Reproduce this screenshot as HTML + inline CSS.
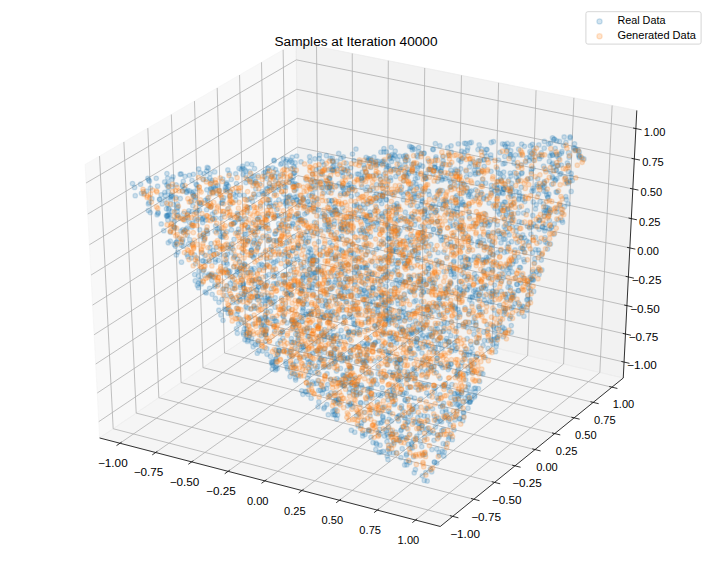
<!DOCTYPE html>
<html><head><meta charset="utf-8"><style>html,body{margin:0;padding:0;background:#fff;overflow:hidden}svg{display:block}circle{r:2.236px}</style></head><body><svg width="712" height="568" viewBox="0 0 712 568"><rect width="712" height="568" fill="#fff"/><polygon points="99.61,437.96 299.48,302.02 296.15,42.26 85.14,164.4" fill="rgb(242,242,242)" fill-opacity="0.5" stroke="rgb(242,242,242)" stroke-opacity="0.5" stroke-width="1"/><polygon points="299.48,302.02 623.25,378.02 636.8,110.43 296.15,42.26" fill="rgb(230,230,230)" fill-opacity="0.5" stroke="rgb(230,230,230)" stroke-opacity="0.5" stroke-width="1"/><polygon points="99.61,437.96 440.26,526.47 623.25,378.02 299.48,302.02" fill="rgb(236,236,236)" fill-opacity="0.5" stroke="rgb(236,236,236)" stroke-opacity="0.5" stroke-width="1"/><polyline points="99.61,437.96 440.26,526.47" fill="none" stroke="#000" stroke-width="0.8"/><polyline points="119.96,443.25 318.89,306.58 316.53,46.34" fill="none" stroke="#b0b0b0" stroke-width="0.8"/><polyline points="155.65,452.52 352.89,314.56 352.25,53.49" fill="none" stroke="#b0b0b0" stroke-width="0.8"/><polyline points="191.69,461.88 387.21,322.61 388.31,60.7" fill="none" stroke="#b0b0b0" stroke-width="0.8"/><polyline points="228.08,471.34 421.84,330.74 424.71,67.99" fill="none" stroke="#b0b0b0" stroke-width="0.8"/><polyline points="264.83,480.89 456.79,338.94 461.47,75.34" fill="none" stroke="#b0b0b0" stroke-width="0.8"/><polyline points="301.95,490.54 492.06,347.22 498.59,82.77" fill="none" stroke="#b0b0b0" stroke-width="0.8"/><polyline points="339.44,500.28 527.65,355.58 536.06,90.27" fill="none" stroke="#b0b0b0" stroke-width="0.8"/><polyline points="377.31,510.12 563.58,364.01 573.91,97.84" fill="none" stroke="#b0b0b0" stroke-width="0.8"/><polyline points="415.56,520.06 599.85,372.53 612.13,105.49" fill="none" stroke="#b0b0b0" stroke-width="0.8"/><polyline points="121.68,442.07 116.53,445.61" fill="none" stroke="#000" stroke-width="0.8"/><polyline points="157.35,451.33 152.24,454.9" fill="none" stroke="#000" stroke-width="0.8"/><polyline points="193.37,460.68 188.31,464.29" fill="none" stroke="#000" stroke-width="0.8"/><polyline points="229.75,470.13 224.73,473.77" fill="none" stroke="#000" stroke-width="0.8"/><polyline points="266.49,479.67 261.51,483.34" fill="none" stroke="#000" stroke-width="0.8"/><polyline points="303.59,489.3 298.66,493.01" fill="none" stroke="#000" stroke-width="0.8"/><polyline points="341.07,499.03 336.19,502.78" fill="none" stroke="#000" stroke-width="0.8"/><polyline points="378.92,508.85 374.09,512.65" fill="none" stroke="#000" stroke-width="0.8"/><polyline points="417.16,518.78 412.37,522.61" fill="none" stroke="#000" stroke-width="0.8"/><polyline points="623.25,378.02 440.26,526.47" fill="none" stroke="#000" stroke-width="0.8"/><polyline points="99.52,156.08 113.18,428.73 452.73,516.36" fill="none" stroke="#b0b0b0" stroke-width="0.8"/><polyline points="123.88,141.98 136.19,413.08 473.84,499.23" fill="none" stroke="#b0b0b0" stroke-width="0.8"/><polyline points="147.82,128.12 158.82,397.69 494.59,482.39" fill="none" stroke="#b0b0b0" stroke-width="0.8"/><polyline points="171.34,114.5 181.07,382.55 514.99,465.85" fill="none" stroke="#b0b0b0" stroke-width="0.8"/><polyline points="194.47,101.12 202.97,367.66 535.04,449.58" fill="none" stroke="#b0b0b0" stroke-width="0.8"/><polyline points="217.2,87.96 224.51,353.01 554.76,433.59" fill="none" stroke="#b0b0b0" stroke-width="0.8"/><polyline points="239.55,75.03 245.71,338.59 574.14,417.86" fill="none" stroke="#b0b0b0" stroke-width="0.8"/><polyline points="261.53,62.3 266.58,324.4 593.21,402.39" fill="none" stroke="#b0b0b0" stroke-width="0.8"/><polyline points="283.14,49.79 287.11,310.43 611.96,387.18" fill="none" stroke="#b0b0b0" stroke-width="0.8"/><polyline points="449.88,515.63 458.42,517.83" fill="none" stroke="#000" stroke-width="0.8"/><polyline points="471.02,498.51 479.5,500.67" fill="none" stroke="#000" stroke-width="0.8"/><polyline points="491.79,481.69 500.22,483.81" fill="none" stroke="#000" stroke-width="0.8"/><polyline points="512.2,465.15 520.58,467.24" fill="none" stroke="#000" stroke-width="0.8"/><polyline points="532.27,448.89 540.6,450.95" fill="none" stroke="#000" stroke-width="0.8"/><polyline points="552,432.91 560.28,434.93" fill="none" stroke="#000" stroke-width="0.8"/><polyline points="571.4,417.2 579.63,419.18" fill="none" stroke="#000" stroke-width="0.8"/><polyline points="590.48,401.74 598.67,403.69" fill="none" stroke="#000" stroke-width="0.8"/><polyline points="609.25,386.54 617.39,388.46" fill="none" stroke="#000" stroke-width="0.8"/><polyline points="623.25,378.02 636.8,110.43" fill="none" stroke="#000" stroke-width="0.8"/><polyline points="624.06,362.07 299.28,286.5 98.75,421.68" fill="none" stroke="#b0b0b0" stroke-width="0.8"/><polyline points="625.48,334.01 298.93,259.22 97.23,393.03" fill="none" stroke="#b0b0b0" stroke-width="0.8"/><polyline points="626.91,305.63 298.58,231.64 95.7,364.05" fill="none" stroke="#b0b0b0" stroke-width="0.8"/><polyline points="628.37,276.95 298.22,203.77 94.15,334.74" fill="none" stroke="#b0b0b0" stroke-width="0.8"/><polyline points="629.83,247.94 297.86,175.6 92.58,305.09" fill="none" stroke="#b0b0b0" stroke-width="0.8"/><polyline points="631.32,218.6 297.5,147.13 91,275.1" fill="none" stroke="#b0b0b0" stroke-width="0.8"/><polyline points="632.82,188.94 297.13,118.35 89.39,244.76" fill="none" stroke="#b0b0b0" stroke-width="0.8"/><polyline points="634.34,158.93 296.75,89.26 87.77,214.06" fill="none" stroke="#b0b0b0" stroke-width="0.8"/><polyline points="635.88,128.59 296.38,59.85 86.12,182.99" fill="none" stroke="#b0b0b0" stroke-width="0.8"/><polyline points="621.35,361.44 629.48,363.33" fill="none" stroke="#000" stroke-width="0.8"/><polyline points="622.75,333.38 630.93,335.26" fill="none" stroke="#000" stroke-width="0.8"/><polyline points="624.17,305.02 632.4,306.87" fill="none" stroke="#000" stroke-width="0.8"/><polyline points="625.61,276.33 633.89,278.17" fill="none" stroke="#000" stroke-width="0.8"/><polyline points="627.06,247.33 635.39,249.15" fill="none" stroke="#000" stroke-width="0.8"/><polyline points="628.53,218.01 636.9,219.8" fill="none" stroke="#000" stroke-width="0.8"/><polyline points="630.02,188.35 638.44,190.12" fill="none" stroke="#000" stroke-width="0.8"/><polyline points="631.52,158.35 639.99,160.1" fill="none" stroke="#000" stroke-width="0.8"/><polyline points="633.04,128.01 641.56,129.74" fill="none" stroke="#000" stroke-width="0.8"/><g font-family="Liberation Sans, sans-serif" font-size="10.5" text-anchor="middle" fill="#000"><text x="112.84" y="466.83" textLength="29.72" lengthAdjust="spacingAndGlyphs">−1.00</text><text x="148.52" y="476.18" textLength="29.72" lengthAdjust="spacingAndGlyphs">−0.75</text><text x="184.56" y="485.63" textLength="29.72" lengthAdjust="spacingAndGlyphs">−0.50</text><text x="220.95" y="495.16" textLength="29.72" lengthAdjust="spacingAndGlyphs">−0.25</text><text x="257.7" y="504.8" textLength="21.59" lengthAdjust="spacingAndGlyphs">0.00</text><text x="294.82" y="514.52" textLength="21.59" lengthAdjust="spacingAndGlyphs">0.25</text><text x="332.31" y="524.35" textLength="21.59" lengthAdjust="spacingAndGlyphs">0.50</text><text x="370.18" y="534.27" textLength="21.59" lengthAdjust="spacingAndGlyphs">0.75</text><text x="408.43" y="544.3" textLength="21.59" lengthAdjust="spacingAndGlyphs">1.00</text><text x="465.1" y="538.18" textLength="29.72" lengthAdjust="spacingAndGlyphs">−1.00</text><text x="486.1" y="520.95" textLength="29.72" lengthAdjust="spacingAndGlyphs">−0.75</text><text x="506.74" y="504.01" textLength="29.72" lengthAdjust="spacingAndGlyphs">−0.50</text><text x="527.03" y="487.36" textLength="29.72" lengthAdjust="spacingAndGlyphs">−0.25</text><text x="546.98" y="470.99" textLength="21.59" lengthAdjust="spacingAndGlyphs">0.00</text><text x="566.59" y="454.9" textLength="21.59" lengthAdjust="spacingAndGlyphs">0.25</text><text x="585.87" y="439.07" textLength="21.59" lengthAdjust="spacingAndGlyphs">0.50</text><text x="604.83" y="423.51" textLength="21.59" lengthAdjust="spacingAndGlyphs">0.75</text><text x="623.49" y="408.2" textLength="21.59" lengthAdjust="spacingAndGlyphs">1.00</text><text x="641.99" y="369.23" textLength="29.72" lengthAdjust="spacingAndGlyphs">−1.00</text><text x="643.51" y="341.19" textLength="29.72" lengthAdjust="spacingAndGlyphs">−0.75</text><text x="645.04" y="312.84" textLength="29.72" lengthAdjust="spacingAndGlyphs">−0.50</text><text x="646.59" y="284.17" textLength="29.72" lengthAdjust="spacingAndGlyphs">−0.25</text><text x="648.16" y="255.19" textLength="21.59" lengthAdjust="spacingAndGlyphs">0.00</text><text x="649.75" y="225.88" textLength="21.59" lengthAdjust="spacingAndGlyphs">0.25</text><text x="651.35" y="196.23" textLength="21.59" lengthAdjust="spacingAndGlyphs">0.50</text><text x="652.97" y="166.25" textLength="21.59" lengthAdjust="spacingAndGlyphs">0.75</text><text x="654.61" y="135.93" textLength="21.59" lengthAdjust="spacingAndGlyphs">1.00</text></g><g fill="#1f77b4" stroke="#1f77b4" fill-opacity="0.2" stroke-opacity="0.2" stroke-width="1.3"><circle cx="366.15" cy="267.24"/><circle cx="320.13" cy="350.44"/><circle cx="312.78" cy="353.22"/><circle cx="491.83" cy="245.14"/><circle cx="271.46" cy="361.79"/><circle cx="257.66" cy="296.7"/><circle cx="335.82" cy="209.94"/><circle cx="309.62" cy="327.94"/><circle cx="490.19" cy="221.73"/><circle cx="245.81" cy="218.53"/><circle cx="418.76" cy="151.71"/><circle cx="374.87" cy="325.92"/><circle cx="338.85" cy="399.38"/><circle cx="433.49" cy="332.15"/><circle cx="408.33" cy="241.32"/><circle cx="536.74" cy="184.53"/><circle cx="364.94" cy="208.21"/><circle cx="365.66" cy="303.8"/><circle cx="491.58" cy="263.59"/><circle cx="455.31" cy="350.25"/><circle cx="517.23" cy="165.7"/><circle cx="544.72" cy="230.87"/><circle cx="547.87" cy="197.57"/><circle cx="435.77" cy="212.11"/><circle cx="246.58" cy="328.96"/><circle cx="211.91" cy="180.48"/><circle cx="518.63" cy="149.24"/><circle cx="350.75" cy="353.28"/><circle cx="450.2" cy="226.16"/><circle cx="529.95" cy="299.24"/><circle cx="443.38" cy="429.57"/><circle cx="499.63" cy="305.35"/><circle cx="529.25" cy="160.58"/><circle cx="295.08" cy="348.2"/><circle cx="264.7" cy="176.51"/><circle cx="459.5" cy="405.96"/><circle cx="236.5" cy="183.55"/><circle cx="319.02" cy="373.79"/><circle cx="429.24" cy="169.59"/><circle cx="440.01" cy="297.74"/><circle cx="324.24" cy="317.41"/><circle cx="428.71" cy="336.87"/><circle cx="277.73" cy="354.17"/><circle cx="382.71" cy="196.39"/><circle cx="234.06" cy="222.93"/><circle cx="496.83" cy="328.5"/><circle cx="462.9" cy="291.51"/><circle cx="318.88" cy="401.95"/><circle cx="337.08" cy="273.35"/><circle cx="477.77" cy="299.15"/><circle cx="333.17" cy="414.77"/><circle cx="291.2" cy="294.6"/><circle cx="247.58" cy="226.94"/><circle cx="263.35" cy="332.85"/><circle cx="502.83" cy="268.74"/><circle cx="511.39" cy="212.66"/><circle cx="410.43" cy="279.29"/><circle cx="353.99" cy="332.76"/><circle cx="253.4" cy="273.07"/><circle cx="373.33" cy="288.21"/><circle cx="308.85" cy="374.89"/><circle cx="481.47" cy="171.86"/><circle cx="425.14" cy="314.09"/><circle cx="460.68" cy="293.42"/><circle cx="494.32" cy="339.32"/><circle cx="287.09" cy="367.08"/><circle cx="433.59" cy="229.11"/><circle cx="298.11" cy="227.7"/><circle cx="361.98" cy="217.2"/><circle cx="356.66" cy="394.76"/><circle cx="330.25" cy="158.41"/><circle cx="414.96" cy="354.72"/><circle cx="519.14" cy="221.63"/><circle cx="332.34" cy="315.59"/><circle cx="293.36" cy="173.21"/><circle cx="348.08" cy="185.08"/><circle cx="392.27" cy="257.39"/><circle cx="511.66" cy="189.73"/><circle cx="414.67" cy="173.11"/><circle cx="547.86" cy="196.88"/><circle cx="480.83" cy="194.04"/><circle cx="412.95" cy="369.43"/><circle cx="249.56" cy="207.98"/><circle cx="507.04" cy="299.44"/><circle cx="380.81" cy="184.87"/><circle cx="502.43" cy="327.18"/><circle cx="375.2" cy="298.37"/><circle cx="418.02" cy="193.46"/><circle cx="450.84" cy="170.14"/><circle cx="396.69" cy="296.78"/><circle cx="180.26" cy="218.39"/><circle cx="365.36" cy="233.94"/><circle cx="199.74" cy="203.19"/><circle cx="334.54" cy="275.97"/><circle cx="411.75" cy="216.58"/><circle cx="249.93" cy="198.97"/><circle cx="323.32" cy="389.64"/><circle cx="456.31" cy="185.94"/><circle cx="559.95" cy="174.24"/><circle cx="264.66" cy="285.23"/><circle cx="529.64" cy="227.91"/><circle cx="275.68" cy="181.07"/><circle cx="423.6" cy="281.51"/><circle cx="342.29" cy="186.07"/><circle cx="147.89" cy="178.33"/><circle cx="428.51" cy="268.48"/><circle cx="420.52" cy="281.33"/><circle cx="519.86" cy="306.84"/><circle cx="509.13" cy="234.9"/><circle cx="575.96" cy="149.65"/><circle cx="448.56" cy="420.67"/><circle cx="435.78" cy="158.82"/><circle cx="492.72" cy="270.23"/><circle cx="244.11" cy="195.39"/><circle cx="386.17" cy="320.33"/><circle cx="359.47" cy="247.82"/><circle cx="320.72" cy="317.6"/><circle cx="399.37" cy="318.32"/><circle cx="338.2" cy="317.89"/><circle cx="535.49" cy="237.39"/><circle cx="391.46" cy="345.13"/><circle cx="422.57" cy="259.65"/><circle cx="307.63" cy="201.92"/><circle cx="404.18" cy="219.02"/><circle cx="432.81" cy="311.23"/><circle cx="241.33" cy="293.21"/><circle cx="399.71" cy="370.13"/><circle cx="518.83" cy="198.45"/><circle cx="247.25" cy="272.97"/><circle cx="487.89" cy="234.57"/><circle cx="532.25" cy="278.69"/><circle cx="426.01" cy="173.67"/><circle cx="356.88" cy="206.12"/><circle cx="371.55" cy="223.24"/><circle cx="349.1" cy="378.69"/><circle cx="381.39" cy="296.42"/><circle cx="244.48" cy="169.44"/><circle cx="367.88" cy="250.9"/><circle cx="295.67" cy="334.18"/><circle cx="424.01" cy="217.52"/><circle cx="359.2" cy="230.41"/><circle cx="533.21" cy="280.01"/><circle cx="530.35" cy="145.83"/><circle cx="445.49" cy="383.58"/><circle cx="183.52" cy="213.56"/><circle cx="428.81" cy="226.18"/><circle cx="298.19" cy="205.02"/><circle cx="451.35" cy="351.35"/><circle cx="283.74" cy="281.43"/><circle cx="382.52" cy="393.42"/><circle cx="322.38" cy="393.39"/><circle cx="522.47" cy="248.54"/><circle cx="202.65" cy="222.51"/><circle cx="300.64" cy="283.94"/><circle cx="432.53" cy="408.77"/><circle cx="342.68" cy="381.96"/><circle cx="248.98" cy="336.48"/><circle cx="436.04" cy="287.41"/><circle cx="469.91" cy="360.97"/><circle cx="212.72" cy="218.66"/><circle cx="381.7" cy="203.56"/><circle cx="308.59" cy="241.22"/><circle cx="419.16" cy="209.33"/><circle cx="477.74" cy="245.64"/><circle cx="454.35" cy="342.59"/><circle cx="328.77" cy="210.89"/><circle cx="316.54" cy="383.39"/><circle cx="260.33" cy="318.92"/><circle cx="367" cy="360.22"/><circle cx="303.53" cy="276.82"/><circle cx="377.33" cy="402.24"/><circle cx="243.62" cy="334.52"/><circle cx="318.61" cy="311.15"/><circle cx="345.83" cy="379.19"/><circle cx="434.33" cy="282.69"/><circle cx="304.74" cy="214.1"/><circle cx="171.34" cy="196.46"/><circle cx="398.29" cy="371.86"/><circle cx="168.43" cy="214.68"/><circle cx="389.4" cy="251.34"/><circle cx="320.05" cy="354.21"/><circle cx="262.51" cy="351.01"/><circle cx="387.94" cy="273.79"/><circle cx="474.51" cy="396.88"/><circle cx="471.37" cy="369.77"/><circle cx="468.9" cy="194.48"/><circle cx="425.88" cy="243.47"/><circle cx="561.88" cy="212.69"/><circle cx="570.03" cy="137.91"/><circle cx="295.73" cy="327.31"/><circle cx="318.01" cy="406.82"/><circle cx="250.15" cy="300.76"/><circle cx="505.98" cy="213.69"/><circle cx="261.7" cy="304.58"/><circle cx="376.65" cy="444.34"/><circle cx="392.05" cy="338.27"/><circle cx="504.47" cy="311.8"/><circle cx="170.47" cy="232.3"/><circle cx="511.74" cy="183.5"/><circle cx="451.18" cy="152.22"/><circle cx="319.23" cy="158.61"/><circle cx="489.72" cy="301.64"/><circle cx="232.71" cy="298.07"/><circle cx="286.71" cy="242.85"/><circle cx="269.95" cy="203.31"/><circle cx="266.46" cy="258.76"/><circle cx="460.68" cy="257.59"/><circle cx="380.07" cy="445.18"/><circle cx="312.12" cy="287.95"/><circle cx="352.15" cy="218.94"/><circle cx="320.6" cy="296.32"/><circle cx="378.15" cy="341.21"/><circle cx="326.84" cy="312.69"/><circle cx="410.97" cy="277.22"/><circle cx="315.12" cy="372.25"/><circle cx="478.85" cy="295.89"/><circle cx="269.76" cy="199.66"/><circle cx="398.94" cy="440.65"/><circle cx="361" cy="425.83"/><circle cx="191.32" cy="258.03"/><circle cx="533.7" cy="190.5"/><circle cx="166.86" cy="185.01"/><circle cx="373" cy="175.72"/><circle cx="382.17" cy="277.59"/><circle cx="358.23" cy="425.94"/><circle cx="207.37" cy="198.58"/><circle cx="362.07" cy="277.34"/><circle cx="351.6" cy="368.13"/><circle cx="287.03" cy="322.91"/><circle cx="382.03" cy="229.64"/><circle cx="291.51" cy="198.24"/><circle cx="428.55" cy="384.88"/><circle cx="303.02" cy="238.3"/><circle cx="358.55" cy="273.29"/><circle cx="275.19" cy="297.73"/><circle cx="458.46" cy="398.94"/><circle cx="282.71" cy="182.38"/><circle cx="500.51" cy="178.86"/><circle cx="291.65" cy="226.13"/><circle cx="392.49" cy="434.23"/><circle cx="406.71" cy="192.56"/><circle cx="361.2" cy="289.42"/><circle cx="372.44" cy="287.28"/><circle cx="324.97" cy="348.3"/><circle cx="416.83" cy="406.99"/><circle cx="411.72" cy="268.03"/><circle cx="331.33" cy="232.1"/><circle cx="213.09" cy="276.97"/><circle cx="511.32" cy="308.19"/><circle cx="401.34" cy="249.93"/><circle cx="293.31" cy="259.52"/><circle cx="372.74" cy="223.66"/><circle cx="291.22" cy="295.28"/><circle cx="157.63" cy="186.24"/><circle cx="222.02" cy="247.44"/><circle cx="470.1" cy="392"/><circle cx="428.51" cy="160.96"/><circle cx="226.74" cy="184.39"/><circle cx="253.18" cy="346.87"/><circle cx="288.25" cy="256.13"/><circle cx="286.23" cy="200.98"/><circle cx="382.87" cy="417.73"/><circle cx="432.86" cy="204.68"/><circle cx="324.85" cy="366.49"/><circle cx="534.55" cy="262.96"/><circle cx="331.87" cy="288.39"/><circle cx="479.64" cy="381.47"/><circle cx="244.97" cy="264.84"/><circle cx="248.3" cy="272.58"/><circle cx="466.67" cy="354.99"/><circle cx="278.49" cy="183.47"/><circle cx="263.9" cy="330.93"/><circle cx="474.18" cy="256.76"/><circle cx="265.74" cy="317.74"/><circle cx="512.54" cy="264.07"/><circle cx="483.98" cy="296.03"/><circle cx="292.06" cy="162.35"/><circle cx="339.63" cy="165.93"/><circle cx="470.14" cy="400.79"/><circle cx="490.17" cy="252.62"/><circle cx="466.94" cy="401.03"/><circle cx="196.34" cy="212.49"/><circle cx="529.9" cy="151.72"/><circle cx="331.65" cy="252.05"/><circle cx="424.78" cy="437.51"/><circle cx="402.61" cy="330.02"/><circle cx="409.44" cy="434.11"/><circle cx="470.06" cy="402.08"/><circle cx="516.58" cy="226.98"/><circle cx="434.06" cy="340.73"/><circle cx="516.8" cy="284.17"/><circle cx="308.52" cy="282.74"/><circle cx="334.11" cy="354.57"/><circle cx="238.04" cy="311.27"/><circle cx="270.04" cy="298.69"/><circle cx="511.5" cy="241.69"/><circle cx="280.66" cy="164.27"/><circle cx="340.46" cy="368.4"/><circle cx="306.35" cy="274.45"/><circle cx="320.82" cy="359.81"/><circle cx="450.78" cy="282.52"/><circle cx="535.47" cy="208.94"/><circle cx="361.44" cy="178.94"/><circle cx="352.8" cy="406.9"/><circle cx="485.67" cy="183.2"/><circle cx="277.43" cy="284.39"/><circle cx="415.05" cy="250.35"/><circle cx="211.83" cy="280.29"/><circle cx="461.94" cy="188.45"/><circle cx="167.81" cy="220.09"/><circle cx="450.06" cy="220.96"/><circle cx="440.62" cy="177.19"/><circle cx="365.99" cy="296.77"/><circle cx="494.44" cy="310.02"/><circle cx="493.23" cy="254.83"/><circle cx="249.65" cy="171.5"/><circle cx="231.29" cy="179.39"/><circle cx="292.72" cy="223.12"/><circle cx="469.01" cy="206.11"/><circle cx="204.29" cy="238.54"/><circle cx="436.94" cy="397.42"/><circle cx="291.11" cy="351.75"/><circle cx="327.93" cy="311.23"/><circle cx="271.31" cy="205.8"/><circle cx="165.2" cy="195.49"/><circle cx="345.02" cy="273.58"/><circle cx="457.69" cy="205.88"/><circle cx="547.08" cy="243.31"/><circle cx="259.13" cy="269.44"/><circle cx="401.25" cy="436.25"/><circle cx="343.63" cy="323.45"/><circle cx="426.27" cy="178.53"/><circle cx="455.35" cy="197.25"/><circle cx="382.94" cy="162.21"/><circle cx="442.46" cy="405.72"/><circle cx="304.61" cy="206.68"/><circle cx="492.11" cy="241.95"/><circle cx="433.64" cy="433.09"/><circle cx="391.12" cy="291.18"/><circle cx="453.26" cy="206.16"/><circle cx="311.65" cy="274.58"/><circle cx="177.05" cy="208.53"/><circle cx="432.38" cy="282.93"/><circle cx="201.4" cy="283.88"/><circle cx="370.32" cy="395.91"/><circle cx="212.31" cy="214.19"/><circle cx="301.33" cy="221.47"/><circle cx="340.8" cy="158.47"/><circle cx="420.5" cy="226.53"/><circle cx="366.15" cy="172.18"/><circle cx="167.67" cy="178.08"/><circle cx="337.53" cy="415.02"/><circle cx="447.1" cy="323.2"/><circle cx="258.76" cy="194.39"/><circle cx="426.63" cy="344.89"/><circle cx="340.52" cy="354.54"/><circle cx="412.53" cy="217.07"/><circle cx="441.61" cy="421.84"/><circle cx="289.77" cy="195.7"/><circle cx="502.93" cy="204.48"/><circle cx="286.33" cy="202.12"/><circle cx="348.67" cy="381.89"/><circle cx="414.43" cy="196.84"/><circle cx="422.1" cy="190.93"/><circle cx="293.24" cy="177.43"/><circle cx="257.39" cy="228.1"/><circle cx="267.85" cy="168.86"/><circle cx="415.57" cy="387.22"/><circle cx="389.61" cy="452.54"/><circle cx="499.71" cy="237.35"/><circle cx="399.66" cy="415.37"/><circle cx="288.93" cy="308.04"/><circle cx="394.05" cy="440.6"/><circle cx="382.01" cy="284.55"/><circle cx="383.52" cy="192"/><circle cx="341.11" cy="268.96"/><circle cx="342.53" cy="268.48"/><circle cx="472.01" cy="348.23"/><circle cx="355.31" cy="378.07"/><circle cx="450.82" cy="242.05"/><circle cx="221.4" cy="237.07"/><circle cx="309.68" cy="269.63"/><circle cx="243.08" cy="284.94"/><circle cx="423.49" cy="343.87"/><circle cx="412.53" cy="147.83"/><circle cx="305.98" cy="179.86"/><circle cx="257.41" cy="296.16"/><circle cx="491" cy="158.34"/><circle cx="279.23" cy="350.94"/><circle cx="226.34" cy="295.46"/><circle cx="351.38" cy="196.27"/><circle cx="339.26" cy="344.15"/><circle cx="265.55" cy="340.69"/><circle cx="441.16" cy="171.1"/><circle cx="316.68" cy="278.2"/><circle cx="292.05" cy="319.88"/><circle cx="528.78" cy="242.11"/><circle cx="369.95" cy="214.92"/><circle cx="223.69" cy="262.91"/><circle cx="465.96" cy="389.84"/><circle cx="391.38" cy="421"/><circle cx="440.03" cy="394.73"/><circle cx="417.07" cy="338.42"/><circle cx="234.02" cy="239.34"/><circle cx="389.99" cy="412.92"/><circle cx="339.85" cy="355.86"/><circle cx="515.45" cy="154.88"/><circle cx="441.08" cy="240.49"/><circle cx="350.39" cy="375.73"/><circle cx="544.51" cy="212.7"/><circle cx="388.43" cy="257.92"/><circle cx="482.93" cy="373.79"/><circle cx="457.13" cy="404.73"/><circle cx="524.75" cy="201.55"/><circle cx="219.23" cy="228.51"/><circle cx="488.08" cy="235.78"/><circle cx="395.24" cy="229.65"/><circle cx="382.99" cy="451.32"/><circle cx="293.32" cy="364.38"/><circle cx="469.7" cy="142.91"/><circle cx="413.83" cy="411.51"/><circle cx="461.99" cy="158.86"/><circle cx="529.51" cy="282.54"/><circle cx="401.49" cy="192.6"/><circle cx="511.13" cy="205"/><circle cx="324.7" cy="219.36"/><circle cx="245.46" cy="324.98"/><circle cx="256.88" cy="289.85"/><circle cx="237.32" cy="333.25"/><circle cx="352.27" cy="190.04"/><circle cx="237.14" cy="308.1"/><circle cx="329.5" cy="178.31"/><circle cx="318.32" cy="315.73"/><circle cx="530.71" cy="178.27"/><circle cx="312.18" cy="258.29"/><circle cx="510.12" cy="191.5"/><circle cx="208.87" cy="274.15"/><circle cx="512.17" cy="271.95"/><circle cx="342.13" cy="222.29"/><circle cx="445.92" cy="409.66"/><circle cx="381.62" cy="213.83"/><circle cx="444.7" cy="416.7"/><circle cx="361.99" cy="186.75"/><circle cx="171.25" cy="195.86"/><circle cx="295.79" cy="321.51"/><circle cx="351.65" cy="187.17"/><circle cx="450.83" cy="397.68"/><circle cx="512.24" cy="219.51"/><circle cx="422" cy="353.08"/><circle cx="352.2" cy="244.03"/><circle cx="333.12" cy="328.77"/><circle cx="454.1" cy="393.45"/><circle cx="512.03" cy="294.68"/><circle cx="366.58" cy="355.61"/><circle cx="398.1" cy="303.89"/><circle cx="415.3" cy="331.32"/><circle cx="343.64" cy="187.97"/><circle cx="420.67" cy="279.33"/><circle cx="400.38" cy="374.17"/><circle cx="439.44" cy="455.3"/><circle cx="313.58" cy="383.78"/><circle cx="377.07" cy="384.25"/><circle cx="543.84" cy="191.1"/><circle cx="326.63" cy="388.53"/><circle cx="499.66" cy="267.33"/><circle cx="434.83" cy="163.7"/><circle cx="393.04" cy="375.48"/><circle cx="222.99" cy="320.29"/><circle cx="350.95" cy="347.51"/><circle cx="205.23" cy="291.95"/><circle cx="510.5" cy="300.05"/><circle cx="204.21" cy="173.63"/><circle cx="267.39" cy="189.09"/><circle cx="203.77" cy="234.59"/><circle cx="345.56" cy="279.14"/><circle cx="394.26" cy="205.24"/><circle cx="568.07" cy="203.88"/><circle cx="403.31" cy="344.73"/><circle cx="377.81" cy="311.64"/><circle cx="454.98" cy="345.33"/><circle cx="508.88" cy="273.44"/><circle cx="381.96" cy="295.47"/><circle cx="432.34" cy="249.66"/><circle cx="434.63" cy="392.14"/><circle cx="369.63" cy="290.98"/><circle cx="271.46" cy="187.69"/><circle cx="370.99" cy="437.25"/><circle cx="354.7" cy="389.9"/><circle cx="344.32" cy="357.44"/><circle cx="343.56" cy="287.32"/><circle cx="184.71" cy="220.59"/><circle cx="239.72" cy="299.34"/><circle cx="299.21" cy="201.86"/><circle cx="327.54" cy="220.74"/><circle cx="266.75" cy="178.5"/><circle cx="340.28" cy="337.5"/><circle cx="489.89" cy="296.59"/><circle cx="283.49" cy="316.6"/><circle cx="479.35" cy="294.98"/><circle cx="558.86" cy="158.63"/><circle cx="455.16" cy="416.05"/><circle cx="409.68" cy="146.39"/><circle cx="433.82" cy="370.25"/><circle cx="302.53" cy="321.45"/><circle cx="491.37" cy="339.17"/><circle cx="496.72" cy="291.97"/><circle cx="341.89" cy="360.97"/><circle cx="322.05" cy="255.68"/><circle cx="178.88" cy="238.71"/><circle cx="285.75" cy="187.48"/><circle cx="457.44" cy="376.36"/><circle cx="435.95" cy="156.87"/><circle cx="286.11" cy="197.69"/><circle cx="357.39" cy="295.73"/><circle cx="267.05" cy="194.27"/><circle cx="357.57" cy="257.25"/><circle cx="404.36" cy="293.94"/><circle cx="274.7" cy="194.02"/><circle cx="210.58" cy="188.9"/><circle cx="250.64" cy="316.81"/><circle cx="387.61" cy="225.94"/><circle cx="441.99" cy="180.03"/><circle cx="456.88" cy="195.57"/><circle cx="426.87" cy="219.31"/><circle cx="509.11" cy="224.36"/><circle cx="442.48" cy="190.65"/><circle cx="370.09" cy="416.06"/><circle cx="443.36" cy="204.67"/><circle cx="571.17" cy="173.5"/><circle cx="474.55" cy="274.11"/><circle cx="344.08" cy="219.46"/><circle cx="222.87" cy="237.07"/><circle cx="301.31" cy="218.98"/><circle cx="438.65" cy="344.1"/><circle cx="392.52" cy="194.53"/><circle cx="399.81" cy="309.85"/><circle cx="309.95" cy="161.34"/><circle cx="366.77" cy="311.56"/><circle cx="282.74" cy="331.76"/><circle cx="263.02" cy="193.86"/><circle cx="304.05" cy="329.63"/><circle cx="400.78" cy="430.58"/><circle cx="388.77" cy="344.26"/><circle cx="393.56" cy="169.94"/><circle cx="475.44" cy="388.13"/><circle cx="533.72" cy="274.05"/><circle cx="500.83" cy="209.73"/><circle cx="320.58" cy="348.63"/><circle cx="287.11" cy="159.66"/><circle cx="352.63" cy="390.7"/><circle cx="385.43" cy="301.15"/><circle cx="436.81" cy="448.94"/><circle cx="411.64" cy="443.3"/><circle cx="334.23" cy="285.34"/><circle cx="206.27" cy="292.93"/><circle cx="360.16" cy="359.86"/><circle cx="442.28" cy="165.74"/><circle cx="176.21" cy="184.83"/><circle cx="480.47" cy="292.23"/><circle cx="364.96" cy="247.14"/><circle cx="424.22" cy="416.02"/><circle cx="214.93" cy="284.94"/><circle cx="347.35" cy="282.36"/><circle cx="263.58" cy="325.2"/><circle cx="436.44" cy="362.23"/><circle cx="289.57" cy="356.35"/><circle cx="182.67" cy="185.86"/><circle cx="407.98" cy="216.62"/><circle cx="533.63" cy="160.34"/><circle cx="308.68" cy="336.34"/><circle cx="310.69" cy="339.62"/><circle cx="292.74" cy="365.01"/><circle cx="274.78" cy="275.66"/><circle cx="436.28" cy="325.04"/><circle cx="386.78" cy="166.68"/><circle cx="390.25" cy="352.91"/><circle cx="314.16" cy="232.39"/><circle cx="347.21" cy="168.91"/><circle cx="507.92" cy="208.72"/><circle cx="227.68" cy="208.95"/><circle cx="487.26" cy="222.57"/><circle cx="332.19" cy="158.12"/><circle cx="436.76" cy="170.53"/><circle cx="537.79" cy="178.84"/><circle cx="395.47" cy="432.16"/><circle cx="501" cy="242.84"/><circle cx="392.09" cy="244.73"/><circle cx="368.44" cy="158.58"/><circle cx="418.55" cy="423.33"/><circle cx="471.89" cy="303.69"/><circle cx="410.15" cy="188.42"/><circle cx="369.98" cy="372.74"/><circle cx="514.04" cy="292.05"/><circle cx="424.43" cy="176.22"/><circle cx="405.11" cy="437.85"/><circle cx="419.1" cy="281.89"/><circle cx="255.49" cy="344.71"/><circle cx="330.21" cy="272.96"/><circle cx="410.66" cy="351.73"/><circle cx="449.44" cy="367.58"/><circle cx="365.14" cy="239.22"/><circle cx="401.9" cy="328.82"/><circle cx="323.44" cy="367.43"/><circle cx="221.5" cy="202.9"/><circle cx="412.83" cy="201.13"/><circle cx="295.01" cy="285.18"/><circle cx="455.02" cy="180.75"/><circle cx="254.85" cy="280.46"/><circle cx="183.58" cy="232.3"/><circle cx="405.14" cy="173.79"/><circle cx="541.68" cy="254.87"/><circle cx="394.12" cy="320.79"/><circle cx="475.78" cy="292.66"/><circle cx="457.57" cy="392.29"/><circle cx="261.21" cy="317.96"/><circle cx="485.52" cy="288.59"/><circle cx="581.83" cy="157.86"/><circle cx="505.69" cy="331.28"/><circle cx="372.09" cy="274.3"/><circle cx="380.1" cy="412.96"/><circle cx="454.22" cy="274.34"/><circle cx="445.03" cy="288.72"/><circle cx="454.34" cy="277.01"/><circle cx="281.76" cy="163.34"/><circle cx="274.88" cy="176.6"/><circle cx="197.31" cy="285.33"/><circle cx="447.73" cy="244.04"/><circle cx="399.27" cy="190.9"/><circle cx="412.63" cy="251.58"/><circle cx="310.6" cy="371.55"/><circle cx="543.55" cy="166.12"/><circle cx="212.14" cy="294.31"/><circle cx="342.85" cy="385.58"/><circle cx="337.6" cy="341.47"/><circle cx="264.2" cy="295.06"/><circle cx="488.51" cy="277.95"/><circle cx="414.62" cy="247.41"/><circle cx="474.01" cy="363.87"/><circle cx="428.7" cy="274.34"/><circle cx="318.54" cy="241.7"/><circle cx="251.29" cy="250.52"/><circle cx="366.31" cy="402.64"/><circle cx="222.13" cy="299.34"/><circle cx="463.87" cy="268.94"/><circle cx="380.52" cy="281.1"/><circle cx="373.2" cy="315.15"/><circle cx="456.46" cy="337.26"/><circle cx="391.71" cy="232.05"/><circle cx="419.92" cy="423.98"/><circle cx="329.49" cy="321.88"/><circle cx="470.47" cy="238.1"/><circle cx="215.15" cy="231.32"/><circle cx="507.05" cy="251.6"/><circle cx="294.51" cy="172.92"/><circle cx="457.72" cy="370.62"/><circle cx="411.89" cy="164.32"/><circle cx="437.21" cy="221.69"/><circle cx="326.37" cy="289.37"/><circle cx="428.5" cy="309.55"/><circle cx="274.13" cy="318.33"/><circle cx="254.71" cy="196.92"/><circle cx="272.01" cy="363.89"/><circle cx="378.5" cy="288.47"/><circle cx="339.84" cy="296.17"/><circle cx="294.51" cy="275.24"/><circle cx="338.38" cy="398.83"/><circle cx="427.53" cy="428.3"/><circle cx="168.64" cy="209.64"/><circle cx="318.77" cy="267.08"/><circle cx="266.23" cy="319.91"/><circle cx="442.59" cy="239.82"/><circle cx="473.18" cy="161.51"/><circle cx="502.14" cy="192.7"/><circle cx="323.98" cy="164.81"/><circle cx="331.34" cy="339.48"/><circle cx="358.71" cy="174.22"/><circle cx="374.8" cy="210.82"/><circle cx="286.25" cy="166.33"/><circle cx="335.31" cy="210.17"/><circle cx="322.27" cy="174.23"/><circle cx="354.29" cy="267.16"/><circle cx="409.77" cy="386.99"/><circle cx="328.9" cy="227.12"/><circle cx="356.77" cy="385.9"/><circle cx="315.84" cy="325.39"/><circle cx="399.96" cy="230.79"/><circle cx="527.29" cy="210.73"/><circle cx="300.58" cy="262.9"/><circle cx="271.2" cy="176.62"/><circle cx="354.34" cy="272.41"/><circle cx="296.49" cy="199.92"/><circle cx="243.5" cy="245.37"/><circle cx="223.8" cy="197.74"/><circle cx="341.81" cy="383.03"/><circle cx="539.66" cy="220.05"/><circle cx="390.63" cy="207.35"/><circle cx="293.67" cy="236.55"/><circle cx="452.31" cy="439.71"/><circle cx="367.45" cy="343.65"/><circle cx="431.16" cy="234.75"/><circle cx="321.69" cy="331.98"/><circle cx="305.68" cy="314.51"/><circle cx="397.61" cy="235.16"/><circle cx="430" cy="280.49"/><circle cx="523.71" cy="259.43"/><circle cx="373.73" cy="345.26"/><circle cx="187.87" cy="256.71"/><circle cx="331.04" cy="315.31"/><circle cx="430.03" cy="255.87"/><circle cx="344.85" cy="375.63"/><circle cx="527.31" cy="226.18"/><circle cx="351.34" cy="278.59"/><circle cx="321.35" cy="181.12"/><circle cx="500.45" cy="250.38"/><circle cx="366.85" cy="349.33"/><circle cx="437.1" cy="421.53"/><circle cx="177.82" cy="207.16"/><circle cx="186.43" cy="229.39"/><circle cx="538.88" cy="156.12"/><circle cx="272.23" cy="175.01"/><circle cx="192.07" cy="211.56"/><circle cx="388.37" cy="352.85"/><circle cx="347.73" cy="405.79"/><circle cx="391.7" cy="238.44"/><circle cx="448.86" cy="437.12"/><circle cx="491.58" cy="268.62"/><circle cx="448.9" cy="418.74"/><circle cx="450.17" cy="269.34"/><circle cx="339.12" cy="279.24"/><circle cx="230" cy="271.25"/><circle cx="312.35" cy="195.6"/><circle cx="418.41" cy="245.54"/><circle cx="326.57" cy="253.83"/><circle cx="252.66" cy="245.06"/><circle cx="478.42" cy="388.57"/><circle cx="539.47" cy="158.64"/><circle cx="516.18" cy="191.47"/><circle cx="202.48" cy="260.78"/><circle cx="413.15" cy="405.43"/><circle cx="404.63" cy="263.74"/><circle cx="352.5" cy="154.02"/><circle cx="379.34" cy="358.77"/><circle cx="194.71" cy="274.58"/><circle cx="386.14" cy="286.4"/><circle cx="458.98" cy="204.78"/><circle cx="501.2" cy="291.46"/><circle cx="270.48" cy="311.22"/><circle cx="385.32" cy="332.46"/><circle cx="171.99" cy="211.52"/><circle cx="354.04" cy="187.29"/><circle cx="336.74" cy="400.14"/><circle cx="383.57" cy="275.28"/><circle cx="395.67" cy="260.74"/><circle cx="302.72" cy="274.56"/><circle cx="463.77" cy="412.85"/><circle cx="417.63" cy="156.92"/><circle cx="296.23" cy="215.5"/><circle cx="464.98" cy="307.86"/><circle cx="172.13" cy="219.38"/><circle cx="433.35" cy="306.66"/><circle cx="491.56" cy="189.47"/><circle cx="400.13" cy="440.34"/><circle cx="422.63" cy="328.67"/><circle cx="277.52" cy="215.58"/><circle cx="356.36" cy="361.67"/><circle cx="335.61" cy="258.2"/><circle cx="188.88" cy="210.78"/><circle cx="434.47" cy="462.18"/><circle cx="514.51" cy="172.33"/><circle cx="344.03" cy="193.55"/><circle cx="303.18" cy="198.38"/><circle cx="462.09" cy="260.88"/><circle cx="522.63" cy="196.31"/><circle cx="455.16" cy="217.81"/><circle cx="413.24" cy="311.1"/><circle cx="561.35" cy="153.15"/><circle cx="384.76" cy="256.84"/><circle cx="347.96" cy="291.74"/><circle cx="399.46" cy="359.81"/><circle cx="520.49" cy="267.63"/><circle cx="449.78" cy="267.74"/><circle cx="267.48" cy="282.38"/><circle cx="492.82" cy="290.99"/><circle cx="316.83" cy="368.16"/><circle cx="364.52" cy="167.72"/><circle cx="484.8" cy="152.91"/><circle cx="405.51" cy="281.66"/><circle cx="344.46" cy="289"/><circle cx="362.77" cy="267.21"/><circle cx="567.04" cy="182.29"/><circle cx="367.76" cy="390.98"/><circle cx="272.99" cy="361.55"/><circle cx="385.75" cy="271.01"/><circle cx="258.64" cy="287.12"/><circle cx="312.04" cy="286.26"/><circle cx="501.71" cy="330.97"/><circle cx="457.08" cy="287.53"/><circle cx="379.1" cy="247.13"/><circle cx="295.97" cy="189"/><circle cx="402.89" cy="316.35"/><circle cx="247.77" cy="227.44"/><circle cx="168.25" cy="191.5"/><circle cx="324.75" cy="215.35"/><circle cx="503.43" cy="336.63"/><circle cx="539.12" cy="274.4"/><circle cx="384.29" cy="377.67"/><circle cx="335.58" cy="259.73"/><circle cx="301.01" cy="290.11"/><circle cx="295.05" cy="162.75"/><circle cx="549.35" cy="161.46"/><circle cx="470.3" cy="174.51"/><circle cx="372.86" cy="290.91"/><circle cx="405.24" cy="418.03"/><circle cx="323.71" cy="247.36"/><circle cx="369.14" cy="159.87"/><circle cx="392.69" cy="389.9"/><circle cx="405.43" cy="282.63"/><circle cx="357.36" cy="384.08"/><circle cx="364.12" cy="346"/><circle cx="511.19" cy="220.22"/><circle cx="406.92" cy="464.8"/><circle cx="314.33" cy="200.63"/><circle cx="283.02" cy="303.41"/><circle cx="342.43" cy="207.9"/><circle cx="237.36" cy="271.77"/><circle cx="286.02" cy="361.61"/><circle cx="538.85" cy="144.94"/><circle cx="389.55" cy="308.56"/><circle cx="422.05" cy="198.22"/><circle cx="230.93" cy="313.8"/><circle cx="216.79" cy="193.23"/><circle cx="535.41" cy="249.66"/><circle cx="464.42" cy="354.63"/><circle cx="370.48" cy="236.6"/><circle cx="189.52" cy="222.48"/><circle cx="468.08" cy="387.06"/><circle cx="376.66" cy="327.83"/><circle cx="457.01" cy="227.55"/><circle cx="355.1" cy="281.87"/><circle cx="316.34" cy="297.99"/><circle cx="226.22" cy="309.35"/><circle cx="406.95" cy="237.24"/><circle cx="383.79" cy="304.95"/><circle cx="388.35" cy="426.4"/><circle cx="289.4" cy="241.12"/><circle cx="375.6" cy="265.87"/><circle cx="245.13" cy="291.7"/><circle cx="318.97" cy="362.49"/><circle cx="491.22" cy="142.5"/><circle cx="229.68" cy="309.82"/><circle cx="197.32" cy="188.54"/><circle cx="214.65" cy="286.64"/><circle cx="444.24" cy="307.62"/><circle cx="215.3" cy="262.09"/><circle cx="336.81" cy="169.02"/><circle cx="357.72" cy="355.74"/><circle cx="490.71" cy="154.93"/><circle cx="579.27" cy="156.25"/><circle cx="387.58" cy="193.09"/><circle cx="283.39" cy="230.57"/><circle cx="379.93" cy="269.12"/><circle cx="442.23" cy="262.93"/><circle cx="341.84" cy="229.94"/><circle cx="149.44" cy="181.18"/><circle cx="297.05" cy="199.88"/><circle cx="328.44" cy="280.07"/><circle cx="372.63" cy="252.32"/><circle cx="532.35" cy="144.28"/><circle cx="193.65" cy="196.18"/><circle cx="481.8" cy="148.99"/><circle cx="349.88" cy="367.05"/><circle cx="513.36" cy="158.77"/><circle cx="313.59" cy="273.05"/><circle cx="148.37" cy="210.4"/><circle cx="395.96" cy="280.28"/><circle cx="403.03" cy="281.84"/><circle cx="223.56" cy="214.05"/><circle cx="404.34" cy="417.43"/><circle cx="451.16" cy="364.22"/><circle cx="461.13" cy="289.91"/><circle cx="510.8" cy="316.4"/><circle cx="392.45" cy="284.4"/><circle cx="173.5" cy="204.61"/><circle cx="381.55" cy="376.93"/><circle cx="472.29" cy="328.65"/><circle cx="526.75" cy="299.81"/><circle cx="364.37" cy="267.81"/><circle cx="407.48" cy="265.8"/><circle cx="308.02" cy="394.31"/><circle cx="389.73" cy="314.12"/><circle cx="465.59" cy="348.99"/><circle cx="309.17" cy="313.88"/><circle cx="287.55" cy="368.72"/><circle cx="300.49" cy="350.13"/><circle cx="326.19" cy="304.6"/><circle cx="439.93" cy="331.99"/><circle cx="394.66" cy="168.82"/><circle cx="373.05" cy="442.6"/><circle cx="389.83" cy="312.61"/><circle cx="343.73" cy="282.52"/><circle cx="477.55" cy="166"/><circle cx="235.43" cy="195.84"/><circle cx="260.88" cy="326.65"/><circle cx="546.79" cy="194.96"/><circle cx="541.32" cy="260.12"/><circle cx="209.77" cy="178.13"/><circle cx="386.23" cy="199.4"/><circle cx="398.31" cy="173.39"/><circle cx="383.13" cy="332.94"/><circle cx="499.01" cy="204.22"/><circle cx="232.47" cy="288.18"/><circle cx="205" cy="255.67"/><circle cx="519.64" cy="195.67"/><circle cx="268.1" cy="167.92"/><circle cx="348.24" cy="193.23"/><circle cx="279.4" cy="240.3"/><circle cx="461.45" cy="229.07"/><circle cx="294.41" cy="323.91"/><circle cx="400.46" cy="167.65"/><circle cx="362.35" cy="343.58"/><circle cx="335.4" cy="299.34"/><circle cx="283.18" cy="219.58"/><circle cx="463.6" cy="237.11"/><circle cx="433.65" cy="366.78"/><circle cx="298.87" cy="300.11"/><circle cx="250.28" cy="179.17"/><circle cx="327.67" cy="294.63"/><circle cx="359.47" cy="288.82"/><circle cx="341.23" cy="172.07"/><circle cx="183.2" cy="246.16"/><circle cx="312.88" cy="256.14"/><circle cx="249.4" cy="333.39"/><circle cx="416.08" cy="374.39"/><circle cx="413.74" cy="163.93"/><circle cx="419.89" cy="164.97"/><circle cx="289.22" cy="226.08"/><circle cx="340.54" cy="228.97"/><circle cx="342.94" cy="374.99"/><circle cx="484.37" cy="340.55"/><circle cx="329.09" cy="223.27"/><circle cx="211.76" cy="257.32"/><circle cx="235.78" cy="173.74"/><circle cx="268.51" cy="295.74"/><circle cx="368.33" cy="431.2"/><circle cx="482.46" cy="312.24"/><circle cx="510.75" cy="150.72"/><circle cx="170.27" cy="241.07"/><circle cx="447.68" cy="147.68"/><circle cx="182.28" cy="185.24"/><circle cx="385.97" cy="179.1"/><circle cx="325.46" cy="306.29"/><circle cx="300.37" cy="298.37"/><circle cx="194.06" cy="195.54"/><circle cx="274.55" cy="218.25"/><circle cx="461.83" cy="391.19"/><circle cx="388.86" cy="447.68"/><circle cx="366.04" cy="254.71"/><circle cx="454.32" cy="212.04"/><circle cx="287.71" cy="293.24"/><circle cx="541.88" cy="269.89"/><circle cx="344.29" cy="316.8"/><circle cx="565.86" cy="196.66"/><circle cx="504.06" cy="314.5"/><circle cx="355.39" cy="346.86"/><circle cx="350.39" cy="254.48"/><circle cx="422.12" cy="425.45"/><circle cx="423.22" cy="454.66"/><circle cx="332.87" cy="411.15"/><circle cx="476.06" cy="342.34"/><circle cx="423.1" cy="360.24"/><circle cx="226.95" cy="189.12"/><circle cx="298.06" cy="245.14"/><circle cx="534.78" cy="259"/><circle cx="242.28" cy="222.44"/><circle cx="394.71" cy="395.55"/><circle cx="504.28" cy="328.73"/><circle cx="440.28" cy="363.79"/><circle cx="432.99" cy="173.85"/><circle cx="412.96" cy="333.11"/><circle cx="228.16" cy="245.12"/><circle cx="426.17" cy="377.08"/><circle cx="252.42" cy="201.3"/><circle cx="412.25" cy="149.82"/><circle cx="298.43" cy="213.42"/><circle cx="241.43" cy="265.58"/><circle cx="329.39" cy="282.33"/><circle cx="402.89" cy="410.87"/><circle cx="309.36" cy="238.06"/><circle cx="349.95" cy="314.34"/><circle cx="272.86" cy="302.16"/><circle cx="258.05" cy="175.71"/><circle cx="396.34" cy="208.17"/><circle cx="359.48" cy="267.17"/><circle cx="298.3" cy="335.5"/><circle cx="309.87" cy="259.92"/><circle cx="282.73" cy="310.32"/><circle cx="175.98" cy="197.51"/><circle cx="292.54" cy="327.69"/><circle cx="449.32" cy="390.66"/><circle cx="510.34" cy="287.83"/><circle cx="180.32" cy="198.49"/><circle cx="499.1" cy="233.46"/><circle cx="524.76" cy="245.56"/><circle cx="394.87" cy="219.01"/><circle cx="482.51" cy="179.51"/><circle cx="258.84" cy="228.39"/><circle cx="227.05" cy="190.63"/><circle cx="461.64" cy="393.66"/><circle cx="336.83" cy="359.29"/><circle cx="488.86" cy="291.64"/><circle cx="349.47" cy="317.2"/><circle cx="356" cy="269.5"/><circle cx="575.06" cy="148.31"/><circle cx="289.43" cy="182.16"/><circle cx="243.58" cy="283.2"/><circle cx="486.26" cy="149.5"/><circle cx="462.77" cy="420.64"/><circle cx="205.82" cy="261.87"/><circle cx="526.75" cy="157.79"/><circle cx="198.51" cy="276.13"/><circle cx="465.77" cy="379.82"/><circle cx="491.94" cy="192.93"/><circle cx="247.76" cy="240.48"/><circle cx="269.19" cy="239.42"/><circle cx="273.91" cy="240.69"/><circle cx="560.25" cy="205.16"/><circle cx="518.74" cy="199.66"/><circle cx="480.31" cy="160.7"/><circle cx="466" cy="171.24"/><circle cx="498.09" cy="211.8"/><circle cx="198.53" cy="287.69"/><circle cx="378.06" cy="373.67"/><circle cx="533.08" cy="279.75"/><circle cx="551.79" cy="184.31"/><circle cx="285.97" cy="274.42"/><circle cx="449.96" cy="202.12"/><circle cx="310.69" cy="181.81"/><circle cx="354.55" cy="324.63"/><circle cx="504.56" cy="144.32"/><circle cx="385.37" cy="274.74"/><circle cx="520.56" cy="283.08"/><circle cx="232.59" cy="302.45"/><circle cx="409.77" cy="319.48"/><circle cx="387.18" cy="364.94"/><circle cx="335.94" cy="280"/><circle cx="231.52" cy="229.96"/><circle cx="236.95" cy="302.22"/><circle cx="290.71" cy="168.83"/><circle cx="361.89" cy="282.12"/><circle cx="425.91" cy="319.17"/><circle cx="389.8" cy="372.05"/><circle cx="384.43" cy="293.46"/><circle cx="290.85" cy="203.66"/><circle cx="386.06" cy="315.48"/><circle cx="175.52" cy="246.32"/><circle cx="460.51" cy="406.71"/><circle cx="238.98" cy="270.14"/><circle cx="492.6" cy="339.91"/><circle cx="182.54" cy="190.74"/><circle cx="424.85" cy="210.18"/><circle cx="420.75" cy="367.24"/><circle cx="342.51" cy="307.41"/><circle cx="344.08" cy="226.58"/><circle cx="442.54" cy="385.99"/><circle cx="552.36" cy="176.65"/><circle cx="510.23" cy="267.76"/><circle cx="235.67" cy="200.23"/><circle cx="394.27" cy="226.73"/><circle cx="358.96" cy="313.34"/><circle cx="344.71" cy="294.68"/><circle cx="409.42" cy="377.24"/><circle cx="398.09" cy="228.58"/><circle cx="440.01" cy="378.26"/><circle cx="429.92" cy="334.74"/><circle cx="457.05" cy="317.71"/><circle cx="294.78" cy="197.1"/><circle cx="340.19" cy="264.4"/><circle cx="440.61" cy="344.25"/><circle cx="444.08" cy="200.97"/><circle cx="369.21" cy="271.5"/><circle cx="334.86" cy="282.37"/><circle cx="360.6" cy="392.72"/><circle cx="342.3" cy="354.54"/><circle cx="414.43" cy="341.15"/><circle cx="327.08" cy="373.74"/><circle cx="406.06" cy="256.91"/><circle cx="367.66" cy="234.22"/><circle cx="308.46" cy="311.44"/><circle cx="523.33" cy="249.24"/><circle cx="405.14" cy="376.27"/><circle cx="372.07" cy="261.27"/><circle cx="412.65" cy="409.16"/><circle cx="452.03" cy="347.91"/><circle cx="375.33" cy="342.27"/><circle cx="557.24" cy="165.58"/><circle cx="331.09" cy="212.73"/><circle cx="269.84" cy="239.49"/><circle cx="359.9" cy="351.59"/><circle cx="349.92" cy="291.2"/><circle cx="357.97" cy="240.36"/><circle cx="258.95" cy="226.69"/><circle cx="362.77" cy="228.32"/><circle cx="409.2" cy="333.82"/><circle cx="435.03" cy="303.82"/><circle cx="258.56" cy="286.35"/><circle cx="414.73" cy="290.14"/><circle cx="503.7" cy="172.02"/><circle cx="488.4" cy="232.56"/><circle cx="465.71" cy="374.13"/><circle cx="206.84" cy="189.74"/><circle cx="360.38" cy="207.09"/><circle cx="269.34" cy="183.15"/><circle cx="445.7" cy="200.18"/><circle cx="526.62" cy="310.41"/><circle cx="321.22" cy="229.92"/><circle cx="319.33" cy="336.78"/><circle cx="229.36" cy="196.28"/><circle cx="473.13" cy="322.01"/><circle cx="387.95" cy="307.76"/><circle cx="187.32" cy="235.3"/><circle cx="322.23" cy="161.81"/><circle cx="439.35" cy="228.09"/><circle cx="247.94" cy="308.06"/><circle cx="265.43" cy="334.5"/><circle cx="169" cy="208.28"/><circle cx="421.94" cy="362.72"/><circle cx="422.66" cy="166.22"/><circle cx="326.43" cy="229.77"/><circle cx="320.91" cy="384.19"/><circle cx="441.88" cy="430.58"/><circle cx="343.8" cy="168.97"/><circle cx="445.42" cy="178.78"/><circle cx="450.08" cy="414.47"/><circle cx="463.07" cy="183.35"/><circle cx="322.55" cy="305.79"/><circle cx="446.83" cy="175.29"/><circle cx="475.29" cy="289.77"/><circle cx="245.92" cy="170.98"/><circle cx="550.64" cy="171.26"/><circle cx="294.87" cy="342.81"/><circle cx="348.22" cy="221.27"/><circle cx="395.93" cy="339.44"/><circle cx="556.78" cy="212.06"/><circle cx="182.47" cy="241.75"/><circle cx="239.74" cy="268.61"/><circle cx="534.13" cy="153.54"/><circle cx="402.49" cy="241.79"/><circle cx="356.45" cy="384.54"/><circle cx="512.16" cy="226.64"/><circle cx="268.57" cy="214.08"/><circle cx="388.22" cy="299.27"/><circle cx="317.83" cy="285.78"/><circle cx="470.66" cy="162.89"/><circle cx="298.65" cy="344.21"/><circle cx="524.45" cy="237.78"/><circle cx="285.23" cy="282.68"/><circle cx="375.63" cy="200.65"/><circle cx="455.49" cy="169.4"/><circle cx="410.94" cy="358.26"/><circle cx="173.37" cy="226.54"/><circle cx="406.67" cy="428.1"/><circle cx="312.57" cy="179.29"/><circle cx="439.85" cy="145.73"/><circle cx="470.41" cy="297.05"/><circle cx="409.61" cy="462.45"/><circle cx="499.15" cy="277.67"/><circle cx="211.33" cy="274.7"/><circle cx="412.03" cy="198.54"/><circle cx="504.14" cy="273.74"/><circle cx="542.39" cy="226.57"/><circle cx="316.05" cy="169.68"/><circle cx="398.02" cy="260.6"/><circle cx="159.79" cy="199.41"/><circle cx="469.65" cy="299.75"/><circle cx="519.36" cy="207.37"/><circle cx="479.9" cy="242.7"/><circle cx="224.05" cy="234.31"/><circle cx="271.46" cy="249.92"/><circle cx="318.7" cy="390.44"/><circle cx="275.51" cy="368.03"/><circle cx="524.37" cy="261.68"/><circle cx="381.91" cy="422.24"/><circle cx="556.87" cy="178.54"/><circle cx="284.55" cy="186.51"/><circle cx="166.47" cy="208.77"/><circle cx="525.73" cy="162.29"/><circle cx="326.85" cy="334.72"/><circle cx="486.41" cy="257.45"/><circle cx="430.35" cy="349.33"/><circle cx="335.41" cy="256.72"/><circle cx="417.76" cy="260.7"/><circle cx="473.96" cy="334.27"/><circle cx="551.49" cy="226.83"/><circle cx="307.74" cy="255.65"/><circle cx="267.45" cy="300.07"/><circle cx="463.97" cy="157.17"/><circle cx="469.26" cy="239.33"/><circle cx="231.16" cy="296.67"/><circle cx="236.86" cy="191.87"/><circle cx="414.55" cy="398.17"/><circle cx="247.42" cy="341.38"/><circle cx="394.82" cy="270"/><circle cx="176.45" cy="242.08"/><circle cx="566.29" cy="199.54"/><circle cx="451.34" cy="173.7"/><circle cx="174.32" cy="244.57"/><circle cx="443.26" cy="331.12"/><circle cx="283.94" cy="259.37"/><circle cx="538.2" cy="269.57"/><circle cx="363.88" cy="420.56"/><circle cx="436.52" cy="260.31"/><circle cx="336.61" cy="185.94"/><circle cx="511.55" cy="188"/><circle cx="518.2" cy="302.62"/><circle cx="285.99" cy="290.64"/><circle cx="226.18" cy="289.44"/><circle cx="283.39" cy="158.84"/><circle cx="444.09" cy="203.97"/><circle cx="370.25" cy="304.01"/><circle cx="275.58" cy="359.25"/><circle cx="328.83" cy="177.99"/><circle cx="330.51" cy="289.28"/><circle cx="405.17" cy="399.67"/><circle cx="335.72" cy="399.82"/><circle cx="550.39" cy="243.93"/><circle cx="583.93" cy="158.94"/><circle cx="462.74" cy="202.2"/><circle cx="423.31" cy="307.02"/><circle cx="302.56" cy="310.8"/><circle cx="192.04" cy="227.12"/><circle cx="429.27" cy="194.64"/><circle cx="421.15" cy="204.77"/><circle cx="343.81" cy="317.42"/><circle cx="292.56" cy="342.61"/><circle cx="189.68" cy="239.68"/><circle cx="392.36" cy="251.37"/><circle cx="415.36" cy="178.76"/><circle cx="383.42" cy="420.5"/><circle cx="364.19" cy="290.68"/><circle cx="521.67" cy="144.07"/><circle cx="310.79" cy="249.69"/><circle cx="344.52" cy="386.08"/><circle cx="317.22" cy="350.25"/><circle cx="324.95" cy="352.54"/><circle cx="367.64" cy="225.16"/><circle cx="437.61" cy="191.31"/><circle cx="289.17" cy="264.42"/><circle cx="412.96" cy="169.11"/><circle cx="312.74" cy="186.52"/><circle cx="458.08" cy="404.08"/><circle cx="293.31" cy="267.11"/><circle cx="458.74" cy="393.82"/><circle cx="246.11" cy="297.89"/><circle cx="400.29" cy="359.52"/><circle cx="579.32" cy="157.53"/><circle cx="408.45" cy="421.68"/><circle cx="146.48" cy="191.21"/><circle cx="365.36" cy="284.63"/><circle cx="440.27" cy="420.89"/><circle cx="462" cy="362.61"/><circle cx="442.79" cy="156.61"/><circle cx="338.63" cy="237.92"/><circle cx="181.25" cy="245.23"/><circle cx="410.59" cy="244.94"/><circle cx="342.35" cy="263.9"/><circle cx="373.17" cy="188.46"/><circle cx="405.79" cy="424.74"/><circle cx="459.09" cy="298.82"/><circle cx="211.53" cy="182.42"/><circle cx="247.76" cy="241.71"/><circle cx="398.62" cy="420.95"/><circle cx="328.88" cy="187.39"/><circle cx="400.51" cy="359.75"/><circle cx="454.88" cy="419.97"/><circle cx="309.11" cy="369.16"/><circle cx="426.29" cy="324.52"/><circle cx="291.26" cy="286.31"/><circle cx="167.69" cy="204.75"/><circle cx="483.76" cy="271.56"/><circle cx="366.71" cy="245.13"/><circle cx="475.88" cy="322.14"/><circle cx="205.63" cy="220.08"/><circle cx="194.75" cy="218.96"/><circle cx="407.99" cy="387.65"/><circle cx="425.25" cy="454.47"/><circle cx="448.85" cy="342.27"/><circle cx="394.08" cy="404.69"/><circle cx="453.82" cy="235.17"/><circle cx="242.9" cy="168.33"/><circle cx="407.51" cy="222.49"/><circle cx="239.71" cy="262.34"/><circle cx="502.53" cy="143.95"/><circle cx="384.85" cy="302.91"/><circle cx="555.11" cy="179.68"/><circle cx="171.84" cy="186.59"/><circle cx="431.93" cy="449.57"/><circle cx="408.87" cy="326.3"/><circle cx="442.3" cy="411.86"/><circle cx="371.5" cy="374.55"/><circle cx="425.63" cy="178.02"/><circle cx="311.09" cy="253.16"/><circle cx="258.8" cy="319.63"/><circle cx="466.88" cy="289.39"/><circle cx="390.83" cy="157.5"/><circle cx="352.7" cy="379.09"/><circle cx="340.25" cy="283.35"/><circle cx="289.52" cy="161.93"/><circle cx="239.68" cy="195.06"/><circle cx="320.64" cy="390.21"/><circle cx="427.46" cy="307.35"/><circle cx="333.85" cy="211.1"/><circle cx="269.18" cy="299.33"/><circle cx="351.41" cy="403.32"/><circle cx="458.02" cy="309.49"/><circle cx="275.82" cy="261.66"/><circle cx="297.95" cy="340.46"/><circle cx="435.09" cy="329.29"/><circle cx="537.26" cy="186.27"/><circle cx="425.84" cy="272.5"/><circle cx="359.96" cy="330.34"/><circle cx="207.67" cy="200.67"/><circle cx="323.53" cy="317.57"/><circle cx="267.57" cy="224.71"/><circle cx="305.74" cy="242.88"/><circle cx="279.64" cy="227.93"/><circle cx="347.55" cy="224.9"/><circle cx="296.76" cy="320.15"/><circle cx="265.7" cy="334.95"/><circle cx="261.34" cy="264.06"/><circle cx="353.55" cy="319.44"/><circle cx="567.36" cy="162.97"/><circle cx="528.56" cy="288.03"/><circle cx="189.5" cy="190.91"/><circle cx="570.16" cy="136.83"/><circle cx="331.83" cy="200.52"/><circle cx="437.47" cy="277.1"/><circle cx="487.08" cy="149.57"/><circle cx="450.17" cy="187.57"/><circle cx="478.55" cy="255.93"/><circle cx="409.79" cy="348.69"/><circle cx="378.34" cy="220.87"/><circle cx="304.43" cy="301.61"/><circle cx="271.02" cy="304.02"/><circle cx="408.14" cy="160.26"/><circle cx="352.62" cy="303.2"/><circle cx="277.81" cy="260.17"/><circle cx="397.92" cy="379.17"/><circle cx="165.07" cy="199.83"/><circle cx="423.54" cy="327.32"/><circle cx="531.41" cy="279.22"/><circle cx="374.18" cy="360.79"/><circle cx="432.77" cy="149.28"/><circle cx="549.99" cy="155.98"/><circle cx="302.91" cy="394.37"/><circle cx="251.87" cy="280.28"/><circle cx="209.8" cy="193.91"/><circle cx="195.26" cy="280.84"/><circle cx="245.97" cy="306.86"/><circle cx="266.85" cy="265.1"/><circle cx="398.19" cy="318.5"/><circle cx="410.43" cy="279.6"/><circle cx="226" cy="183.97"/><circle cx="397.44" cy="220.86"/><circle cx="492.31" cy="302.11"/><circle cx="265.3" cy="286.65"/><circle cx="360.61" cy="233.07"/><circle cx="301.73" cy="390.81"/><circle cx="199.5" cy="210.31"/><circle cx="479.93" cy="312.58"/><circle cx="439.15" cy="190.44"/><circle cx="286.63" cy="351.21"/><circle cx="309.32" cy="287.65"/><circle cx="481.33" cy="221.35"/><circle cx="408.25" cy="260.59"/><circle cx="539.14" cy="253.08"/><circle cx="297.05" cy="323.71"/><circle cx="538.88" cy="220.79"/><circle cx="422.26" cy="287.94"/><circle cx="175.88" cy="242.87"/><circle cx="310.12" cy="361.52"/><circle cx="361.6" cy="178.3"/><circle cx="511.35" cy="332.22"/><circle cx="269.25" cy="187.08"/><circle cx="441.15" cy="323.87"/><circle cx="471.39" cy="190.94"/><circle cx="442.16" cy="451.24"/><circle cx="453.73" cy="271.49"/><circle cx="568.4" cy="165.27"/><circle cx="293.44" cy="324.25"/><circle cx="254" cy="305.76"/><circle cx="392.39" cy="375.54"/><circle cx="451.38" cy="274.51"/><circle cx="294.51" cy="167.62"/><circle cx="505.49" cy="146.34"/><circle cx="474.27" cy="278.63"/><circle cx="578.75" cy="154.97"/><circle cx="381.84" cy="335.11"/><circle cx="381.33" cy="198.41"/><circle cx="479.18" cy="216.04"/><circle cx="230.16" cy="283.51"/><circle cx="334.36" cy="234.72"/><circle cx="265.76" cy="314.19"/><circle cx="383.42" cy="302.79"/><circle cx="437.75" cy="199.02"/><circle cx="422.3" cy="202.07"/><circle cx="344.45" cy="193.45"/><circle cx="417.8" cy="239.6"/><circle cx="275.24" cy="215.64"/><circle cx="556.96" cy="156.12"/><circle cx="349.12" cy="187.78"/><circle cx="456.02" cy="170.86"/><circle cx="545.85" cy="210.35"/><circle cx="503.14" cy="187.82"/><circle cx="483.83" cy="197.79"/><circle cx="466.55" cy="266.75"/><circle cx="444.37" cy="296.45"/><circle cx="387.08" cy="434.31"/><circle cx="203.05" cy="179.49"/><circle cx="332.56" cy="170.45"/><circle cx="438.45" cy="339.66"/><circle cx="450.99" cy="283.79"/><circle cx="409.27" cy="252.93"/><circle cx="556.43" cy="154.57"/><circle cx="298.58" cy="216.37"/><circle cx="356.77" cy="415.91"/><circle cx="336.22" cy="314.2"/><circle cx="478.82" cy="241.54"/><circle cx="542.72" cy="227"/><circle cx="388.12" cy="437.01"/><circle cx="352.72" cy="232.88"/><circle cx="272.77" cy="167.94"/><circle cx="416.99" cy="197.57"/><circle cx="328.03" cy="283.32"/><circle cx="346.22" cy="163.18"/><circle cx="311.21" cy="314.63"/><circle cx="369.83" cy="388.67"/><circle cx="539.52" cy="219.92"/><circle cx="371.93" cy="409.54"/><circle cx="545.35" cy="224.41"/><circle cx="388.57" cy="228.43"/><circle cx="379.64" cy="429.3"/><circle cx="422.18" cy="371.84"/><circle cx="382.12" cy="161.45"/><circle cx="420.74" cy="333.21"/><circle cx="132.48" cy="183.52"/><circle cx="396.75" cy="367.42"/><circle cx="254.89" cy="283.89"/><circle cx="545.69" cy="207.16"/><circle cx="439.43" cy="204.22"/><circle cx="421.97" cy="429.32"/><circle cx="422.41" cy="475.78"/><circle cx="135.26" cy="195.71"/><circle cx="436.77" cy="463.1"/><circle cx="134.57" cy="187.47"/><circle cx="361.39" cy="422.92"/><circle cx="317.64" cy="366.65"/><circle cx="500.73" cy="208.35"/><circle cx="512.78" cy="298.21"/><circle cx="164.78" cy="192.37"/><circle cx="488.73" cy="269.37"/><circle cx="497.31" cy="196.27"/><circle cx="397.8" cy="159.91"/><circle cx="434.93" cy="347.3"/><circle cx="298.87" cy="300.81"/><circle cx="276.75" cy="241.67"/><circle cx="243.37" cy="269.86"/><circle cx="451.33" cy="321.99"/><circle cx="252.35" cy="280.7"/><circle cx="409.18" cy="171.96"/><circle cx="497.56" cy="252.76"/><circle cx="397.32" cy="280.15"/><circle cx="496.52" cy="262.89"/><circle cx="341.35" cy="272.45"/><circle cx="233.94" cy="257.17"/><circle cx="405.09" cy="400.36"/><circle cx="377.68" cy="306.92"/><circle cx="473.7" cy="291.23"/><circle cx="328.22" cy="394.78"/><circle cx="227.45" cy="254.02"/><circle cx="251.6" cy="289.1"/><circle cx="376.44" cy="305.27"/><circle cx="254.52" cy="234.57"/><circle cx="402.19" cy="448.65"/><circle cx="280.6" cy="332.8"/><circle cx="251.15" cy="309.09"/><circle cx="227.1" cy="285.89"/><circle cx="249.94" cy="333.46"/><circle cx="552.3" cy="155.2"/><circle cx="412.5" cy="447.94"/><circle cx="361.97" cy="259.77"/><circle cx="369.94" cy="212.05"/><circle cx="559.53" cy="141.51"/><circle cx="548.89" cy="213.91"/><circle cx="190.74" cy="201.71"/><circle cx="557.25" cy="192.25"/><circle cx="328.97" cy="301.27"/><circle cx="252.61" cy="256.12"/><circle cx="513.04" cy="307.11"/><circle cx="356.68" cy="266.54"/><circle cx="486.47" cy="155.96"/><circle cx="429.92" cy="328.66"/><circle cx="341.59" cy="250.36"/><circle cx="262.55" cy="237.69"/><circle cx="351.03" cy="217.37"/><circle cx="407.66" cy="371.99"/><circle cx="550.49" cy="143.2"/><circle cx="472.45" cy="372.74"/><circle cx="404.47" cy="335.05"/><circle cx="394.74" cy="335.31"/><circle cx="456.04" cy="222.38"/><circle cx="314.86" cy="273.05"/><circle cx="390.18" cy="155.93"/><circle cx="309.27" cy="269.41"/><circle cx="468.49" cy="384.67"/><circle cx="262.38" cy="300.09"/><circle cx="437.6" cy="221.3"/><circle cx="357.4" cy="327.94"/><circle cx="503.15" cy="163.93"/><circle cx="437.51" cy="358.04"/><circle cx="463.27" cy="204.95"/><circle cx="458.38" cy="369.26"/><circle cx="406.42" cy="438.16"/><circle cx="396.82" cy="417.74"/><circle cx="200.69" cy="204.51"/><circle cx="401.32" cy="363.17"/><circle cx="206.65" cy="171.06"/><circle cx="355.64" cy="258.48"/><circle cx="274.37" cy="301.9"/><circle cx="277.78" cy="343.66"/><circle cx="414.96" cy="380.75"/><circle cx="293.85" cy="284.97"/><circle cx="264.19" cy="193.44"/><circle cx="574.56" cy="143.77"/><circle cx="222.92" cy="200.45"/><circle cx="420.29" cy="275.82"/><circle cx="377.91" cy="423.22"/><circle cx="336.71" cy="418.75"/><circle cx="254.22" cy="268.37"/><circle cx="389.83" cy="158.57"/><circle cx="428.8" cy="310.09"/><circle cx="360.3" cy="210.94"/><circle cx="553.74" cy="139.5"/><circle cx="518.02" cy="213.05"/><circle cx="402.62" cy="218.04"/><circle cx="246.87" cy="332.25"/><circle cx="568.55" cy="152.67"/><circle cx="215.43" cy="298.47"/><circle cx="265.56" cy="171.92"/><circle cx="406.36" cy="455.25"/><circle cx="316.13" cy="260.59"/><circle cx="381" cy="452.06"/><circle cx="425.32" cy="346.6"/><circle cx="258.06" cy="247.2"/><circle cx="340.49" cy="224.56"/><circle cx="292.19" cy="157.24"/><circle cx="462.11" cy="217.89"/><circle cx="547.4" cy="207.68"/><circle cx="250.45" cy="294.01"/><circle cx="257.86" cy="341.76"/><circle cx="555.36" cy="180.52"/><circle cx="451.95" cy="384.53"/><circle cx="399.41" cy="164.47"/><circle cx="364.96" cy="434.42"/><circle cx="337.98" cy="334.16"/><circle cx="254.62" cy="297.69"/><circle cx="298.26" cy="220.01"/><circle cx="324.22" cy="336.7"/><circle cx="416.77" cy="155.51"/><circle cx="422.71" cy="313.8"/><circle cx="318.33" cy="209.9"/><circle cx="299.98" cy="219.14"/><circle cx="447.64" cy="208.02"/><circle cx="380.75" cy="395.67"/><circle cx="240.34" cy="218.58"/><circle cx="418.7" cy="147.56"/><circle cx="286.59" cy="206.08"/><circle cx="307.23" cy="304.25"/><circle cx="370.07" cy="296.28"/><circle cx="343.52" cy="188.69"/><circle cx="458.25" cy="143.87"/><circle cx="376.43" cy="207.47"/><circle cx="498.79" cy="173.18"/><circle cx="338.69" cy="153.48"/><circle cx="334.88" cy="349.29"/><circle cx="348.84" cy="189.3"/><circle cx="184.85" cy="189.07"/><circle cx="499.02" cy="191.9"/><circle cx="418.92" cy="427.67"/><circle cx="473.45" cy="223.13"/><circle cx="187.34" cy="227.87"/><circle cx="331.83" cy="258.15"/><circle cx="294.15" cy="185.08"/><circle cx="187.48" cy="217.22"/><circle cx="354.92" cy="284.85"/><circle cx="365.64" cy="267.55"/><circle cx="209.62" cy="288.28"/><circle cx="426.99" cy="238.75"/><circle cx="325.92" cy="301.29"/><circle cx="268.23" cy="240.76"/><circle cx="348.93" cy="249.98"/><circle cx="467.06" cy="279.25"/><circle cx="497.79" cy="336.71"/><circle cx="407.52" cy="169.48"/><circle cx="159.52" cy="199.34"/><circle cx="447.41" cy="312.03"/><circle cx="484.28" cy="262.4"/><circle cx="243.15" cy="332.66"/><circle cx="340.93" cy="292.7"/><circle cx="331.3" cy="312.7"/><circle cx="500.18" cy="173.7"/><circle cx="317.22" cy="269.5"/><circle cx="283.24" cy="254.53"/><circle cx="405.58" cy="155.34"/><circle cx="396.42" cy="214.23"/><circle cx="314.91" cy="188.97"/><circle cx="467.93" cy="258.81"/><circle cx="551.63" cy="153.23"/><circle cx="470.77" cy="365.63"/><circle cx="400.43" cy="297.53"/><circle cx="476.52" cy="258.63"/><circle cx="339.21" cy="403.51"/><circle cx="408.53" cy="413.68"/><circle cx="238.06" cy="214.85"/><circle cx="417.23" cy="206.17"/><circle cx="242.68" cy="238.69"/><circle cx="374.96" cy="343.11"/><circle cx="299.87" cy="356.38"/><circle cx="390.12" cy="317.29"/><circle cx="380.48" cy="259.44"/><circle cx="416.51" cy="342.24"/><circle cx="370.22" cy="190.64"/><circle cx="379.12" cy="306.86"/><circle cx="437.84" cy="233.55"/><circle cx="552.9" cy="163.2"/><circle cx="330.57" cy="379.26"/><circle cx="332.77" cy="166.59"/><circle cx="549.45" cy="208.69"/><circle cx="553.95" cy="234.26"/><circle cx="462.89" cy="293.55"/><circle cx="536.16" cy="204.73"/><circle cx="292.79" cy="183.98"/><circle cx="238.55" cy="229.14"/><circle cx="364.67" cy="176.34"/><circle cx="311.18" cy="186.63"/><circle cx="144.2" cy="193.43"/><circle cx="378.28" cy="305.33"/><circle cx="368.04" cy="200.9"/><circle cx="405.29" cy="212.22"/><circle cx="498.75" cy="193.42"/><circle cx="306.75" cy="331.02"/><circle cx="381.92" cy="346.04"/><circle cx="215.67" cy="274.98"/><circle cx="267.2" cy="215.71"/><circle cx="234.82" cy="256.07"/><circle cx="453.55" cy="262.4"/><circle cx="370.94" cy="202.52"/><circle cx="352.1" cy="384.72"/><circle cx="504.54" cy="208.18"/><circle cx="464.14" cy="256.82"/><circle cx="337.94" cy="213.8"/><circle cx="403.43" cy="194.64"/><circle cx="443.18" cy="443.65"/><circle cx="351.81" cy="316.94"/><circle cx="379.05" cy="350.47"/><circle cx="428.76" cy="345.71"/><circle cx="556.39" cy="170.09"/><circle cx="436.9" cy="358.31"/><circle cx="180.93" cy="231.05"/><circle cx="207.55" cy="233.45"/><circle cx="238.96" cy="317.98"/><circle cx="222.5" cy="203.14"/><circle cx="549.39" cy="220.42"/><circle cx="428.49" cy="316.5"/><circle cx="428.27" cy="306.96"/><circle cx="474.15" cy="316.88"/><circle cx="272.3" cy="362.7"/><circle cx="410.86" cy="334.14"/><circle cx="188.48" cy="244.2"/><circle cx="483.95" cy="270.49"/><circle cx="313.28" cy="293.49"/><circle cx="441.61" cy="167.52"/><circle cx="257.28" cy="353.16"/><circle cx="396.6" cy="343.12"/><circle cx="242.5" cy="252.64"/><circle cx="316.93" cy="182.08"/><circle cx="433.51" cy="229.65"/><circle cx="518.68" cy="175.27"/><circle cx="309.66" cy="156.74"/><circle cx="256.79" cy="290.2"/><circle cx="350.36" cy="404.78"/><circle cx="400.89" cy="360.62"/><circle cx="484.29" cy="159.39"/><circle cx="518.6" cy="290.56"/><circle cx="492.75" cy="344.17"/><circle cx="556.6" cy="140.79"/><circle cx="414.2" cy="472.85"/><circle cx="223.03" cy="288.87"/><circle cx="370.13" cy="398.03"/><circle cx="308.48" cy="251.95"/><circle cx="515.8" cy="277.65"/><circle cx="205.27" cy="200.29"/><circle cx="315.42" cy="351.29"/><circle cx="270.79" cy="254.75"/><circle cx="460.98" cy="199.19"/><circle cx="385.98" cy="376.52"/><circle cx="425.76" cy="284.53"/><circle cx="259.65" cy="184.03"/><circle cx="396.98" cy="247.35"/><circle cx="260.53" cy="255.34"/><circle cx="200.04" cy="217.69"/><circle cx="251.32" cy="255.32"/><circle cx="387.81" cy="224.34"/><circle cx="213.14" cy="250.52"/><circle cx="355.15" cy="260.45"/><circle cx="410.93" cy="447.99"/><circle cx="212.58" cy="219.15"/><circle cx="506.68" cy="223.81"/><circle cx="487.33" cy="331.08"/><circle cx="367.15" cy="216.81"/><circle cx="256.83" cy="243.1"/><circle cx="182.9" cy="229.71"/><circle cx="384" cy="407.47"/><circle cx="409.03" cy="173.58"/><circle cx="477.48" cy="282.01"/><circle cx="339.07" cy="183.69"/><circle cx="226.75" cy="182.67"/><circle cx="425.03" cy="178.53"/><circle cx="384.04" cy="161.17"/><circle cx="462.14" cy="204.1"/><circle cx="295.56" cy="378.1"/><circle cx="305.13" cy="220.99"/><circle cx="163.78" cy="230.67"/><circle cx="521.21" cy="237.71"/><circle cx="410.72" cy="292.05"/><circle cx="366.57" cy="344.68"/><circle cx="362.44" cy="371.3"/><circle cx="334.26" cy="363.24"/><circle cx="484.31" cy="243.99"/><circle cx="457.26" cy="373.66"/><circle cx="386.96" cy="441.52"/><circle cx="514.52" cy="256.41"/><circle cx="460.05" cy="395.42"/><circle cx="495.05" cy="208.37"/><circle cx="323.83" cy="408.6"/><circle cx="320.03" cy="250.11"/><circle cx="376.37" cy="193.65"/><circle cx="238.56" cy="323.78"/><circle cx="148.61" cy="180.09"/><circle cx="259.03" cy="243.54"/><circle cx="507.31" cy="269.38"/><circle cx="404.64" cy="158.38"/><circle cx="427.49" cy="408.77"/><circle cx="409.58" cy="228.22"/><circle cx="494.46" cy="285.08"/><circle cx="476.58" cy="276.8"/><circle cx="290.9" cy="372.19"/><circle cx="265.86" cy="334.37"/><circle cx="364.21" cy="412.25"/><circle cx="386.87" cy="394.51"/><circle cx="354.3" cy="395.28"/><circle cx="282.83" cy="315.4"/><circle cx="228.98" cy="272.45"/><circle cx="496.49" cy="184.79"/><circle cx="246.35" cy="336.4"/><circle cx="505.42" cy="294.61"/><circle cx="371.54" cy="379.53"/><circle cx="381.43" cy="241.37"/><circle cx="545.78" cy="169.64"/><circle cx="522.77" cy="199.65"/><circle cx="310.06" cy="354.41"/><circle cx="448.22" cy="288.85"/><circle cx="323.09" cy="187.69"/><circle cx="475.44" cy="172.88"/><circle cx="463.59" cy="416.66"/><circle cx="478.29" cy="160.84"/><circle cx="398.27" cy="285.26"/><circle cx="342.64" cy="298.15"/><circle cx="382.44" cy="196.24"/><circle cx="384.68" cy="318.55"/><circle cx="416.9" cy="258.41"/><circle cx="487.08" cy="195.99"/><circle cx="497.83" cy="231.2"/><circle cx="391.92" cy="398.02"/><circle cx="368.53" cy="319.16"/><circle cx="161.23" cy="223.98"/><circle cx="564.17" cy="137"/><circle cx="149" cy="202.42"/><circle cx="454.54" cy="306.38"/><circle cx="564.37" cy="206.81"/><circle cx="306.22" cy="296.16"/><circle cx="226.44" cy="262.4"/><circle cx="459.62" cy="418.48"/><circle cx="546.79" cy="212.96"/><circle cx="402.32" cy="427.36"/><circle cx="492.44" cy="294.26"/><circle cx="467.98" cy="408.21"/><circle cx="252.07" cy="342.49"/><circle cx="450.49" cy="271.47"/><circle cx="455.57" cy="400.25"/><circle cx="315.14" cy="208.82"/><circle cx="202.41" cy="253.26"/><circle cx="424.19" cy="227.09"/><circle cx="414.81" cy="376.23"/><circle cx="183.28" cy="181.33"/><circle cx="512.2" cy="144.17"/><circle cx="434.18" cy="388.14"/><circle cx="292.01" cy="216.3"/><circle cx="278.66" cy="349.83"/><circle cx="402.08" cy="255.04"/><circle cx="247.05" cy="212.04"/><circle cx="389.17" cy="302.79"/><circle cx="374.9" cy="325.79"/><circle cx="478.4" cy="306.74"/><circle cx="387.3" cy="318.54"/><circle cx="417.33" cy="276.14"/><circle cx="173.03" cy="176.87"/><circle cx="395.81" cy="176.39"/><circle cx="226.65" cy="258.11"/><circle cx="523.81" cy="306.94"/><circle cx="240.65" cy="285.27"/><circle cx="389.87" cy="335.91"/><circle cx="297.69" cy="259.43"/><circle cx="448.87" cy="331.36"/><circle cx="405.26" cy="298.36"/><circle cx="391.88" cy="154.68"/><circle cx="508.06" cy="287.16"/><circle cx="469.17" cy="212.53"/><circle cx="503.14" cy="234.55"/><circle cx="273.75" cy="266.68"/><circle cx="288.81" cy="196.64"/><circle cx="484.57" cy="300.23"/><circle cx="458.18" cy="396.31"/><circle cx="398.56" cy="416.25"/><circle cx="544.02" cy="216.19"/><circle cx="482.12" cy="184.19"/><circle cx="237.13" cy="269.38"/><circle cx="376.25" cy="198.64"/><circle cx="251.58" cy="338.27"/><circle cx="476.61" cy="356.61"/><circle cx="389.2" cy="360.59"/><circle cx="538.39" cy="249.99"/><circle cx="462.38" cy="283.88"/><circle cx="467.72" cy="396.06"/><circle cx="247.86" cy="207.04"/><circle cx="358.75" cy="414.12"/><circle cx="554.37" cy="139.02"/><circle cx="513.23" cy="203.07"/><circle cx="505.88" cy="297.36"/><circle cx="435.3" cy="212.4"/><circle cx="328.6" cy="192.14"/><circle cx="466.03" cy="143.51"/><circle cx="339.04" cy="255.81"/><circle cx="275.56" cy="169.56"/><circle cx="395.28" cy="359.86"/><circle cx="268.75" cy="274.64"/><circle cx="532.7" cy="252.47"/><circle cx="318.22" cy="268.64"/><circle cx="462.31" cy="265.48"/><circle cx="445.86" cy="444.58"/><circle cx="247.53" cy="179.6"/><circle cx="292.37" cy="356.2"/><circle cx="467.12" cy="187.98"/><circle cx="322.41" cy="274.49"/><circle cx="382.08" cy="301.7"/><circle cx="403.64" cy="156.36"/><circle cx="332.29" cy="214.36"/><circle cx="267.73" cy="298.04"/><circle cx="382.45" cy="194.84"/><circle cx="563.48" cy="145.54"/><circle cx="262.06" cy="191.65"/><circle cx="266.83" cy="328.5"/><circle cx="389.02" cy="419.03"/><circle cx="393.54" cy="372.64"/><circle cx="336.98" cy="378.52"/><circle cx="463.18" cy="412.24"/><circle cx="517.21" cy="242.61"/><circle cx="330.99" cy="254.17"/><circle cx="450.71" cy="182.33"/><circle cx="493.59" cy="327.17"/><circle cx="230.64" cy="217.74"/><circle cx="347.57" cy="357.84"/><circle cx="337" cy="347.62"/><circle cx="274.08" cy="160.79"/><circle cx="309.86" cy="264.54"/><circle cx="274.09" cy="160.06"/><circle cx="400.61" cy="367.91"/><circle cx="171.26" cy="194.84"/><circle cx="497.33" cy="188.57"/><circle cx="259.22" cy="217.35"/><circle cx="277.3" cy="368.62"/><circle cx="274.13" cy="276.1"/><circle cx="330.73" cy="225.36"/><circle cx="230.81" cy="225.02"/><circle cx="348.34" cy="331.94"/><circle cx="309.82" cy="204.89"/><circle cx="388.98" cy="296.82"/><circle cx="275.63" cy="369.94"/><circle cx="432.57" cy="286.43"/><circle cx="440.44" cy="236.13"/><circle cx="424.85" cy="211.61"/><circle cx="308.36" cy="201.12"/><circle cx="348.79" cy="332.33"/><circle cx="469.1" cy="402.35"/><circle cx="515.03" cy="303.55"/><circle cx="469.77" cy="287.07"/><circle cx="544.96" cy="237.66"/><circle cx="503.21" cy="193.54"/><circle cx="444.32" cy="386.5"/><circle cx="256.96" cy="296.12"/><circle cx="312.03" cy="363"/><circle cx="430.48" cy="432.01"/><circle cx="357.03" cy="333.58"/><circle cx="454.96" cy="393.96"/><circle cx="293.73" cy="166.48"/><circle cx="404.33" cy="176.17"/><circle cx="257.53" cy="219.59"/><circle cx="499.5" cy="187.69"/><circle cx="527.92" cy="179.12"/><circle cx="441.3" cy="173.53"/><circle cx="168.07" cy="186.88"/><circle cx="245.99" cy="234.3"/><circle cx="544.06" cy="210.22"/><circle cx="494.55" cy="220.56"/><circle cx="400.61" cy="260.86"/><circle cx="378.32" cy="432.58"/><circle cx="157.95" cy="212.4"/><circle cx="332.34" cy="160.97"/><circle cx="508.5" cy="188.16"/><circle cx="314.51" cy="222.5"/><circle cx="385.31" cy="211.57"/><circle cx="575.24" cy="150.37"/><circle cx="493.38" cy="326.09"/><circle cx="365.17" cy="322.37"/><circle cx="393.56" cy="250.78"/><circle cx="413.92" cy="291.87"/><circle cx="192.98" cy="194.09"/><circle cx="273.48" cy="189.68"/><circle cx="302.37" cy="291.04"/><circle cx="508.79" cy="179.94"/><circle cx="571.24" cy="177.08"/><circle cx="440.08" cy="231.07"/><circle cx="510.22" cy="173.08"/><circle cx="355.77" cy="304.95"/><circle cx="393.07" cy="271.92"/><circle cx="517.85" cy="180.54"/><circle cx="470.1" cy="352.09"/><circle cx="391.61" cy="302.81"/><circle cx="248.1" cy="339.99"/><circle cx="384.63" cy="327.85"/><circle cx="485.11" cy="213.84"/><circle cx="521.36" cy="238.1"/><circle cx="522.45" cy="306.22"/><circle cx="254.73" cy="254.57"/><circle cx="332.14" cy="190.02"/><circle cx="423.66" cy="191.64"/><circle cx="462.84" cy="402.06"/><circle cx="305.42" cy="391.5"/><circle cx="460.22" cy="225.06"/><circle cx="522.05" cy="172.8"/><circle cx="394.59" cy="397.53"/><circle cx="357.18" cy="311.96"/><circle cx="315.4" cy="272.32"/><circle cx="444.27" cy="451.98"/><circle cx="388.02" cy="238.27"/><circle cx="551.33" cy="227.57"/><circle cx="394.43" cy="155.2"/><circle cx="483.06" cy="345.5"/><circle cx="504.15" cy="226.76"/><circle cx="258.02" cy="344.33"/><circle cx="428.4" cy="216.02"/><circle cx="234.77" cy="289.05"/><circle cx="232.52" cy="280.18"/><circle cx="426.93" cy="358.64"/><circle cx="252.31" cy="230.88"/><circle cx="357.16" cy="174.02"/><circle cx="251.73" cy="182.12"/><circle cx="364.07" cy="364.57"/><circle cx="400.03" cy="437.79"/><circle cx="344.14" cy="385.7"/><circle cx="481.34" cy="287.86"/><circle cx="363.22" cy="204.28"/><circle cx="314.39" cy="211.46"/><circle cx="398.18" cy="207.13"/><circle cx="531.84" cy="158.13"/><circle cx="521.77" cy="222.63"/><circle cx="475.92" cy="324.89"/><circle cx="336.99" cy="303.4"/><circle cx="438.12" cy="252.7"/><circle cx="431.45" cy="367.61"/><circle cx="195.45" cy="263.8"/><circle cx="389.47" cy="238.68"/><circle cx="362.07" cy="387.46"/><circle cx="364.86" cy="218.26"/><circle cx="481.21" cy="192.28"/><circle cx="273.84" cy="206.31"/><circle cx="448.17" cy="364.04"/><circle cx="492.23" cy="254.15"/><circle cx="397.63" cy="378.57"/><circle cx="333.15" cy="161.87"/><circle cx="214.44" cy="212.15"/><circle cx="452.99" cy="269.44"/><circle cx="363.86" cy="300.77"/><circle cx="238.99" cy="168.45"/><circle cx="434.48" cy="197.68"/><circle cx="296.76" cy="184.71"/><circle cx="417.86" cy="172.77"/><circle cx="233.93" cy="266.48"/><circle cx="158.11" cy="213.46"/><circle cx="481.87" cy="259.85"/><circle cx="523.55" cy="213.04"/><circle cx="434.31" cy="416.12"/><circle cx="254.58" cy="308.14"/><circle cx="462.39" cy="247.47"/><circle cx="313.71" cy="203.29"/><circle cx="229.45" cy="173.73"/><circle cx="416.9" cy="330.04"/><circle cx="372.38" cy="273.94"/><circle cx="345.2" cy="359.01"/><circle cx="284.32" cy="320.45"/><circle cx="413.77" cy="255.82"/><circle cx="313.38" cy="309.16"/><circle cx="464.89" cy="352.24"/><circle cx="326.84" cy="404.61"/><circle cx="552.65" cy="154.95"/><circle cx="425.99" cy="337.85"/><circle cx="544.79" cy="228.36"/><circle cx="267.78" cy="319.48"/><circle cx="244.4" cy="234.03"/><circle cx="468.29" cy="259.74"/><circle cx="236.56" cy="328.65"/><circle cx="348.02" cy="264.76"/><circle cx="338.93" cy="380.18"/><circle cx="404.6" cy="227.13"/><circle cx="226.92" cy="231.73"/><circle cx="479.98" cy="236.75"/><circle cx="376.4" cy="165.39"/><circle cx="391.98" cy="319.78"/><circle cx="451" cy="214.22"/><circle cx="330.87" cy="352.54"/><circle cx="382.36" cy="215.89"/><circle cx="364.3" cy="290.08"/><circle cx="540.11" cy="201.55"/><circle cx="194.73" cy="200.44"/><circle cx="347.41" cy="337.17"/><circle cx="170.12" cy="197.45"/><circle cx="439.69" cy="303.52"/><circle cx="393.22" cy="386.49"/><circle cx="212.25" cy="189.67"/><circle cx="370.74" cy="167.39"/><circle cx="261.79" cy="324.91"/><circle cx="263.27" cy="322.17"/><circle cx="301.69" cy="321.59"/><circle cx="323.8" cy="192.79"/><circle cx="317.82" cy="380.4"/><circle cx="217.65" cy="229.2"/><circle cx="219.07" cy="231.13"/><circle cx="427.22" cy="481.07"/><circle cx="209.17" cy="205.66"/><circle cx="328.41" cy="229.61"/><circle cx="208.24" cy="168.15"/><circle cx="512.21" cy="296.05"/><circle cx="334.53" cy="401.26"/><circle cx="416.98" cy="340.97"/><circle cx="437.01" cy="210.51"/><circle cx="459.61" cy="419.01"/><circle cx="374.35" cy="308.91"/><circle cx="316.4" cy="272.49"/><circle cx="342.49" cy="251.59"/><circle cx="398.59" cy="233.41"/><circle cx="400.9" cy="457.61"/><circle cx="303.98" cy="266.66"/><circle cx="347" cy="277.32"/><circle cx="446.36" cy="201.95"/><circle cx="467.91" cy="276.39"/><circle cx="499.47" cy="274.24"/><circle cx="349.18" cy="332.48"/><circle cx="427.09" cy="283.41"/><circle cx="489.65" cy="240.13"/><circle cx="303.47" cy="197.62"/><circle cx="372.77" cy="301.99"/><circle cx="330.62" cy="184.07"/><circle cx="472.48" cy="296.71"/><circle cx="552.08" cy="164.42"/><circle cx="375.4" cy="379.79"/><circle cx="497.4" cy="224.79"/><circle cx="367.68" cy="160.82"/><circle cx="430.71" cy="313.19"/><circle cx="438.28" cy="168.92"/><circle cx="292.43" cy="250.67"/><circle cx="411.29" cy="147.04"/><circle cx="386.1" cy="169.81"/><circle cx="272.24" cy="369.1"/><circle cx="352.95" cy="308.67"/><circle cx="271.11" cy="260.87"/><circle cx="247.15" cy="163.92"/><circle cx="422.77" cy="232.47"/><circle cx="367.51" cy="279.03"/><circle cx="295" cy="374.12"/><circle cx="370" cy="301.56"/><circle cx="397.85" cy="314.93"/><circle cx="519.61" cy="267.29"/><circle cx="471.81" cy="399.22"/><circle cx="417.86" cy="308.07"/><circle cx="267.01" cy="354.26"/><circle cx="307.66" cy="336.27"/><circle cx="375.99" cy="443.11"/><circle cx="510.99" cy="176"/><circle cx="306.9" cy="231.48"/><circle cx="440.53" cy="406.57"/><circle cx="419.82" cy="347.95"/><circle cx="273.13" cy="365.28"/><circle cx="477.16" cy="329.74"/><circle cx="371.29" cy="388.47"/><circle cx="507.78" cy="264.49"/><circle cx="366.85" cy="329.38"/><circle cx="404.8" cy="164.65"/><circle cx="407.45" cy="422.13"/><circle cx="276.2" cy="358.86"/><circle cx="257.44" cy="238.2"/><circle cx="381.46" cy="164"/><circle cx="421.74" cy="446.56"/><circle cx="367.97" cy="204.1"/><circle cx="287.42" cy="197.4"/><circle cx="477.79" cy="241.74"/><circle cx="241.16" cy="169.53"/><circle cx="282.69" cy="350.96"/><circle cx="298.64" cy="245.46"/><circle cx="363.72" cy="165.06"/><circle cx="437.6" cy="181.32"/><circle cx="377.73" cy="161.05"/><circle cx="164.7" cy="181.94"/><circle cx="390.65" cy="360.5"/><circle cx="521.27" cy="308.59"/><circle cx="412.73" cy="325.07"/><circle cx="166.92" cy="173.56"/><circle cx="410.32" cy="240.2"/><circle cx="450.64" cy="245.14"/><circle cx="467.31" cy="289.94"/><circle cx="399.62" cy="156.16"/><circle cx="348.7" cy="173.81"/><circle cx="302.88" cy="279.21"/><circle cx="272.95" cy="324.46"/><circle cx="398.4" cy="380.3"/><circle cx="406.23" cy="461.32"/><circle cx="459.13" cy="325.52"/><circle cx="432.49" cy="333.85"/><circle cx="393.05" cy="158.31"/><circle cx="488.2" cy="225.88"/><circle cx="519.12" cy="192.33"/><circle cx="203.14" cy="235.27"/><circle cx="440.76" cy="434.36"/><circle cx="384.75" cy="348.89"/><circle cx="284.18" cy="308.67"/><circle cx="169.54" cy="214.98"/><circle cx="518.84" cy="257.09"/><circle cx="279.35" cy="278.8"/><circle cx="435.33" cy="348.85"/><circle cx="391.31" cy="444.94"/><circle cx="491.5" cy="247.75"/><circle cx="376.13" cy="161.35"/><circle cx="315.09" cy="281.07"/><circle cx="380.02" cy="194.16"/><circle cx="444.44" cy="322.34"/><circle cx="527.92" cy="283.81"/><circle cx="435.36" cy="168.02"/><circle cx="324.4" cy="339.64"/><circle cx="543.57" cy="203.95"/><circle cx="306.72" cy="212.69"/><circle cx="391.25" cy="147.29"/><circle cx="503.67" cy="188.78"/><circle cx="520.07" cy="154.94"/><circle cx="200.25" cy="280.23"/><circle cx="413.57" cy="182.56"/><circle cx="272.53" cy="318.39"/><circle cx="399.74" cy="169.16"/><circle cx="360.48" cy="402.61"/><circle cx="343.62" cy="359.12"/><circle cx="421.8" cy="338.25"/><circle cx="172.07" cy="179.27"/><circle cx="348.96" cy="245.2"/><circle cx="467.78" cy="147.84"/><circle cx="417.03" cy="187.43"/><circle cx="301.74" cy="291.29"/><circle cx="230.02" cy="191.73"/><circle cx="439.11" cy="452.65"/><circle cx="360.94" cy="249.83"/><circle cx="349.28" cy="392.64"/><circle cx="381.17" cy="266.81"/><circle cx="349.68" cy="389.19"/><circle cx="168.2" cy="183.17"/><circle cx="327.94" cy="336.49"/><circle cx="313.22" cy="284.05"/><circle cx="553.68" cy="167.21"/><circle cx="230.46" cy="204.11"/><circle cx="363.55" cy="362.73"/><circle cx="366.28" cy="361.57"/><circle cx="410.34" cy="205.32"/><circle cx="388.66" cy="271.74"/><circle cx="390.39" cy="177.84"/><circle cx="358.24" cy="217.54"/><circle cx="505.17" cy="310.3"/><circle cx="329.52" cy="187.1"/><circle cx="402.07" cy="280.54"/><circle cx="532.76" cy="215.47"/><circle cx="227.31" cy="264.04"/><circle cx="350.15" cy="360.08"/><circle cx="305.41" cy="235.31"/><circle cx="303.32" cy="304.07"/><circle cx="293.14" cy="224.23"/><circle cx="466.48" cy="176.86"/><circle cx="195.27" cy="197.29"/><circle cx="407.18" cy="401.35"/><circle cx="464.53" cy="143.28"/><circle cx="355.96" cy="149.1"/><circle cx="287.91" cy="256.31"/><circle cx="446.99" cy="298.13"/><circle cx="558.25" cy="165.23"/><circle cx="359.69" cy="394.05"/><circle cx="328.06" cy="364.86"/><circle cx="549.47" cy="229.28"/><circle cx="404.8" cy="263.55"/><circle cx="367.04" cy="342.89"/><circle cx="504.88" cy="163.2"/><circle cx="271.29" cy="288.66"/><circle cx="349.77" cy="339.32"/><circle cx="191.99" cy="180.43"/><circle cx="327.38" cy="187.37"/><circle cx="390.82" cy="333.27"/><circle cx="285.19" cy="214.66"/><circle cx="324.96" cy="224.88"/><circle cx="201.99" cy="219.49"/><circle cx="333.95" cy="165.27"/><circle cx="373.8" cy="344.45"/><circle cx="141.46" cy="193.34"/><circle cx="292.02" cy="180.08"/><circle cx="225.44" cy="187.58"/><circle cx="556.1" cy="192.06"/><circle cx="177.33" cy="211.37"/><circle cx="504.53" cy="218.66"/><circle cx="375.88" cy="229.73"/><circle cx="273.72" cy="283.75"/><circle cx="387.96" cy="459.43"/><circle cx="492.69" cy="295.9"/><circle cx="396.88" cy="203.54"/><circle cx="504.27" cy="202.07"/><circle cx="316.7" cy="226.15"/><circle cx="174.54" cy="227.18"/><circle cx="470.04" cy="191.83"/><circle cx="374.55" cy="394.83"/><circle cx="511.39" cy="214.74"/><circle cx="469.43" cy="322.66"/><circle cx="290.18" cy="262.18"/><circle cx="162.28" cy="203.94"/><circle cx="474.06" cy="388.51"/><circle cx="382.22" cy="185.55"/><circle cx="529.86" cy="156.57"/><circle cx="354.19" cy="332.46"/><circle cx="396.33" cy="251.66"/><circle cx="505.39" cy="308.7"/><circle cx="535.22" cy="226.24"/><circle cx="427.88" cy="335.14"/><circle cx="356.86" cy="204.29"/><circle cx="483.31" cy="260.02"/><circle cx="350.9" cy="368.23"/><circle cx="424.33" cy="211.59"/><circle cx="335.72" cy="409.66"/><circle cx="360" cy="355"/><circle cx="387.56" cy="450.88"/><circle cx="321.09" cy="358.27"/><circle cx="447.05" cy="341.25"/><circle cx="465.69" cy="321.98"/><circle cx="415.92" cy="300.5"/><circle cx="220.95" cy="314.96"/><circle cx="418.38" cy="252.59"/><circle cx="413.6" cy="439.85"/><circle cx="488.07" cy="348.45"/><circle cx="390.7" cy="180.48"/><circle cx="334.3" cy="349.81"/><circle cx="334.6" cy="414.53"/><circle cx="349.05" cy="279.05"/><circle cx="322.02" cy="187.57"/><circle cx="456.82" cy="411.23"/><circle cx="555.18" cy="148.44"/><circle cx="452.42" cy="404.26"/><circle cx="437.21" cy="328.98"/><circle cx="461.96" cy="274.21"/><circle cx="374.6" cy="196.35"/><circle cx="441.24" cy="365.39"/><circle cx="394.95" cy="403.63"/><circle cx="382.26" cy="387.82"/><circle cx="527.78" cy="295.71"/><circle cx="438.87" cy="263.09"/><circle cx="161.06" cy="194.82"/><circle cx="193.36" cy="174.36"/><circle cx="278.93" cy="189.39"/><circle cx="359.24" cy="268.35"/><circle cx="334.19" cy="220.81"/><circle cx="454.01" cy="429.85"/><circle cx="237.39" cy="213.28"/><circle cx="339.07" cy="249.03"/><circle cx="322.62" cy="314.53"/><circle cx="446.81" cy="256.94"/><circle cx="467.28" cy="259.56"/><circle cx="366.28" cy="306.41"/><circle cx="253.49" cy="242.17"/><circle cx="386.52" cy="258.68"/><circle cx="516" cy="261.23"/><circle cx="507.29" cy="232.01"/><circle cx="297.43" cy="330.98"/><circle cx="203.37" cy="261.01"/><circle cx="392.05" cy="263.87"/><circle cx="367.9" cy="318.83"/><circle cx="263.87" cy="172.84"/><circle cx="419.89" cy="432.4"/><circle cx="501.31" cy="233.37"/><circle cx="477.18" cy="342.79"/><circle cx="431.21" cy="206.57"/><circle cx="505.74" cy="228.98"/><circle cx="411.59" cy="410.06"/><circle cx="483.96" cy="247.58"/><circle cx="470.96" cy="196.74"/><circle cx="484.36" cy="224.74"/><circle cx="539.51" cy="241.83"/><circle cx="417.62" cy="177.69"/><circle cx="385.05" cy="429.85"/><circle cx="524.41" cy="251.92"/><circle cx="443.93" cy="456.09"/><circle cx="533.64" cy="223.99"/><circle cx="255.72" cy="181.05"/><circle cx="468.78" cy="313.8"/><circle cx="290.78" cy="270.9"/><circle cx="420.53" cy="415.12"/><circle cx="513.85" cy="296.08"/><circle cx="460.92" cy="366.11"/><circle cx="353.96" cy="160.55"/><circle cx="418.98" cy="389.88"/><circle cx="215.74" cy="186.04"/><circle cx="259.52" cy="279.26"/><circle cx="285.56" cy="203.42"/><circle cx="403.07" cy="299.61"/><circle cx="487.03" cy="248.63"/><circle cx="253.61" cy="257.55"/><circle cx="337.53" cy="402.5"/><circle cx="441.99" cy="348.63"/><circle cx="428.23" cy="268.7"/><circle cx="327.69" cy="384.6"/><circle cx="166.44" cy="215.75"/><circle cx="324.9" cy="300.08"/><circle cx="507.27" cy="247.01"/><circle cx="572.26" cy="180.47"/><circle cx="516.11" cy="230.97"/><circle cx="267.52" cy="216.18"/><circle cx="362.29" cy="172.25"/><circle cx="469.44" cy="166.97"/><circle cx="401.56" cy="405.79"/><circle cx="282.81" cy="338.26"/><circle cx="240.44" cy="300.35"/><circle cx="167.99" cy="215.71"/><circle cx="243.63" cy="319.74"/><circle cx="468.8" cy="267.3"/><circle cx="231.54" cy="243.96"/><circle cx="296.68" cy="156.02"/><circle cx="301.01" cy="161.83"/><circle cx="335.11" cy="206.54"/><circle cx="521.29" cy="187.27"/><circle cx="204.32" cy="217.43"/><circle cx="397.65" cy="300.36"/><circle cx="396.16" cy="287.81"/><circle cx="397.89" cy="363.33"/><circle cx="332.56" cy="311.17"/><circle cx="448.93" cy="345.65"/><circle cx="370.69" cy="215.55"/><circle cx="430.56" cy="212.26"/><circle cx="371.89" cy="344.73"/><circle cx="310.25" cy="258.62"/><circle cx="388.04" cy="399.77"/><circle cx="262.27" cy="222.57"/><circle cx="304.38" cy="246.64"/><circle cx="255.05" cy="181.92"/><circle cx="378.69" cy="394.67"/><circle cx="508.39" cy="243.64"/><circle cx="333.55" cy="341.44"/><circle cx="206.43" cy="229.93"/><circle cx="395.15" cy="156.1"/><circle cx="370.69" cy="160.57"/><circle cx="378.21" cy="216.19"/><circle cx="300.82" cy="235.85"/><circle cx="443.79" cy="163.75"/><circle cx="440.74" cy="170.95"/><circle cx="323.83" cy="388.97"/><circle cx="412.7" cy="236.23"/><circle cx="431.72" cy="471.85"/><circle cx="565.89" cy="142.3"/><circle cx="422.75" cy="236.61"/><circle cx="459.13" cy="173.2"/><circle cx="367.13" cy="278.58"/><circle cx="388.72" cy="322.08"/><circle cx="401.43" cy="385.13"/><circle cx="186.56" cy="191.58"/><circle cx="422.17" cy="200.84"/><circle cx="300.56" cy="201.87"/><circle cx="307.1" cy="260.89"/><circle cx="421.37" cy="294.43"/><circle cx="478.37" cy="173.49"/><circle cx="181.13" cy="173.97"/><circle cx="531.96" cy="191.2"/><circle cx="281.5" cy="298.17"/><circle cx="566.82" cy="180.69"/><circle cx="423.18" cy="241.54"/><circle cx="266.65" cy="203.36"/><circle cx="423.63" cy="246.91"/><circle cx="389.35" cy="260.34"/><circle cx="204.08" cy="269.53"/><circle cx="462.79" cy="229.42"/><circle cx="304.94" cy="365.46"/><circle cx="369.06" cy="295.35"/><circle cx="427.87" cy="264.82"/><circle cx="565.36" cy="177.19"/><circle cx="307.04" cy="328.26"/><circle cx="422.83" cy="335.5"/><circle cx="275.09" cy="307.18"/><circle cx="509.07" cy="282.95"/><circle cx="448.12" cy="155.35"/><circle cx="435.49" cy="419.6"/><circle cx="339.13" cy="238.95"/><circle cx="468.2" cy="372.53"/><circle cx="474.25" cy="170.14"/><circle cx="376.51" cy="249.3"/><circle cx="418.28" cy="323.48"/><circle cx="548.89" cy="194.07"/><circle cx="369.31" cy="310.02"/><circle cx="386.07" cy="351.31"/><circle cx="388.88" cy="253.57"/><circle cx="518.93" cy="313.81"/><circle cx="507.44" cy="143.5"/><circle cx="303.33" cy="283.77"/><circle cx="332.78" cy="214.75"/><circle cx="465.8" cy="266.88"/><circle cx="390.27" cy="169.67"/><circle cx="528.06" cy="304.39"/><circle cx="459.94" cy="314.73"/><circle cx="499.23" cy="325.5"/><circle cx="478.55" cy="338.09"/><circle cx="222.59" cy="232.11"/><circle cx="503.79" cy="239.04"/><circle cx="168.27" cy="242.74"/><circle cx="282.26" cy="174.37"/><circle cx="386.74" cy="165.1"/><circle cx="380.64" cy="423.11"/><circle cx="368.47" cy="227.21"/><circle cx="369.48" cy="430.64"/><circle cx="329.97" cy="396.69"/><circle cx="295.03" cy="183.53"/><circle cx="186.61" cy="192.45"/><circle cx="435.42" cy="427.02"/><circle cx="367.47" cy="187.03"/><circle cx="350.66" cy="167.79"/><circle cx="207.21" cy="167.46"/><circle cx="386.3" cy="199.94"/><circle cx="446.22" cy="289.65"/><circle cx="391.31" cy="297"/><circle cx="232.56" cy="248.62"/><circle cx="265.87" cy="331.54"/><circle cx="187.73" cy="190.37"/><circle cx="345.14" cy="229.44"/><circle cx="209.92" cy="173.68"/><circle cx="455.02" cy="308.83"/><circle cx="170.9" cy="199.76"/><circle cx="292.69" cy="250.94"/><circle cx="301.61" cy="347.21"/><circle cx="505.36" cy="184.38"/><circle cx="273.66" cy="262.53"/><circle cx="360.02" cy="295.24"/><circle cx="243.79" cy="287.61"/><circle cx="408.2" cy="379.15"/><circle cx="521.46" cy="173.51"/><circle cx="303.17" cy="346.82"/><circle cx="335.3" cy="361.15"/><circle cx="398.92" cy="219.61"/><circle cx="254.51" cy="168.57"/><circle cx="435.36" cy="143.58"/><circle cx="308.46" cy="275.66"/><circle cx="244.31" cy="294.57"/><circle cx="198.55" cy="283.16"/><circle cx="434.2" cy="351.52"/><circle cx="233.47" cy="223.31"/><circle cx="291.77" cy="320.65"/><circle cx="458.63" cy="296.63"/><circle cx="446.56" cy="338.55"/><circle cx="506.95" cy="150.24"/><circle cx="313.95" cy="256.72"/><circle cx="474.67" cy="395.62"/><circle cx="236.78" cy="232.55"/><circle cx="244.29" cy="328.9"/><circle cx="349.82" cy="403.93"/><circle cx="282.15" cy="331.88"/><circle cx="549.13" cy="210.41"/><circle cx="240.13" cy="274.3"/><circle cx="438.42" cy="400.06"/><circle cx="459.26" cy="281.58"/><circle cx="423.11" cy="292.46"/><circle cx="468.93" cy="395.89"/><circle cx="310.73" cy="313.13"/><circle cx="327.05" cy="224.53"/><circle cx="150.31" cy="212.56"/><circle cx="451.67" cy="292.17"/><circle cx="291.31" cy="342.25"/><circle cx="376.41" cy="175.13"/><circle cx="256.5" cy="308.12"/><circle cx="350.77" cy="357.3"/><circle cx="377.77" cy="279.01"/><circle cx="425.16" cy="208.95"/><circle cx="390.13" cy="338.9"/><circle cx="403.45" cy="180.81"/><circle cx="329.78" cy="178.93"/><circle cx="571.2" cy="191.4"/><circle cx="201.41" cy="236.64"/><circle cx="481.04" cy="372.88"/><circle cx="428.51" cy="191.07"/><circle cx="197.7" cy="258.76"/><circle cx="431.49" cy="366.74"/><circle cx="396.38" cy="212.18"/><circle cx="319.52" cy="155.07"/><circle cx="189.41" cy="175.27"/><circle cx="350.64" cy="213.88"/><circle cx="385.77" cy="311.22"/><circle cx="292.29" cy="285.88"/><circle cx="265.11" cy="317.48"/><circle cx="328.3" cy="414.73"/><circle cx="400.15" cy="282.64"/><circle cx="531.22" cy="172.11"/><circle cx="389.08" cy="319.69"/><circle cx="277.99" cy="248.91"/><circle cx="391.73" cy="434.76"/><circle cx="313.54" cy="260.15"/><circle cx="385.99" cy="219.74"/><circle cx="409.63" cy="191.34"/><circle cx="459.96" cy="229.86"/><circle cx="285.55" cy="266.01"/><circle cx="547.47" cy="249.04"/><circle cx="220.02" cy="254.77"/><circle cx="431.96" cy="221.73"/><circle cx="472.89" cy="353.97"/><circle cx="417.75" cy="166.41"/><circle cx="472.3" cy="297.51"/><circle cx="217.48" cy="185.42"/><circle cx="269.05" cy="206.61"/><circle cx="487.29" cy="259.13"/><circle cx="445.92" cy="292.63"/><circle cx="450.24" cy="424.98"/><circle cx="235.84" cy="275.05"/><circle cx="220.38" cy="236"/><circle cx="388.2" cy="234.24"/><circle cx="378.89" cy="297.63"/><circle cx="296.74" cy="247.78"/><circle cx="310.89" cy="231.05"/><circle cx="349.88" cy="183.58"/><circle cx="408.8" cy="312.87"/><circle cx="282.57" cy="245.3"/><circle cx="269.14" cy="230.72"/><circle cx="376.01" cy="413.29"/><circle cx="308.91" cy="195.62"/><circle cx="455.89" cy="328.53"/><circle cx="296.86" cy="256.4"/><circle cx="334.02" cy="169.91"/><circle cx="324.84" cy="329.58"/><circle cx="510.72" cy="154.81"/><circle cx="494.28" cy="204.25"/><circle cx="499.95" cy="152.5"/><circle cx="570.05" cy="180.95"/><circle cx="541.51" cy="156.42"/><circle cx="414.28" cy="149.07"/><circle cx="520.68" cy="248.19"/><circle cx="531.35" cy="153.02"/><circle cx="443.92" cy="326.96"/><circle cx="366.04" cy="291.97"/><circle cx="241.18" cy="278.52"/><circle cx="204.07" cy="240.27"/><circle cx="368.07" cy="388.75"/><circle cx="386.57" cy="186.14"/><circle cx="296.83" cy="196.38"/><circle cx="467.98" cy="367.56"/><circle cx="370.27" cy="158.77"/><circle cx="324.99" cy="359.06"/><circle cx="488.82" cy="256.9"/><circle cx="260.28" cy="206.1"/><circle cx="448.16" cy="285.42"/><circle cx="351.35" cy="430.24"/><circle cx="446.07" cy="412.01"/><circle cx="377.53" cy="164.26"/><circle cx="410.67" cy="397.2"/><circle cx="326.38" cy="155.59"/><circle cx="310.12" cy="272.92"/><circle cx="378.23" cy="324.13"/><circle cx="521.2" cy="164.75"/><circle cx="533.24" cy="201.95"/><circle cx="219.46" cy="190.71"/><circle cx="523.95" cy="316.21"/><circle cx="509.78" cy="318.71"/><circle cx="407.22" cy="263.37"/><circle cx="362.13" cy="180.82"/><circle cx="404.59" cy="249.6"/><circle cx="437.74" cy="311.39"/><circle cx="243.35" cy="284.42"/><circle cx="434.04" cy="440.27"/><circle cx="429.43" cy="169.34"/><circle cx="442.6" cy="208.84"/><circle cx="439.68" cy="230.61"/><circle cx="399.98" cy="321.04"/><circle cx="476.12" cy="357.02"/><circle cx="271.03" cy="246.65"/><circle cx="410.5" cy="348.47"/><circle cx="483.77" cy="332.2"/><circle cx="215.7" cy="253.27"/><circle cx="414.45" cy="250.3"/><circle cx="531.39" cy="169.25"/><circle cx="345.63" cy="170.71"/><circle cx="241.3" cy="322.15"/><circle cx="313.75" cy="263.97"/><circle cx="393.89" cy="341.21"/><circle cx="386.38" cy="266"/><circle cx="180.24" cy="174.24"/><circle cx="266.74" cy="348.63"/><circle cx="291.38" cy="338.59"/><circle cx="478.38" cy="289.75"/><circle cx="415.98" cy="183.99"/><circle cx="406.48" cy="175.57"/><circle cx="340.75" cy="193.65"/><circle cx="403.48" cy="199.67"/><circle cx="326.5" cy="216.68"/><circle cx="341" cy="293.28"/><circle cx="386.41" cy="430.66"/><circle cx="483.82" cy="160.07"/><circle cx="456.49" cy="374.46"/><circle cx="313.43" cy="277.4"/><circle cx="277" cy="172.82"/><circle cx="423.45" cy="385.41"/><circle cx="362.69" cy="360.2"/><circle cx="251.71" cy="249.74"/><circle cx="430.4" cy="469.03"/><circle cx="409.45" cy="227.74"/><circle cx="228.23" cy="270.81"/><circle cx="467.14" cy="338.64"/><circle cx="192.05" cy="192.59"/><circle cx="333.84" cy="356.01"/><circle cx="387.21" cy="455.92"/><circle cx="508.93" cy="267.83"/><circle cx="211.11" cy="243.59"/><circle cx="330.9" cy="392.79"/><circle cx="215.63" cy="225.86"/><circle cx="213.36" cy="187.52"/><circle cx="296.53" cy="361.17"/><circle cx="409.31" cy="350.54"/><circle cx="200.22" cy="203.08"/><circle cx="449.89" cy="179.99"/><circle cx="325.87" cy="183.31"/><circle cx="266.38" cy="235.83"/><circle cx="527.77" cy="299.58"/><circle cx="311.07" cy="313.4"/><circle cx="314.9" cy="158.82"/><circle cx="261.3" cy="335.87"/><circle cx="290.69" cy="160.37"/><circle cx="524.42" cy="146.36"/><circle cx="504.04" cy="189.09"/><circle cx="148.42" cy="203.91"/><circle cx="470.81" cy="344.29"/><circle cx="533.67" cy="291.39"/><circle cx="212.89" cy="192.42"/><circle cx="255.75" cy="188.75"/><circle cx="448.91" cy="341.48"/><circle cx="410.86" cy="219.48"/><circle cx="242.61" cy="166.26"/><circle cx="402.77" cy="394.56"/><circle cx="526.38" cy="240.86"/><circle cx="348.09" cy="376.77"/><circle cx="359.39" cy="332.84"/><circle cx="302.9" cy="278.03"/><circle cx="423.19" cy="236.7"/><circle cx="196.83" cy="184.99"/><circle cx="329.91" cy="187.52"/><circle cx="265.65" cy="226.56"/><circle cx="151.88" cy="198.73"/><circle cx="524.19" cy="278.31"/><circle cx="278.38" cy="177.19"/><circle cx="202.99" cy="271.1"/><circle cx="366.12" cy="157.45"/><circle cx="416.52" cy="345.67"/><circle cx="272.57" cy="271.21"/><circle cx="396.68" cy="264.36"/><circle cx="405.45" cy="161.05"/><circle cx="383.94" cy="148.61"/><circle cx="410.54" cy="415.36"/><circle cx="258.68" cy="278.77"/><circle cx="408.35" cy="444.27"/><circle cx="400.52" cy="379.68"/><circle cx="367.08" cy="221.78"/><circle cx="329.97" cy="331.44"/><circle cx="331.43" cy="337.93"/><circle cx="316.94" cy="199.12"/><circle cx="333.19" cy="336.47"/><circle cx="317.97" cy="184.88"/><circle cx="365.08" cy="360.81"/><circle cx="383.04" cy="216.44"/><circle cx="422.35" cy="232.08"/><circle cx="265.91" cy="310.57"/><circle cx="512.69" cy="217.12"/><circle cx="334.47" cy="297.15"/><circle cx="424.99" cy="214.1"/><circle cx="228.34" cy="186.03"/><circle cx="330.87" cy="354.03"/><circle cx="206.61" cy="209.63"/><circle cx="573.66" cy="147.81"/><circle cx="370.08" cy="337.89"/><circle cx="174.55" cy="221.26"/><circle cx="403.75" cy="357.52"/><circle cx="386.39" cy="151.98"/><circle cx="258.96" cy="350.82"/><circle cx="557.02" cy="208.5"/><circle cx="464.9" cy="326.23"/><circle cx="257.57" cy="218.76"/><circle cx="498.48" cy="160.12"/><circle cx="544.58" cy="186.61"/><circle cx="465.29" cy="265.68"/><circle cx="252.99" cy="324.14"/><circle cx="455.53" cy="399.28"/><circle cx="220.85" cy="218.29"/><circle cx="401.36" cy="408.28"/><circle cx="475.67" cy="189.83"/><circle cx="333.01" cy="170.07"/><circle cx="413.13" cy="194.29"/><circle cx="303.62" cy="346.47"/><circle cx="362.72" cy="435.94"/><circle cx="233.64" cy="194.34"/><circle cx="406.59" cy="453.9"/><circle cx="247.43" cy="240.4"/><circle cx="276.67" cy="321.6"/><circle cx="378" cy="367.45"/><circle cx="283.09" cy="275"/><circle cx="475.47" cy="295.07"/><circle cx="406.35" cy="157.01"/><circle cx="185.02" cy="230.72"/><circle cx="476.07" cy="226.59"/><circle cx="436.32" cy="372.55"/><circle cx="460.82" cy="161.49"/><circle cx="388.32" cy="239.11"/><circle cx="417.04" cy="338.84"/><circle cx="404.69" cy="464.99"/><circle cx="493.48" cy="141.6"/><circle cx="307.63" cy="359.16"/><circle cx="487.07" cy="324.58"/><circle cx="397.49" cy="325.92"/><circle cx="304.06" cy="357.14"/><circle cx="186.95" cy="254.37"/><circle cx="176.32" cy="254.93"/><circle cx="430.9" cy="244.31"/><circle cx="393.71" cy="391.65"/><circle cx="427.57" cy="416.39"/><circle cx="495.47" cy="351.7"/><circle cx="561.95" cy="151.42"/><circle cx="497.39" cy="168.9"/><circle cx="320.02" cy="323.88"/><circle cx="428.79" cy="433.31"/><circle cx="273" cy="185.71"/><circle cx="411.74" cy="332.89"/><circle cx="532.51" cy="271.73"/><circle cx="218.42" cy="260.29"/><circle cx="245.95" cy="182.61"/><circle cx="293.84" cy="373.68"/><circle cx="285.15" cy="275"/><circle cx="544.42" cy="141.47"/><circle cx="448.26" cy="369.59"/><circle cx="317.59" cy="233.32"/><circle cx="552.49" cy="137.79"/><circle cx="360.95" cy="403.18"/><circle cx="432.02" cy="279.25"/><circle cx="283.12" cy="201.65"/><circle cx="497.31" cy="314.37"/><circle cx="448.38" cy="365.4"/><circle cx="388.45" cy="355.1"/><circle cx="394.88" cy="316.26"/><circle cx="210.02" cy="247.81"/><circle cx="375.8" cy="449.47"/><circle cx="491.43" cy="185.34"/><circle cx="260.84" cy="282.16"/><circle cx="402.86" cy="329.86"/><circle cx="222.78" cy="179.02"/><circle cx="278.65" cy="223.68"/><circle cx="379.81" cy="434.37"/><circle cx="308.75" cy="385.56"/><circle cx="484.91" cy="357.38"/><circle cx="405.91" cy="317.72"/><circle cx="357.09" cy="275.41"/><circle cx="150.44" cy="188.12"/><circle cx="392.41" cy="249.93"/><circle cx="403.72" cy="307.69"/><circle cx="504.79" cy="156.4"/><circle cx="486.2" cy="285.61"/><circle cx="156.26" cy="178.31"/><circle cx="455.14" cy="307.77"/><circle cx="214.67" cy="171.94"/><circle cx="461.74" cy="151.25"/><circle cx="285.78" cy="161.34"/><circle cx="447.79" cy="213.93"/><circle cx="334.17" cy="335.58"/><circle cx="434.6" cy="166.97"/><circle cx="300.59" cy="316.02"/><circle cx="441.87" cy="315"/><circle cx="276.54" cy="240.32"/><circle cx="554.28" cy="223.88"/><circle cx="548.56" cy="144.04"/><circle cx="228.14" cy="313.17"/><circle cx="258.99" cy="293.96"/><circle cx="322.88" cy="213.57"/><circle cx="167.19" cy="215.29"/><circle cx="419.46" cy="288.09"/><circle cx="341.43" cy="228.31"/><circle cx="485.7" cy="219.72"/><circle cx="485.76" cy="260.66"/><circle cx="475.79" cy="198.33"/><circle cx="350.96" cy="384.55"/><circle cx="288.74" cy="263.55"/><circle cx="579.24" cy="151.95"/><circle cx="432.45" cy="336.57"/><circle cx="202.76" cy="218.5"/><circle cx="263.11" cy="287.18"/><circle cx="503.37" cy="277.82"/><circle cx="331.8" cy="169.71"/><circle cx="323.51" cy="316.44"/><circle cx="407.18" cy="176.81"/><circle cx="279.08" cy="227.55"/><circle cx="456.96" cy="208.45"/><circle cx="395.19" cy="151.08"/><circle cx="414.18" cy="301.63"/><circle cx="276.77" cy="230.66"/><circle cx="392.98" cy="317.65"/><circle cx="397.92" cy="274.94"/><circle cx="349.3" cy="331.12"/><circle cx="453.03" cy="225.6"/><circle cx="415.51" cy="220.66"/><circle cx="545.44" cy="241.89"/><circle cx="430.93" cy="169.85"/><circle cx="177.16" cy="215.48"/><circle cx="411.88" cy="444.55"/><circle cx="426.71" cy="392.98"/><circle cx="475.2" cy="166.32"/><circle cx="275.72" cy="203.03"/><circle cx="503.48" cy="176.85"/><circle cx="497.72" cy="279.71"/><circle cx="530.88" cy="234.2"/><circle cx="414.55" cy="214.29"/><circle cx="451.3" cy="186.65"/><circle cx="254.15" cy="240.22"/><circle cx="381.49" cy="294.78"/><circle cx="388.37" cy="227.36"/><circle cx="439.82" cy="337.33"/><circle cx="336.68" cy="210.92"/><circle cx="388.07" cy="211.23"/><circle cx="290.05" cy="376.6"/><circle cx="374.65" cy="282.4"/><circle cx="302.88" cy="307.47"/><circle cx="333.24" cy="335.75"/><circle cx="177.93" cy="252.04"/><circle cx="388.89" cy="324.14"/><circle cx="493.66" cy="232.9"/><circle cx="503.73" cy="308.7"/><circle cx="226.97" cy="275.38"/><circle cx="198.7" cy="169.01"/><circle cx="324.25" cy="335.64"/><circle cx="401.15" cy="332.84"/><circle cx="295.61" cy="380.09"/><circle cx="218.96" cy="302.32"/><circle cx="254.15" cy="183.6"/><circle cx="210.11" cy="252.24"/><circle cx="342.24" cy="187.54"/><circle cx="311.13" cy="398.2"/><circle cx="238.56" cy="232.49"/><circle cx="394.15" cy="442.98"/><circle cx="451.05" cy="145.82"/><circle cx="333.87" cy="381.03"/><circle cx="426.12" cy="408.16"/><circle cx="196.29" cy="220.69"/><circle cx="343.57" cy="336.65"/><circle cx="483.3" cy="198.91"/><circle cx="464.3" cy="152.49"/><circle cx="509.94" cy="154.82"/><circle cx="373.89" cy="157.06"/><circle cx="471.34" cy="142.42"/><circle cx="312.45" cy="381.88"/><circle cx="140.59" cy="184.2"/><circle cx="257.32" cy="299.66"/><circle cx="486.49" cy="303.02"/><circle cx="454.77" cy="246.09"/><circle cx="424.26" cy="480.43"/><circle cx="343.38" cy="375.89"/><circle cx="356.35" cy="388.73"/><circle cx="461.38" cy="225.52"/><circle cx="284.33" cy="251.76"/><circle cx="258.91" cy="264.82"/><circle cx="426.81" cy="370.91"/><circle cx="276.79" cy="209.69"/><circle cx="469.02" cy="285.6"/><circle cx="225.69" cy="255.12"/><circle cx="543.28" cy="187.26"/><circle cx="464.43" cy="204.86"/><circle cx="379.04" cy="452.44"/><circle cx="339.67" cy="286.77"/><circle cx="361.28" cy="385.2"/><circle cx="396.74" cy="242.05"/><circle cx="471.3" cy="260.21"/><circle cx="376.64" cy="222.72"/><circle cx="381.28" cy="261.52"/><circle cx="238.89" cy="296.6"/><circle cx="417.75" cy="417.51"/><circle cx="419.81" cy="283.99"/><circle cx="227.29" cy="248.11"/><circle cx="362.04" cy="362.32"/><circle cx="355.27" cy="212.61"/><circle cx="286.8" cy="294.37"/><circle cx="210.81" cy="207.07"/><circle cx="342.42" cy="309.94"/><circle cx="416.53" cy="438.36"/><circle cx="211.19" cy="188.24"/><circle cx="366" cy="190.18"/><circle cx="426.15" cy="429.43"/><circle cx="330.03" cy="318.99"/><circle cx="265.33" cy="304.05"/><circle cx="471.3" cy="242.42"/><circle cx="178.01" cy="215.13"/><circle cx="384.02" cy="174.49"/><circle cx="298.75" cy="376.05"/><circle cx="289.85" cy="292.77"/><circle cx="237.6" cy="259.01"/><circle cx="420.21" cy="186.37"/><circle cx="312.48" cy="173.86"/><circle cx="455.22" cy="246.83"/><circle cx="450.86" cy="335.68"/><circle cx="498.1" cy="180.87"/><circle cx="279.14" cy="350.53"/><circle cx="493.06" cy="291.63"/><circle cx="459.31" cy="312.59"/><circle cx="379.78" cy="176.11"/><circle cx="423.78" cy="153.59"/><circle cx="540.37" cy="186.73"/><circle cx="192.31" cy="223.6"/><circle cx="314.11" cy="343.66"/><circle cx="209.11" cy="275.63"/><circle cx="439.12" cy="315.52"/><circle cx="531.45" cy="226.75"/><circle cx="302.7" cy="344.8"/><circle cx="560.99" cy="173.53"/><circle cx="303.37" cy="309.08"/><circle cx="255.16" cy="231.88"/><circle cx="445.22" cy="416.9"/><circle cx="257.69" cy="248.26"/><circle cx="341.17" cy="330.43"/><circle cx="401.24" cy="275.83"/><circle cx="239.45" cy="218.73"/><circle cx="464.15" cy="358.45"/><circle cx="478.54" cy="170.25"/><circle cx="294.8" cy="367.36"/><circle cx="294.61" cy="190.68"/><circle cx="444.58" cy="340.95"/><circle cx="426.57" cy="251.08"/><circle cx="460.59" cy="183.14"/><circle cx="332.45" cy="363.55"/><circle cx="261.58" cy="297.73"/><circle cx="197.36" cy="210.29"/><circle cx="319.01" cy="301.35"/><circle cx="496.44" cy="337.73"/><circle cx="391.54" cy="161.4"/><circle cx="215.58" cy="218.11"/><circle cx="342.15" cy="228.5"/><circle cx="467.14" cy="327.62"/><circle cx="452.26" cy="304.92"/><circle cx="494.82" cy="332.05"/><circle cx="522.78" cy="234.95"/><circle cx="380.9" cy="152.13"/><circle cx="439.08" cy="297.74"/><circle cx="423.74" cy="279.68"/><circle cx="319.12" cy="168.44"/><circle cx="562.63" cy="222.33"/><circle cx="469.33" cy="249.78"/><circle cx="489.4" cy="224.54"/><circle cx="347.73" cy="226.58"/><circle cx="420.79" cy="387.26"/><circle cx="317.54" cy="260.55"/><circle cx="434.43" cy="462.07"/><circle cx="458.85" cy="160.01"/><circle cx="484.16" cy="166.31"/><circle cx="268.46" cy="199.75"/><circle cx="388.59" cy="166.09"/><circle cx="343.36" cy="156.94"/><circle cx="332.15" cy="245.3"/><circle cx="331.9" cy="345.02"/><circle cx="496.69" cy="187.7"/><circle cx="336.71" cy="161.16"/><circle cx="181.48" cy="262.18"/><circle cx="330.2" cy="356.42"/><circle cx="167.17" cy="216.43"/><circle cx="194.49" cy="254.87"/><circle cx="568.36" cy="171.53"/><circle cx="346.86" cy="301.56"/><circle cx="196.04" cy="184.16"/><circle cx="291.83" cy="321.32"/><circle cx="368.64" cy="429.95"/><circle cx="225.34" cy="189.86"/><circle cx="510.01" cy="194.09"/><circle cx="467.07" cy="192"/><circle cx="518.31" cy="290.5"/><circle cx="253.9" cy="175.88"/><circle cx="409.08" cy="341.3"/><circle cx="539.11" cy="229.31"/><circle cx="443.78" cy="252.21"/><circle cx="348.1" cy="231.49"/><circle cx="453.24" cy="252.8"/><circle cx="236.77" cy="314.49"/><circle cx="351.32" cy="175.93"/><circle cx="440.12" cy="193.88"/><circle cx="505.04" cy="239.16"/><circle cx="477.53" cy="183.01"/><circle cx="283.7" cy="194.1"/><circle cx="192.61" cy="243.11"/><circle cx="413.72" cy="285.04"/><circle cx="529.85" cy="291"/><circle cx="339.69" cy="212.95"/><circle cx="439.14" cy="299.3"/><circle cx="464.66" cy="184.65"/><circle cx="434.75" cy="167.52"/><circle cx="418.1" cy="254.49"/><circle cx="521.64" cy="275.26"/><circle cx="215.51" cy="259.45"/><circle cx="556.05" cy="169.89"/><circle cx="406.17" cy="393.23"/><circle cx="306.33" cy="314.47"/><circle cx="340.71" cy="384.4"/><circle cx="368.54" cy="274.64"/><circle cx="335.18" cy="414.85"/><circle cx="401.52" cy="187.16"/><circle cx="552.76" cy="178.12"/><circle cx="542.47" cy="185.1"/><circle cx="227.86" cy="169.96"/><circle cx="416.9" cy="436.06"/><circle cx="342.68" cy="172.28"/><circle cx="353.43" cy="253.39"/><circle cx="569.11" cy="157.21"/><circle cx="372.94" cy="287.57"/><circle cx="481.64" cy="224.55"/><circle cx="211.31" cy="275.46"/><circle cx="483.76" cy="286.49"/><circle cx="289.12" cy="252.37"/><circle cx="390.53" cy="430.41"/><circle cx="282.76" cy="224.01"/><circle cx="382.29" cy="407.73"/><circle cx="505.43" cy="202.13"/><circle cx="328.78" cy="367.11"/><circle cx="182.82" cy="239.54"/><circle cx="215.18" cy="188.73"/><circle cx="244.91" cy="339.69"/><circle cx="346.76" cy="239.87"/><circle cx="362.07" cy="293.71"/><circle cx="334.42" cy="224.18"/><circle cx="379.96" cy="200.45"/><circle cx="342.12" cy="298.48"/><circle cx="221.35" cy="271.27"/><circle cx="397.19" cy="359.4"/><circle cx="387.31" cy="276.17"/><circle cx="245.83" cy="175.45"/><circle cx="308.49" cy="278"/><circle cx="490.54" cy="278.12"/><circle cx="503.89" cy="189.17"/><circle cx="230.78" cy="247.21"/><circle cx="404.34" cy="392.8"/><circle cx="413.53" cy="456.78"/><circle cx="353.56" cy="323.5"/><circle cx="500.13" cy="321.26"/><circle cx="463.27" cy="192.8"/><circle cx="303.34" cy="199.81"/><circle cx="359.66" cy="161.71"/><circle cx="465.47" cy="233.53"/><circle cx="278.82" cy="199.77"/><circle cx="396.35" cy="452.65"/><circle cx="187.88" cy="213.33"/><circle cx="401.36" cy="429.82"/><circle cx="377.98" cy="313.21"/><circle cx="380.17" cy="314.9"/><circle cx="559.44" cy="154.59"/><circle cx="450.7" cy="363.66"/><circle cx="422.07" cy="323.62"/><circle cx="420.54" cy="441.72"/><circle cx="403.57" cy="311.9"/><circle cx="266.77" cy="188.43"/><circle cx="387.03" cy="358.99"/><circle cx="538.47" cy="194.01"/><circle cx="499.56" cy="214.19"/><circle cx="514.08" cy="163.25"/><circle cx="276.01" cy="350.21"/><circle cx="384.95" cy="318.49"/><circle cx="468.57" cy="196.15"/><circle cx="383.53" cy="243.22"/><circle cx="438.45" cy="418.24"/><circle cx="276.02" cy="360.91"/><circle cx="192.84" cy="205.74"/><circle cx="259.97" cy="320.02"/><circle cx="437.64" cy="264.76"/><circle cx="320.98" cy="270.43"/><circle cx="312.6" cy="193.58"/><circle cx="290.42" cy="179.13"/><circle cx="210.19" cy="275.68"/><circle cx="496.88" cy="294.72"/><circle cx="388.51" cy="411.02"/><circle cx="387.07" cy="280.54"/><circle cx="545.99" cy="191.71"/><circle cx="376.7" cy="184.69"/><circle cx="287.55" cy="231.62"/><circle cx="507.94" cy="147.12"/><circle cx="354.74" cy="432.21"/><circle cx="536.74" cy="271.54"/><circle cx="384.53" cy="436.1"/><circle cx="274.63" cy="331.36"/><circle cx="294.47" cy="172.84"/><circle cx="287.95" cy="218.7"/><circle cx="443.12" cy="160.86"/><circle cx="420.92" cy="383.63"/><circle cx="157.11" cy="214.77"/><circle cx="427.57" cy="291.43"/><circle cx="448.24" cy="387.02"/><circle cx="177.37" cy="203.78"/><circle cx="329.49" cy="204.19"/><circle cx="414.19" cy="422.75"/><circle cx="329.85" cy="318.22"/><circle cx="420.44" cy="329.94"/><circle cx="389.33" cy="247.13"/><circle cx="440.55" cy="304.96"/><circle cx="206.45" cy="179.46"/><circle cx="357.23" cy="194.47"/><circle cx="250.81" cy="268.55"/><circle cx="477.15" cy="195.36"/><circle cx="431.27" cy="207.3"/><circle cx="420.9" cy="153.47"/><circle cx="452.94" cy="211.1"/><circle cx="264.94" cy="326.55"/><circle cx="285.79" cy="363.63"/><circle cx="301.27" cy="289.4"/><circle cx="515.07" cy="249.99"/><circle cx="425.64" cy="385.19"/><circle cx="276.33" cy="283.3"/><circle cx="319.93" cy="359.55"/><circle cx="362.07" cy="177.68"/><circle cx="244.47" cy="263.91"/><circle cx="367.63" cy="175.22"/><circle cx="354.52" cy="205.52"/><circle cx="437.26" cy="306.25"/><circle cx="305.84" cy="350.06"/><circle cx="367.47" cy="265.46"/><circle cx="275.72" cy="233.7"/><circle cx="409.15" cy="277"/><circle cx="448.55" cy="439.43"/><circle cx="379.65" cy="321"/><circle cx="405.08" cy="257.81"/><circle cx="429.38" cy="395.8"/><circle cx="324.46" cy="407.13"/><circle cx="465.07" cy="398.24"/><circle cx="422.02" cy="425.67"/><circle cx="394.74" cy="192.55"/><circle cx="275.36" cy="320.92"/><circle cx="453.96" cy="261.09"/><circle cx="362.66" cy="433.22"/><circle cx="424.17" cy="153.08"/><circle cx="245.39" cy="291.23"/><circle cx="200.25" cy="172.82"/><circle cx="240.36" cy="287.42"/><circle cx="185.56" cy="217.91"/><circle cx="244.21" cy="266.3"/><circle cx="330.55" cy="354.31"/><circle cx="437.56" cy="352.63"/><circle cx="309.44" cy="248.39"/><circle cx="328.2" cy="169.88"/><circle cx="363.52" cy="230.03"/><circle cx="227.54" cy="308.91"/><circle cx="301.96" cy="267.89"/><circle cx="342.33" cy="287.96"/><circle cx="442.29" cy="178.75"/><circle cx="414.61" cy="367.98"/><circle cx="308.95" cy="290.11"/><circle cx="251.75" cy="164.33"/><circle cx="396.66" cy="363.51"/><circle cx="318.4" cy="341.14"/><circle cx="425.81" cy="472.54"/><circle cx="270.56" cy="356.46"/><circle cx="411.5" cy="331.5"/><circle cx="338.21" cy="296.09"/><circle cx="278.57" cy="254.87"/><circle cx="483.61" cy="240.26"/><circle cx="285.51" cy="224.41"/><circle cx="265.92" cy="300.42"/><circle cx="297.89" cy="248.38"/><circle cx="224.71" cy="309.18"/><circle cx="532.92" cy="168.14"/><circle cx="513.03" cy="195.78"/><circle cx="253.22" cy="222.7"/><circle cx="450.16" cy="164.7"/><circle cx="501.38" cy="180.89"/><circle cx="382.83" cy="416.5"/><circle cx="389.49" cy="390.34"/><circle cx="460.78" cy="168.84"/><circle cx="261.95" cy="228.27"/><circle cx="483.62" cy="287.71"/><circle cx="204.42" cy="275.73"/><circle cx="320.95" cy="173.38"/><circle cx="414.6" cy="193.65"/><circle cx="251.92" cy="270.01"/><circle cx="363.84" cy="231.91"/><circle cx="265.85" cy="276.18"/><circle cx="336.46" cy="370.99"/><circle cx="511.26" cy="325.57"/><circle cx="491.05" cy="171.34"/><circle cx="497.35" cy="338.01"/><circle cx="507.45" cy="294.08"/><circle cx="277.81" cy="354.38"/><circle cx="209.25" cy="261.19"/><circle cx="477.98" cy="149.54"/><circle cx="312.19" cy="264.52"/><circle cx="463.15" cy="324.75"/><circle cx="417.29" cy="328.71"/><circle cx="351.61" cy="295.55"/><circle cx="329.83" cy="242.53"/><circle cx="544.22" cy="148.13"/><circle cx="252.14" cy="176.73"/><circle cx="289.55" cy="351.69"/><circle cx="458.03" cy="375.13"/><circle cx="237.83" cy="219.27"/><circle cx="454.47" cy="173.3"/><circle cx="421.39" cy="301.63"/><circle cx="333.88" cy="207.26"/><circle cx="364.63" cy="296.82"/><circle cx="265.32" cy="251.92"/><circle cx="267.64" cy="171.84"/><circle cx="251.17" cy="250.28"/><circle cx="243.12" cy="174.56"/><circle cx="248.47" cy="229.95"/><circle cx="277.05" cy="273.37"/><circle cx="314.67" cy="181.83"/><circle cx="516.31" cy="177.18"/><circle cx="334.36" cy="410.14"/><circle cx="427.1" cy="306.44"/><circle cx="289.86" cy="278.5"/><circle cx="544.27" cy="183.01"/><circle cx="383.9" cy="151.98"/><circle cx="345.93" cy="301.93"/><circle cx="510.4" cy="156.47"/><circle cx="280.2" cy="340.84"/><circle cx="504.36" cy="252.3"/><circle cx="457.2" cy="212.61"/><circle cx="367.87" cy="396.59"/><circle cx="174.57" cy="228.18"/><circle cx="415.32" cy="421.67"/><circle cx="467.21" cy="150.42"/><circle cx="390.97" cy="395.02"/><circle cx="303.61" cy="316.23"/><circle cx="341.63" cy="236.08"/><circle cx="561.4" cy="165.02"/><circle cx="199.1" cy="271.23"/><circle cx="433.39" cy="149.51"/><circle cx="507.59" cy="209.43"/><circle cx="437.45" cy="434.95"/><circle cx="415.42" cy="320.96"/><circle cx="444.3" cy="237.07"/><circle cx="254.09" cy="194.26"/><circle cx="376.56" cy="295.36"/><circle cx="274.75" cy="234.11"/><circle cx="532.89" cy="188.34"/><circle cx="409.48" cy="291.25"/><circle cx="443.28" cy="331.39"/><circle cx="420.75" cy="398.93"/><circle cx="422.3" cy="241.87"/><circle cx="494.26" cy="191.04"/><circle cx="511" cy="196.34"/><circle cx="435.34" cy="206.58"/><circle cx="496.51" cy="343.61"/><circle cx="442.74" cy="367.51"/><circle cx="423.55" cy="291.68"/><circle cx="401.19" cy="311.75"/><circle cx="550.51" cy="212.26"/><circle cx="234.37" cy="285.18"/><circle cx="334.65" cy="358.29"/><circle cx="276.37" cy="366.02"/><circle cx="243.69" cy="296.66"/><circle cx="501.51" cy="281.46"/><circle cx="393.22" cy="452.98"/><circle cx="533.57" cy="148.44"/><circle cx="306.61" cy="391.72"/><circle cx="311.57" cy="366.53"/><circle cx="193.83" cy="191.72"/><circle cx="308.86" cy="384.19"/><circle cx="496.14" cy="346.39"/><circle cx="346.9" cy="370.46"/><circle cx="404.63" cy="320.29"/><circle cx="469.38" cy="311.21"/><circle cx="427.93" cy="421.07"/><circle cx="479.25" cy="308.6"/><circle cx="489.11" cy="203.04"/><circle cx="294.42" cy="217.52"/><circle cx="475.35" cy="174.34"/><circle cx="475.16" cy="391.83"/><circle cx="450.42" cy="306.59"/><circle cx="328.82" cy="200.28"/><circle cx="342.81" cy="176.13"/><circle cx="418.36" cy="348.78"/><circle cx="411.36" cy="187.24"/><circle cx="513.63" cy="261.33"/><circle cx="321.22" cy="216.45"/><circle cx="351.37" cy="252.69"/><circle cx="247.78" cy="199.76"/><circle cx="307.58" cy="378.31"/><circle cx="385.4" cy="310.28"/><circle cx="469.39" cy="265.02"/><circle cx="541.28" cy="152.78"/><circle cx="235.12" cy="222.33"/><circle cx="225.75" cy="268.99"/><circle cx="354.92" cy="323.84"/><circle cx="407.78" cy="374.19"/><circle cx="410.03" cy="374.61"/><circle cx="561.99" cy="220.21"/><circle cx="283.66" cy="282.89"/><circle cx="428.41" cy="364.29"/><circle cx="406.24" cy="331.1"/><circle cx="464.52" cy="276.65"/><circle cx="207.11" cy="231.15"/><circle cx="438.88" cy="437.12"/><circle cx="455.79" cy="199.85"/><circle cx="380.7" cy="179.6"/><circle cx="415.4" cy="469.57"/><circle cx="335.6" cy="392.91"/><circle cx="377.48" cy="224.59"/><circle cx="262.72" cy="265.35"/><circle cx="397.15" cy="362.55"/><circle cx="309.8" cy="208.19"/><circle cx="231.65" cy="276.2"/><circle cx="506.37" cy="215.14"/><circle cx="414.56" cy="224.93"/><circle cx="331.82" cy="200.95"/><circle cx="397.51" cy="267.24"/><circle cx="578.04" cy="150.05"/><circle cx="231.14" cy="252.29"/><circle cx="395.93" cy="249.21"/><circle cx="366.28" cy="366.33"/><circle cx="405.81" cy="314.69"/><circle cx="414.37" cy="370.66"/><circle cx="488.28" cy="340.52"/><circle cx="279.15" cy="215.94"/><circle cx="330.78" cy="185.76"/><circle cx="264.43" cy="267.75"/><circle cx="460.05" cy="288.81"/><circle cx="558.24" cy="219.93"/><circle cx="365.42" cy="220.26"/><circle cx="470.03" cy="401.78"/><circle cx="367.28" cy="354.73"/><circle cx="396.98" cy="206.24"/><circle cx="298.12" cy="337.78"/><circle cx="443.95" cy="271.52"/><circle cx="417.79" cy="167.89"/><circle cx="282.17" cy="288.7"/><circle cx="407.3" cy="379.64"/><circle cx="469.02" cy="354.63"/><circle cx="450.07" cy="434.86"/><circle cx="517.16" cy="284.48"/><circle cx="430.55" cy="266.4"/><circle cx="428.35" cy="369.21"/><circle cx="278.37" cy="187.34"/><circle cx="292.92" cy="200.54"/><circle cx="435.51" cy="387.56"/><circle cx="387.25" cy="245.4"/><circle cx="399.64" cy="328.97"/><circle cx="218.84" cy="310.22"/><circle cx="372.89" cy="163.09"/><circle cx="517.8" cy="235.41"/><circle cx="443.67" cy="403.23"/><circle cx="544.39" cy="181.55"/><circle cx="400.21" cy="392.89"/><circle cx="479.15" cy="144.87"/><circle cx="356.29" cy="392.66"/><circle cx="321.65" cy="333.54"/><circle cx="216.19" cy="247.56"/><circle cx="308.62" cy="362.13"/><circle cx="391.03" cy="394.65"/><circle cx="567.71" cy="183.48"/><circle cx="218.8" cy="284.52"/><circle cx="347.85" cy="358.48"/><circle cx="199.66" cy="229.75"/><circle cx="350.01" cy="351.81"/><circle cx="530.12" cy="277.09"/><circle cx="305.36" cy="240.85"/><circle cx="326.48" cy="184.34"/><circle cx="185.09" cy="176.34"/><circle cx="518.49" cy="179.92"/><circle cx="469.21" cy="216.8"/><circle cx="373.34" cy="162.55"/><circle cx="373.03" cy="384.1"/><circle cx="366.4" cy="373.83"/><circle cx="456.62" cy="348.44"/></g><g fill="#ff7f0e" stroke="#ff7f0e" fill-opacity="0.2" stroke-opacity="0.2" stroke-width="1.3"><circle cx="255.22" cy="318.35"/><circle cx="523.4" cy="278.24"/><circle cx="412.05" cy="289.99"/><circle cx="478.85" cy="373.93"/><circle cx="392.38" cy="192.35"/><circle cx="324.97" cy="376.81"/><circle cx="319.85" cy="347.6"/><circle cx="303.64" cy="366.59"/><circle cx="365.75" cy="254.74"/><circle cx="344.87" cy="348.69"/><circle cx="460.75" cy="214.16"/><circle cx="453.5" cy="425.47"/><circle cx="435.11" cy="403.84"/><circle cx="311.4" cy="330.47"/><circle cx="419.13" cy="454.09"/><circle cx="358.99" cy="358.5"/><circle cx="460.11" cy="176.14"/><circle cx="371.87" cy="322.05"/><circle cx="337.34" cy="314.6"/><circle cx="300.25" cy="345.02"/><circle cx="407.87" cy="364.99"/><circle cx="311.74" cy="304.36"/><circle cx="202.01" cy="213.56"/><circle cx="362.09" cy="196.3"/><circle cx="398.72" cy="439.91"/><circle cx="363.41" cy="200.96"/><circle cx="217.85" cy="206.21"/><circle cx="458.29" cy="389.28"/><circle cx="388.65" cy="427.63"/><circle cx="254" cy="205.92"/><circle cx="507.97" cy="181.39"/><circle cx="176.94" cy="244.07"/><circle cx="392.77" cy="374.31"/><circle cx="419.61" cy="238.12"/><circle cx="232.56" cy="276.87"/><circle cx="422.79" cy="455.04"/><circle cx="518.38" cy="167.22"/><circle cx="414.68" cy="211.35"/><circle cx="390.88" cy="231"/><circle cx="385.32" cy="342.49"/><circle cx="448.87" cy="164.76"/><circle cx="206.61" cy="230.91"/><circle cx="525.51" cy="196.61"/><circle cx="287.25" cy="297.56"/><circle cx="462.61" cy="239.7"/><circle cx="344.38" cy="169.91"/><circle cx="406.02" cy="243.9"/><circle cx="425.77" cy="271.56"/><circle cx="225.45" cy="225.79"/><circle cx="303.12" cy="200.07"/><circle cx="483.99" cy="173.12"/><circle cx="438.57" cy="375.95"/><circle cx="369.33" cy="215.83"/><circle cx="452.34" cy="315.43"/><circle cx="510.41" cy="300.9"/><circle cx="478.47" cy="218.67"/><circle cx="223.46" cy="295.21"/><circle cx="353.46" cy="391.36"/><circle cx="343.53" cy="323.06"/><circle cx="284.63" cy="229.24"/><circle cx="346.3" cy="242.77"/><circle cx="194.45" cy="240.16"/><circle cx="419.71" cy="239.16"/><circle cx="247.23" cy="289.54"/><circle cx="481.28" cy="151.84"/><circle cx="324.99" cy="375.91"/><circle cx="410.74" cy="224.68"/><circle cx="423.91" cy="301.42"/><circle cx="356.21" cy="388.06"/><circle cx="226.65" cy="244.01"/><circle cx="283.71" cy="275.61"/><circle cx="213.84" cy="254.82"/><circle cx="193.15" cy="265.84"/><circle cx="337.67" cy="174.22"/><circle cx="239.05" cy="237.37"/><circle cx="481.51" cy="281.75"/><circle cx="492.9" cy="176.74"/><circle cx="441.08" cy="337.81"/><circle cx="371.5" cy="319.84"/><circle cx="233.86" cy="250.27"/><circle cx="328.32" cy="344.48"/><circle cx="257.13" cy="273.47"/><circle cx="323.51" cy="366.27"/><circle cx="356.1" cy="260.58"/><circle cx="476.99" cy="260.27"/><circle cx="340.52" cy="284.28"/><circle cx="303.65" cy="205.4"/><circle cx="414.06" cy="201.88"/><circle cx="350.73" cy="295.38"/><circle cx="442.75" cy="208.38"/><circle cx="383.23" cy="260.37"/><circle cx="475.01" cy="162.85"/><circle cx="387.39" cy="396.27"/><circle cx="353.28" cy="309.41"/><circle cx="291.31" cy="354.78"/><circle cx="345.47" cy="322.3"/><circle cx="517.64" cy="162.55"/><circle cx="505.66" cy="333.02"/><circle cx="382.8" cy="196.27"/><circle cx="451.98" cy="309.61"/><circle cx="416.37" cy="464.44"/><circle cx="174.37" cy="211.93"/><circle cx="289.95" cy="284.61"/><circle cx="422.18" cy="453.14"/><circle cx="506.25" cy="313.7"/><circle cx="472.26" cy="364.68"/><circle cx="459.95" cy="374.07"/><circle cx="435.91" cy="294.64"/><circle cx="566.11" cy="145.2"/><circle cx="201.5" cy="202.59"/><circle cx="222.96" cy="271.24"/><circle cx="402.94" cy="251.29"/><circle cx="384.2" cy="289.83"/><circle cx="307.68" cy="211.33"/><circle cx="371.98" cy="397.75"/><circle cx="483.38" cy="171.21"/><circle cx="458.24" cy="229.02"/><circle cx="379.13" cy="322.83"/><circle cx="271.58" cy="295.26"/><circle cx="328.15" cy="260.59"/><circle cx="424.64" cy="341.84"/><circle cx="233.78" cy="266.85"/><circle cx="213.91" cy="254.58"/><circle cx="336.02" cy="238.47"/><circle cx="177.16" cy="234.35"/><circle cx="580.47" cy="156.36"/><circle cx="436.93" cy="360.51"/><circle cx="235.25" cy="263.66"/><circle cx="537.01" cy="226.75"/><circle cx="491.19" cy="293.34"/><circle cx="528.54" cy="198.37"/><circle cx="435.03" cy="272.68"/><circle cx="312.74" cy="174.35"/><circle cx="335.03" cy="326.65"/><circle cx="320.04" cy="254.42"/><circle cx="467.92" cy="251.39"/><circle cx="293.07" cy="187.32"/><circle cx="369.27" cy="162.98"/><circle cx="278.96" cy="251.93"/><circle cx="311.44" cy="181.78"/><circle cx="369.9" cy="176.06"/><circle cx="344.85" cy="177.6"/><circle cx="559.81" cy="203.45"/><circle cx="423.48" cy="266.4"/><circle cx="367.91" cy="351.92"/><circle cx="346.94" cy="309.79"/><circle cx="397.08" cy="164.21"/><circle cx="381.65" cy="410.9"/><circle cx="249.75" cy="238.57"/><circle cx="326.86" cy="289.74"/><circle cx="450.14" cy="238.43"/><circle cx="210.1" cy="275.98"/><circle cx="398.01" cy="229.2"/><circle cx="323.71" cy="317.98"/><circle cx="528.63" cy="245.79"/><circle cx="459.91" cy="338.22"/><circle cx="454.95" cy="254.72"/><circle cx="407.49" cy="353.02"/><circle cx="352.71" cy="335.02"/><circle cx="461.24" cy="352.29"/><circle cx="441.19" cy="363.01"/><circle cx="175.54" cy="190.57"/><circle cx="214.35" cy="219.54"/><circle cx="533.58" cy="239.99"/><circle cx="497.46" cy="339.74"/><circle cx="367.55" cy="251.9"/><circle cx="329.34" cy="366.41"/><circle cx="470.83" cy="279.84"/><circle cx="343.84" cy="296.42"/><circle cx="464.19" cy="345.97"/><circle cx="246.71" cy="221.88"/><circle cx="448.07" cy="173.22"/><circle cx="280.06" cy="359.97"/><circle cx="409.14" cy="221.91"/><circle cx="333.31" cy="347.33"/><circle cx="413.17" cy="329.12"/><circle cx="527.27" cy="280.64"/><circle cx="422.16" cy="214.26"/><circle cx="377.9" cy="280.68"/><circle cx="508.88" cy="330.15"/><circle cx="450.09" cy="281.4"/><circle cx="357.4" cy="381.66"/><circle cx="541.22" cy="238.13"/><circle cx="408.83" cy="184.03"/><circle cx="408.06" cy="194.42"/><circle cx="287.71" cy="202.29"/><circle cx="422.06" cy="359.64"/><circle cx="275.74" cy="204.84"/><circle cx="445.02" cy="172.67"/><circle cx="184.11" cy="219.39"/><circle cx="428.3" cy="169.51"/><circle cx="322.88" cy="283.13"/><circle cx="427.34" cy="309.56"/><circle cx="388.18" cy="215.25"/><circle cx="426.98" cy="439.21"/><circle cx="419.13" cy="219.61"/><circle cx="316.5" cy="228.76"/><circle cx="420.59" cy="314.5"/><circle cx="156.54" cy="206.96"/><circle cx="433.54" cy="283.52"/><circle cx="230.43" cy="312.66"/><circle cx="374.44" cy="280.6"/><circle cx="318.78" cy="283.53"/><circle cx="234.46" cy="217.26"/><circle cx="385.89" cy="176.76"/><circle cx="464.32" cy="292.96"/><circle cx="464.69" cy="265.9"/><circle cx="460.7" cy="424.06"/><circle cx="447.85" cy="366.13"/><circle cx="431.02" cy="469.76"/><circle cx="244.14" cy="250.83"/><circle cx="446.41" cy="434.34"/><circle cx="419.74" cy="384.77"/><circle cx="244.79" cy="199.35"/><circle cx="283.8" cy="307.97"/><circle cx="257.01" cy="278.94"/><circle cx="222.46" cy="223.15"/><circle cx="379.35" cy="289.54"/><circle cx="337.31" cy="369.15"/><circle cx="406.46" cy="379.13"/><circle cx="385.59" cy="172.97"/><circle cx="282.83" cy="275.7"/><circle cx="292.32" cy="241.11"/><circle cx="370.85" cy="227.47"/><circle cx="305.08" cy="256.98"/><circle cx="316.31" cy="336.08"/><circle cx="335.06" cy="363.37"/><circle cx="356.43" cy="246.54"/><circle cx="374.15" cy="437.3"/><circle cx="454.12" cy="268.2"/><circle cx="483.89" cy="231.96"/><circle cx="395.3" cy="185.69"/><circle cx="288.47" cy="197.65"/><circle cx="440.56" cy="228.42"/><circle cx="339.58" cy="296.52"/><circle cx="384.77" cy="305.81"/><circle cx="477.58" cy="353.52"/><circle cx="335.14" cy="186.94"/><circle cx="556.7" cy="162.59"/><circle cx="428.99" cy="253.71"/><circle cx="361.09" cy="416.85"/><circle cx="315.56" cy="165.52"/><circle cx="523.11" cy="242.82"/><circle cx="376.78" cy="188.37"/><circle cx="565.51" cy="178.21"/><circle cx="500.3" cy="318.21"/><circle cx="255.67" cy="323.83"/><circle cx="168.75" cy="186.38"/><circle cx="366.01" cy="171.47"/><circle cx="275.53" cy="269.01"/><circle cx="287.3" cy="335.28"/><circle cx="337.53" cy="275.77"/><circle cx="511.29" cy="299.15"/><circle cx="325.23" cy="315.45"/><circle cx="390.47" cy="277.18"/><circle cx="434.14" cy="366.6"/><circle cx="357.81" cy="321"/><circle cx="309.9" cy="189.01"/><circle cx="444.93" cy="418.11"/><circle cx="312.63" cy="264.25"/><circle cx="371.57" cy="393.92"/><circle cx="456.85" cy="341.14"/><circle cx="301.92" cy="254.65"/><circle cx="179.99" cy="237.62"/><circle cx="435.72" cy="295.37"/><circle cx="350.07" cy="375.12"/><circle cx="455.65" cy="202.93"/><circle cx="287.15" cy="343.24"/><circle cx="400.77" cy="298.66"/><circle cx="239.65" cy="241.35"/><circle cx="392.94" cy="229.06"/><circle cx="362.17" cy="349.28"/><circle cx="546.7" cy="180.56"/><circle cx="515.74" cy="185.41"/><circle cx="211.97" cy="273.64"/><circle cx="294.08" cy="190.27"/><circle cx="504.74" cy="219.59"/><circle cx="415.49" cy="249.24"/><circle cx="345.68" cy="376.84"/><circle cx="334.7" cy="379.26"/><circle cx="218" cy="281.56"/><circle cx="185.27" cy="234.99"/><circle cx="316.82" cy="307.41"/><circle cx="407.24" cy="220.87"/><circle cx="330.99" cy="193.03"/><circle cx="243.28" cy="294.2"/><circle cx="394.97" cy="394.3"/><circle cx="247.68" cy="302.97"/><circle cx="483.41" cy="234.3"/><circle cx="350.26" cy="366.79"/><circle cx="435.04" cy="268.84"/><circle cx="343.26" cy="256.33"/><circle cx="220.32" cy="210.98"/><circle cx="390.67" cy="301.34"/><circle cx="388.96" cy="249.36"/><circle cx="281.58" cy="191.41"/><circle cx="411.33" cy="339.79"/><circle cx="287.79" cy="248.72"/><circle cx="344.93" cy="210.53"/><circle cx="328.85" cy="231.23"/><circle cx="418.61" cy="247.99"/><circle cx="170.67" cy="230.93"/><circle cx="394.77" cy="288.51"/><circle cx="429.29" cy="236.23"/><circle cx="324.99" cy="375.43"/><circle cx="286.05" cy="249.55"/><circle cx="362.84" cy="430.31"/><circle cx="483.76" cy="357.4"/><circle cx="482.26" cy="304.59"/><circle cx="381.07" cy="371.76"/><circle cx="352.87" cy="258.47"/><circle cx="496.13" cy="205.08"/><circle cx="462.92" cy="212.99"/><circle cx="510.32" cy="191.98"/><circle cx="315.06" cy="365.99"/><circle cx="405.13" cy="218.61"/><circle cx="480.96" cy="348.47"/><circle cx="416.78" cy="428.54"/><circle cx="273.83" cy="214.25"/><circle cx="300.35" cy="237.57"/><circle cx="479.33" cy="160.88"/><circle cx="313.66" cy="393.17"/><circle cx="364.74" cy="331.69"/><circle cx="220.19" cy="177.93"/><circle cx="362.04" cy="282.27"/><circle cx="390.25" cy="395.71"/><circle cx="308.88" cy="285.3"/><circle cx="304.17" cy="232.82"/><circle cx="241.57" cy="271.4"/><circle cx="267.24" cy="264.8"/><circle cx="336.56" cy="387.07"/><circle cx="523.29" cy="286.87"/><circle cx="403.4" cy="426.45"/><circle cx="370.58" cy="198.02"/><circle cx="445.97" cy="194.12"/><circle cx="499.79" cy="322.89"/><circle cx="393.55" cy="440.22"/><circle cx="416.89" cy="368.65"/><circle cx="481.77" cy="288.21"/><circle cx="439.95" cy="294.46"/><circle cx="327.7" cy="252.72"/><circle cx="298.92" cy="325.48"/><circle cx="334.53" cy="199.99"/><circle cx="335.4" cy="237.82"/><circle cx="411.52" cy="378.54"/><circle cx="369.43" cy="311.39"/><circle cx="216.71" cy="246.84"/><circle cx="346.02" cy="217.14"/><circle cx="251.17" cy="252.87"/><circle cx="504.66" cy="183.86"/><circle cx="403.37" cy="284.46"/><circle cx="435.7" cy="333.25"/><circle cx="255.67" cy="183.02"/><circle cx="361.36" cy="314.91"/><circle cx="195.28" cy="259.78"/><circle cx="478.57" cy="257.41"/><circle cx="347.25" cy="193.59"/><circle cx="321.09" cy="328.82"/><circle cx="317.27" cy="308.66"/><circle cx="419.34" cy="278.42"/><circle cx="258.29" cy="219.31"/><circle cx="343.13" cy="231.01"/><circle cx="493.19" cy="255.16"/><circle cx="210.88" cy="206.9"/><circle cx="527.66" cy="178.74"/><circle cx="330.74" cy="288.37"/><circle cx="321.37" cy="271.03"/><circle cx="356.07" cy="290.01"/><circle cx="394.55" cy="292.19"/><circle cx="445.84" cy="204.04"/><circle cx="294.15" cy="281.24"/><circle cx="509.65" cy="264.13"/><circle cx="463.39" cy="378.43"/><circle cx="398.48" cy="172.2"/><circle cx="230.77" cy="311.55"/><circle cx="462.13" cy="222.12"/><circle cx="167.07" cy="224.75"/><circle cx="316.6" cy="350.72"/><circle cx="216.94" cy="207.73"/><circle cx="378.39" cy="304.92"/><circle cx="171.53" cy="224.56"/><circle cx="420.82" cy="174.24"/><circle cx="454.55" cy="188.53"/><circle cx="413.91" cy="190.64"/><circle cx="230.09" cy="195.92"/><circle cx="338.49" cy="271.57"/><circle cx="425.02" cy="188.08"/><circle cx="451.21" cy="200.81"/><circle cx="235.5" cy="233.46"/><circle cx="258.65" cy="188.69"/><circle cx="380.15" cy="374.08"/><circle cx="256.98" cy="260.07"/><circle cx="249.01" cy="318.8"/><circle cx="304.63" cy="340.76"/><circle cx="444.09" cy="353.16"/><circle cx="328.44" cy="219.89"/><circle cx="354.64" cy="419.22"/><circle cx="367.65" cy="309.85"/><circle cx="287.16" cy="170.07"/><circle cx="238.97" cy="190.81"/><circle cx="386.5" cy="293.08"/><circle cx="473.58" cy="310.92"/><circle cx="409.62" cy="304.54"/><circle cx="454.19" cy="330.87"/><circle cx="421.52" cy="386.73"/><circle cx="412.59" cy="168.58"/><circle cx="451.81" cy="233.03"/><circle cx="474.15" cy="380.91"/><circle cx="535.34" cy="176.65"/><circle cx="327.74" cy="207.03"/><circle cx="354.93" cy="309.22"/><circle cx="437.05" cy="245.59"/><circle cx="348.64" cy="365.18"/><circle cx="455.45" cy="385.44"/><circle cx="527.61" cy="284.51"/><circle cx="368.9" cy="349.77"/><circle cx="383.84" cy="324.18"/><circle cx="522.17" cy="247.41"/><circle cx="204.71" cy="203.15"/><circle cx="259.42" cy="334.72"/><circle cx="305.6" cy="178.1"/><circle cx="365.33" cy="310.58"/><circle cx="480.76" cy="269.32"/><circle cx="359.43" cy="159.96"/><circle cx="486.79" cy="306.69"/><circle cx="270.81" cy="210.23"/><circle cx="479.44" cy="198.2"/><circle cx="439.36" cy="338.16"/><circle cx="466.12" cy="170.13"/><circle cx="457.06" cy="411.12"/><circle cx="249.18" cy="335.62"/><circle cx="329.76" cy="395.74"/><circle cx="382.69" cy="195.5"/><circle cx="392.41" cy="211.14"/><circle cx="356.5" cy="210.05"/><circle cx="232.04" cy="312.06"/><circle cx="475.4" cy="224.29"/><circle cx="221.97" cy="227.92"/><circle cx="244.73" cy="269.34"/><circle cx="557.44" cy="165.76"/><circle cx="364.31" cy="160.19"/><circle cx="415.87" cy="313.32"/><circle cx="424.59" cy="388.19"/><circle cx="387.2" cy="206.77"/><circle cx="455.34" cy="214.08"/><circle cx="447.71" cy="430.48"/><circle cx="278.43" cy="253.87"/><circle cx="429.94" cy="222.15"/><circle cx="506.21" cy="263.98"/><circle cx="490.92" cy="193.22"/><circle cx="385.31" cy="323.68"/><circle cx="378.46" cy="267.82"/><circle cx="379.41" cy="257.81"/><circle cx="170.71" cy="226.21"/><circle cx="248.59" cy="219.63"/><circle cx="497.6" cy="198.27"/><circle cx="210.5" cy="220.63"/><circle cx="403.62" cy="426.69"/><circle cx="314.72" cy="303.95"/><circle cx="400.52" cy="332.46"/><circle cx="353.62" cy="379.97"/><circle cx="259.41" cy="305.76"/><circle cx="252.99" cy="279.05"/><circle cx="326.79" cy="283.18"/><circle cx="502.97" cy="210.39"/><circle cx="303.54" cy="208.09"/><circle cx="359.11" cy="346.22"/><circle cx="463.54" cy="326.7"/><circle cx="431.35" cy="335.33"/><circle cx="273.66" cy="216.62"/><circle cx="423.51" cy="364.58"/><circle cx="410.51" cy="317.75"/><circle cx="297.85" cy="288.43"/><circle cx="143.32" cy="191.61"/><circle cx="294.15" cy="204.3"/><circle cx="560.95" cy="196.61"/><circle cx="308.53" cy="367.58"/><circle cx="221.92" cy="246.42"/><circle cx="466.47" cy="187.88"/><circle cx="358" cy="310.32"/><circle cx="350.49" cy="350.35"/><circle cx="421.3" cy="308.56"/><circle cx="460.6" cy="226.07"/><circle cx="525.38" cy="161.06"/><circle cx="445.17" cy="220.85"/><circle cx="349.46" cy="229.69"/><circle cx="447.31" cy="443.49"/><circle cx="417.91" cy="384.16"/><circle cx="273.34" cy="218.32"/><circle cx="387.43" cy="266.43"/><circle cx="418.09" cy="244.7"/><circle cx="381.63" cy="258.15"/><circle cx="284.03" cy="320.98"/><circle cx="399.78" cy="244.42"/><circle cx="375.74" cy="197.82"/><circle cx="255.53" cy="295.92"/><circle cx="315.48" cy="305.83"/><circle cx="397.4" cy="234"/><circle cx="265.88" cy="250.38"/><circle cx="326.12" cy="292.83"/><circle cx="324.88" cy="378.96"/><circle cx="400.02" cy="242.86"/><circle cx="365.73" cy="263.41"/><circle cx="330.01" cy="319.68"/><circle cx="347.92" cy="224.71"/><circle cx="276.72" cy="327.25"/><circle cx="395.15" cy="363.31"/><circle cx="382.11" cy="271.62"/><circle cx="381.92" cy="222.63"/><circle cx="288.31" cy="182.41"/><circle cx="387.8" cy="364.67"/><circle cx="392.29" cy="430.13"/><circle cx="193.12" cy="244.49"/><circle cx="461.62" cy="180.7"/><circle cx="434.88" cy="223"/><circle cx="465.23" cy="359.17"/><circle cx="457.9" cy="294.53"/><circle cx="502.46" cy="294.51"/><circle cx="457.75" cy="364.26"/><circle cx="413.59" cy="245.08"/><circle cx="330.75" cy="247.72"/><circle cx="362.1" cy="324.18"/><circle cx="458.22" cy="365.81"/><circle cx="443.82" cy="384.8"/><circle cx="357.7" cy="308.56"/><circle cx="424.72" cy="189.68"/><circle cx="442.67" cy="406.23"/><circle cx="379.95" cy="228.99"/><circle cx="455.21" cy="246.79"/><circle cx="302.94" cy="199.32"/><circle cx="416.63" cy="384.71"/><circle cx="316.35" cy="253.02"/><circle cx="360.92" cy="324.55"/><circle cx="362.24" cy="210.91"/><circle cx="503.9" cy="304.08"/><circle cx="436.65" cy="274.46"/><circle cx="547.47" cy="218.07"/><circle cx="194.03" cy="225.58"/><circle cx="375.63" cy="162.17"/><circle cx="424.45" cy="452.99"/><circle cx="431.4" cy="292.87"/><circle cx="384.63" cy="159.62"/><circle cx="463.21" cy="184.37"/><circle cx="208.58" cy="197.34"/><circle cx="411.68" cy="242.05"/><circle cx="416.14" cy="240.59"/><circle cx="451.26" cy="254.51"/><circle cx="395" cy="294.15"/><circle cx="484.75" cy="220.93"/><circle cx="318.15" cy="326.33"/><circle cx="229.93" cy="214.29"/><circle cx="274.12" cy="195.56"/><circle cx="447.34" cy="310.36"/><circle cx="408.65" cy="314.61"/><circle cx="343.69" cy="407.66"/><circle cx="359.56" cy="281"/><circle cx="343.38" cy="220.88"/><circle cx="468.6" cy="237.26"/><circle cx="248.71" cy="282.58"/><circle cx="330.24" cy="250.64"/><circle cx="208.96" cy="260.37"/><circle cx="340.37" cy="358.47"/><circle cx="516.31" cy="173.34"/><circle cx="344.16" cy="216.91"/><circle cx="218.34" cy="277.54"/><circle cx="457.05" cy="269.3"/><circle cx="282.56" cy="170.62"/><circle cx="556.22" cy="228.17"/><circle cx="273.8" cy="245.2"/><circle cx="222.66" cy="249.2"/><circle cx="431.88" cy="328.45"/><circle cx="322.56" cy="287.82"/><circle cx="365.43" cy="366.2"/><circle cx="170.52" cy="204.24"/><circle cx="395" cy="239.55"/><circle cx="446.27" cy="395.53"/><circle cx="247.62" cy="277.72"/><circle cx="402.86" cy="287.26"/><circle cx="384.75" cy="300.13"/><circle cx="343.88" cy="252.67"/><circle cx="368.34" cy="330.02"/><circle cx="465.64" cy="309.48"/><circle cx="384.7" cy="313.94"/><circle cx="398.99" cy="311.46"/><circle cx="376.04" cy="218.67"/><circle cx="550.22" cy="224.86"/><circle cx="463.67" cy="272.81"/><circle cx="440.21" cy="434.84"/><circle cx="224.64" cy="217.02"/><circle cx="295.23" cy="366.01"/><circle cx="244.7" cy="209.44"/><circle cx="456.54" cy="298.58"/><circle cx="297.58" cy="185.52"/><circle cx="303.14" cy="223.6"/><circle cx="400.48" cy="209.77"/><circle cx="438.55" cy="398.46"/><circle cx="414.56" cy="313.8"/><circle cx="203" cy="246.13"/><circle cx="372.2" cy="425.73"/><circle cx="300.42" cy="293.14"/><circle cx="432.18" cy="392.25"/><circle cx="340.36" cy="352.93"/><circle cx="356.58" cy="409.78"/><circle cx="282.35" cy="322.54"/><circle cx="248.8" cy="317.58"/><circle cx="502.86" cy="217.2"/><circle cx="290.62" cy="361.07"/><circle cx="376.4" cy="198.1"/><circle cx="320.96" cy="174.88"/><circle cx="421.05" cy="232.54"/><circle cx="372.84" cy="346.64"/><circle cx="451.36" cy="189.71"/><circle cx="369.23" cy="391.73"/><circle cx="387.47" cy="272.73"/><circle cx="457.94" cy="340.71"/><circle cx="565.83" cy="168.98"/><circle cx="486.89" cy="274.21"/><circle cx="405.7" cy="176.7"/><circle cx="360.98" cy="354.59"/><circle cx="539.5" cy="183.59"/><circle cx="342.23" cy="181.75"/><circle cx="434.4" cy="272.85"/><circle cx="403.13" cy="331.91"/><circle cx="373.24" cy="226.19"/><circle cx="396.24" cy="434.57"/><circle cx="491.49" cy="296.45"/><circle cx="413.66" cy="327.46"/><circle cx="385.64" cy="375.34"/><circle cx="469.32" cy="331.76"/><circle cx="457.38" cy="359.71"/><circle cx="443.54" cy="313.5"/><circle cx="183.02" cy="219.47"/><circle cx="330.57" cy="316.27"/><circle cx="472.06" cy="306.69"/><circle cx="250.24" cy="229.97"/><circle cx="566.9" cy="148.3"/><circle cx="288.56" cy="234.66"/><circle cx="459.75" cy="267.04"/><circle cx="451.26" cy="433.72"/><circle cx="452.35" cy="213.03"/><circle cx="390.91" cy="170.6"/><circle cx="300.63" cy="329.47"/><circle cx="192.62" cy="225.36"/><circle cx="488.39" cy="360.83"/><circle cx="302.39" cy="363.73"/><circle cx="434.56" cy="271.11"/><circle cx="549.61" cy="238.41"/><circle cx="389.17" cy="312.88"/><circle cx="316.81" cy="215.83"/><circle cx="281.37" cy="254.48"/><circle cx="283.33" cy="210.74"/><circle cx="205.02" cy="266.1"/><circle cx="381.6" cy="299.91"/><circle cx="366.34" cy="243.17"/><circle cx="297.74" cy="301.67"/><circle cx="344.02" cy="265.74"/><circle cx="497.02" cy="190.03"/><circle cx="300.23" cy="195.12"/><circle cx="354.28" cy="213.96"/><circle cx="343.71" cy="379"/><circle cx="446.71" cy="447.58"/><circle cx="424.22" cy="231.3"/><circle cx="368.8" cy="429.93"/><circle cx="380.88" cy="281.15"/><circle cx="511.78" cy="259.5"/><circle cx="314.53" cy="243.74"/><circle cx="381.56" cy="244.8"/><circle cx="400.05" cy="392.23"/><circle cx="471.99" cy="277.85"/><circle cx="427.73" cy="309.45"/><circle cx="450.81" cy="300.34"/><circle cx="282.38" cy="243.29"/><circle cx="451.68" cy="215.42"/><circle cx="329.29" cy="161.11"/><circle cx="417.21" cy="211.84"/><circle cx="509.56" cy="228.28"/><circle cx="446.09" cy="196.17"/><circle cx="353.45" cy="331.57"/><circle cx="368.1" cy="406.29"/><circle cx="244.86" cy="291.57"/><circle cx="192.01" cy="253.79"/><circle cx="306.36" cy="299.3"/><circle cx="308.7" cy="316.26"/><circle cx="368.6" cy="340.04"/><circle cx="285.83" cy="253.1"/><circle cx="503.21" cy="232.34"/><circle cx="242.06" cy="226.61"/><circle cx="366.9" cy="203.44"/><circle cx="221.79" cy="197.45"/><circle cx="355.33" cy="201.54"/><circle cx="411.47" cy="256.73"/><circle cx="309.44" cy="355.59"/><circle cx="211.86" cy="265.98"/><circle cx="250.39" cy="255.39"/><circle cx="213.65" cy="191.93"/><circle cx="254.63" cy="323.61"/><circle cx="369.76" cy="190.17"/><circle cx="337.11" cy="170.71"/><circle cx="425.66" cy="284.49"/><circle cx="440.35" cy="332.26"/><circle cx="335.16" cy="348.71"/><circle cx="485.96" cy="261.62"/><circle cx="442.19" cy="224.94"/><circle cx="444.95" cy="317.37"/><circle cx="536.45" cy="148.15"/><circle cx="389.09" cy="262.21"/><circle cx="293.01" cy="202.32"/><circle cx="147.42" cy="195.9"/><circle cx="540.47" cy="214.46"/><circle cx="201.26" cy="252.13"/><circle cx="357.06" cy="346.94"/><circle cx="199.54" cy="235.62"/><circle cx="340.08" cy="404.96"/><circle cx="337.28" cy="410.94"/><circle cx="272.42" cy="177"/><circle cx="314.71" cy="277.64"/><circle cx="556.95" cy="153.95"/><circle cx="390.57" cy="249.06"/><circle cx="485.44" cy="220.49"/><circle cx="387.14" cy="421.93"/><circle cx="399.38" cy="359.12"/><circle cx="477.2" cy="223.16"/><circle cx="293.14" cy="186.49"/><circle cx="441.64" cy="397.53"/><circle cx="246.26" cy="334.36"/><circle cx="453.8" cy="256.03"/><circle cx="481.89" cy="155.54"/><circle cx="283.36" cy="234.41"/><circle cx="312.64" cy="358.08"/><circle cx="380.8" cy="291.58"/><circle cx="280.53" cy="309.54"/><circle cx="335.5" cy="300.08"/><circle cx="287.04" cy="261.32"/><circle cx="391.34" cy="201.32"/><circle cx="276.37" cy="245.43"/><circle cx="415.17" cy="238.46"/><circle cx="406.13" cy="352.52"/><circle cx="324.63" cy="291.7"/><circle cx="198.56" cy="177.59"/><circle cx="520.31" cy="237.23"/><circle cx="343.77" cy="385.1"/><circle cx="193.61" cy="247.61"/><circle cx="471.75" cy="182.94"/><circle cx="467.45" cy="235.87"/><circle cx="493.2" cy="265.48"/><circle cx="377.07" cy="315.5"/><circle cx="348.55" cy="264.99"/><circle cx="265.07" cy="332.24"/><circle cx="225.64" cy="191.68"/><circle cx="311.55" cy="263.7"/><circle cx="503.02" cy="183.61"/><circle cx="332.04" cy="297.69"/><circle cx="324.04" cy="276.52"/><circle cx="256.63" cy="249.66"/><circle cx="517.05" cy="273.21"/><circle cx="267.84" cy="213.62"/><circle cx="310.22" cy="179.73"/><circle cx="314.61" cy="181.71"/><circle cx="315.73" cy="341.1"/><circle cx="270.29" cy="178.83"/><circle cx="339.6" cy="303.8"/><circle cx="307.66" cy="242.3"/><circle cx="341.37" cy="295.62"/><circle cx="184.42" cy="252.61"/><circle cx="343.81" cy="297.43"/><circle cx="450.62" cy="304.01"/><circle cx="521.9" cy="168.61"/><circle cx="401.1" cy="442.31"/><circle cx="521.85" cy="152.4"/><circle cx="371.99" cy="186.31"/><circle cx="353.14" cy="227.95"/><circle cx="491.98" cy="325.11"/><circle cx="459.66" cy="317.01"/><circle cx="335.15" cy="203.09"/><circle cx="455.78" cy="416.18"/><circle cx="278.06" cy="306.92"/><circle cx="294.03" cy="272.53"/><circle cx="358.08" cy="302.53"/><circle cx="228.34" cy="308.45"/><circle cx="480.88" cy="243.25"/><circle cx="407.01" cy="300.72"/><circle cx="408.81" cy="412.49"/><circle cx="312.28" cy="295.92"/><circle cx="306.71" cy="345.58"/><circle cx="336.31" cy="245.57"/><circle cx="483.88" cy="213.33"/><circle cx="235.94" cy="187.87"/><circle cx="365.75" cy="315.39"/><circle cx="346.88" cy="303.31"/><circle cx="341.44" cy="168.28"/><circle cx="429.45" cy="177.14"/><circle cx="457.6" cy="243.27"/><circle cx="315.91" cy="247.99"/><circle cx="353.39" cy="306.1"/><circle cx="430.05" cy="278.83"/><circle cx="294.36" cy="263.51"/><circle cx="227.31" cy="272.82"/><circle cx="311.29" cy="196.33"/><circle cx="463.21" cy="401.28"/><circle cx="487.93" cy="329.48"/><circle cx="567.97" cy="167.73"/><circle cx="440.35" cy="172.71"/><circle cx="397.6" cy="292.47"/><circle cx="508.3" cy="197.3"/><circle cx="404.73" cy="321.09"/><circle cx="559.83" cy="159.97"/><circle cx="313.63" cy="211.53"/><circle cx="226.23" cy="237.45"/><circle cx="351.5" cy="373.77"/><circle cx="323.85" cy="360.59"/><circle cx="483.42" cy="216.88"/><circle cx="273.69" cy="240.55"/><circle cx="390.48" cy="220.65"/><circle cx="372.83" cy="347.69"/><circle cx="409.39" cy="405.32"/><circle cx="503.84" cy="206.38"/><circle cx="372.74" cy="310.99"/><circle cx="539.94" cy="174.81"/><circle cx="465.92" cy="257.74"/><circle cx="299.58" cy="357.95"/><circle cx="442.56" cy="303.72"/><circle cx="510.37" cy="188.48"/><circle cx="483.21" cy="356.42"/><circle cx="288.23" cy="262.23"/><circle cx="303.85" cy="375.87"/><circle cx="405.64" cy="159.91"/><circle cx="282.85" cy="308.69"/><circle cx="458.13" cy="399"/><circle cx="522.17" cy="154.12"/><circle cx="246.29" cy="200.17"/><circle cx="410.39" cy="386.93"/><circle cx="341.48" cy="305.6"/><circle cx="353.08" cy="226.18"/><circle cx="424.68" cy="421.99"/><circle cx="474.85" cy="220.02"/><circle cx="446.39" cy="359.6"/><circle cx="472.8" cy="379.2"/><circle cx="499.51" cy="257.32"/><circle cx="481.16" cy="186.25"/><circle cx="230.25" cy="200.63"/><circle cx="463.18" cy="375.03"/><circle cx="509.43" cy="306.76"/><circle cx="555.61" cy="207.55"/><circle cx="314.77" cy="313.78"/><circle cx="378.21" cy="172.57"/><circle cx="293.8" cy="186.8"/><circle cx="203.19" cy="280.93"/><circle cx="548.45" cy="216.44"/><circle cx="250.35" cy="213.91"/><circle cx="197.06" cy="195.64"/><circle cx="441.91" cy="266.87"/><circle cx="321.19" cy="311.92"/><circle cx="393.81" cy="311.06"/><circle cx="373.94" cy="253.17"/><circle cx="499.93" cy="256.37"/><circle cx="490.89" cy="282.98"/><circle cx="388.11" cy="262.05"/><circle cx="520.59" cy="150.5"/><circle cx="254.25" cy="220.84"/><circle cx="450.33" cy="350.22"/><circle cx="508.21" cy="249.04"/><circle cx="276.92" cy="315.82"/><circle cx="327.86" cy="322.48"/><circle cx="498.02" cy="181.8"/><circle cx="524.52" cy="280.3"/><circle cx="425.52" cy="236.83"/><circle cx="433.69" cy="413.87"/><circle cx="329.34" cy="300.94"/><circle cx="230.39" cy="293.87"/><circle cx="389.61" cy="209.88"/><circle cx="454.05" cy="290.63"/><circle cx="296.27" cy="272.39"/><circle cx="246.51" cy="251.85"/><circle cx="362.17" cy="257.03"/><circle cx="297.21" cy="335.01"/><circle cx="199.76" cy="190.59"/><circle cx="358.37" cy="179.14"/><circle cx="429.09" cy="291.78"/><circle cx="256.81" cy="226.13"/><circle cx="366.49" cy="273.76"/><circle cx="218.77" cy="191.15"/><circle cx="313.74" cy="338.75"/><circle cx="152.57" cy="190.06"/><circle cx="204.79" cy="239.33"/><circle cx="438.66" cy="272.35"/><circle cx="463.87" cy="238.47"/><circle cx="449.22" cy="154.86"/><circle cx="414.75" cy="316.3"/><circle cx="389.42" cy="383.82"/><circle cx="426.17" cy="401.96"/><circle cx="312.63" cy="174.33"/><circle cx="300.04" cy="358.24"/><circle cx="354.29" cy="181.99"/><circle cx="455.85" cy="293.24"/><circle cx="205.06" cy="237.57"/><circle cx="308.5" cy="227.36"/><circle cx="297.77" cy="269.04"/><circle cx="244.15" cy="288.57"/><circle cx="218.14" cy="242.81"/><circle cx="368.49" cy="288.11"/><circle cx="521.4" cy="206.18"/><circle cx="424.49" cy="234.9"/><circle cx="348.94" cy="216.98"/><circle cx="378.41" cy="409.85"/><circle cx="449.12" cy="403.03"/><circle cx="147.12" cy="197.47"/><circle cx="278.96" cy="309.23"/><circle cx="335.87" cy="304.43"/><circle cx="311.62" cy="345.94"/><circle cx="166.88" cy="203.23"/><circle cx="453.93" cy="232.48"/><circle cx="447.85" cy="227.85"/><circle cx="376.78" cy="328.49"/><circle cx="265.27" cy="226.23"/><circle cx="425.5" cy="356.1"/><circle cx="392.18" cy="436.64"/><circle cx="301.44" cy="356.9"/><circle cx="197.88" cy="202.32"/><circle cx="344.86" cy="320.46"/><circle cx="348.95" cy="420.06"/><circle cx="480.26" cy="202.85"/><circle cx="476.16" cy="223.6"/><circle cx="486.08" cy="294.58"/><circle cx="348.3" cy="414.79"/><circle cx="372.22" cy="283.98"/><circle cx="408.05" cy="261.4"/><circle cx="278.69" cy="352.13"/><circle cx="406.64" cy="247.98"/><circle cx="474.2" cy="283.74"/><circle cx="456.39" cy="174.05"/><circle cx="447.2" cy="310.16"/><circle cx="544.43" cy="239.56"/><circle cx="421.65" cy="389.11"/><circle cx="367.07" cy="280.88"/><circle cx="373.08" cy="176.58"/><circle cx="373.75" cy="380.92"/><circle cx="324.74" cy="214.88"/><circle cx="232.43" cy="202.78"/><circle cx="460.95" cy="296.45"/><circle cx="517.84" cy="252.62"/><circle cx="276.49" cy="361.91"/><circle cx="427.94" cy="158.76"/><circle cx="478.99" cy="315.05"/><circle cx="455.91" cy="359.59"/><circle cx="230.08" cy="195.74"/><circle cx="468.34" cy="264.23"/><circle cx="432.09" cy="358.5"/><circle cx="510.15" cy="217.53"/><circle cx="336.43" cy="335.7"/><circle cx="355.7" cy="164.24"/><circle cx="212.67" cy="193.51"/><circle cx="350.91" cy="225.74"/><circle cx="196.4" cy="257.52"/><circle cx="207.88" cy="247.58"/><circle cx="268.34" cy="236.65"/><circle cx="383.66" cy="279.1"/><circle cx="266.62" cy="320.87"/><circle cx="385.76" cy="357.88"/><circle cx="583.04" cy="159.65"/><circle cx="461.55" cy="343.4"/><circle cx="502.12" cy="273.9"/><circle cx="382.26" cy="188.06"/><circle cx="421.11" cy="319.54"/><circle cx="230.17" cy="198.09"/><circle cx="390.31" cy="433.91"/><circle cx="281.08" cy="263.53"/><circle cx="249.62" cy="295.64"/><circle cx="320" cy="336.01"/><circle cx="341.1" cy="395.34"/><circle cx="280.53" cy="359.46"/><circle cx="462.86" cy="374.66"/><circle cx="346.25" cy="253.64"/><circle cx="374.65" cy="257.56"/><circle cx="363.12" cy="299.81"/><circle cx="375.02" cy="334.32"/><circle cx="353.73" cy="299.69"/><circle cx="318.21" cy="313.23"/><circle cx="220.63" cy="273.17"/><circle cx="317.46" cy="198.67"/><circle cx="248.43" cy="241.54"/><circle cx="287.63" cy="213.57"/><circle cx="225.04" cy="245.07"/><circle cx="273.29" cy="252.11"/><circle cx="240.52" cy="231.74"/><circle cx="323.92" cy="266.87"/><circle cx="386.71" cy="224.84"/><circle cx="280.55" cy="179.65"/><circle cx="371.72" cy="431.46"/><circle cx="297.51" cy="213.59"/><circle cx="330.71" cy="352.88"/><circle cx="343.16" cy="347.37"/><circle cx="217.3" cy="279.94"/><circle cx="266.24" cy="338.12"/><circle cx="243.84" cy="276.04"/><circle cx="290.9" cy="349.73"/><circle cx="351.27" cy="250.15"/><circle cx="301.18" cy="201.32"/><circle cx="472.08" cy="369.44"/><circle cx="401.54" cy="169.52"/><circle cx="511.49" cy="205.3"/><circle cx="181.64" cy="239.24"/><circle cx="440.16" cy="314.4"/><circle cx="524.29" cy="289.81"/><circle cx="516.33" cy="310.56"/><circle cx="391.78" cy="252.63"/><circle cx="400.16" cy="376.67"/><circle cx="318.4" cy="269.63"/><circle cx="451.37" cy="308.04"/><circle cx="278.08" cy="208.57"/><circle cx="259.35" cy="221.83"/><circle cx="450.9" cy="392.09"/><circle cx="202.91" cy="243.75"/><circle cx="370.37" cy="201.59"/><circle cx="432.23" cy="208.26"/><circle cx="313.15" cy="235.64"/><circle cx="409.29" cy="448.78"/><circle cx="370.36" cy="231.97"/><circle cx="348.62" cy="279.01"/><circle cx="250.14" cy="181.98"/><circle cx="272.18" cy="336.32"/><circle cx="460.47" cy="252.55"/><circle cx="246.99" cy="210.29"/><circle cx="465.25" cy="322.29"/><circle cx="353.24" cy="394.56"/><circle cx="461.92" cy="385.8"/><circle cx="258.33" cy="340.72"/><circle cx="428.37" cy="342.48"/><circle cx="349.89" cy="368.81"/><circle cx="383.17" cy="308.77"/><circle cx="301.16" cy="195.39"/><circle cx="373.66" cy="379.97"/><circle cx="171.53" cy="223.42"/><circle cx="286.33" cy="294.22"/><circle cx="290.46" cy="175.26"/><circle cx="367.78" cy="418.07"/><circle cx="299.95" cy="204.99"/><circle cx="437.98" cy="323.34"/><circle cx="426.9" cy="310.29"/><circle cx="319.19" cy="346.72"/><circle cx="482.13" cy="194.03"/><circle cx="302.17" cy="335.75"/><circle cx="537.13" cy="197"/><circle cx="420.44" cy="267.11"/><circle cx="189.01" cy="259.5"/><circle cx="418.5" cy="280.88"/><circle cx="437.51" cy="307.7"/><circle cx="262.12" cy="342.17"/><circle cx="446.49" cy="362.69"/><circle cx="403.75" cy="176.59"/><circle cx="218.62" cy="270.89"/><circle cx="478.72" cy="214.63"/><circle cx="328.39" cy="397.43"/><circle cx="274.63" cy="217.29"/><circle cx="485.22" cy="224.84"/><circle cx="454.33" cy="266.37"/><circle cx="291.91" cy="349.9"/><circle cx="229.25" cy="215.81"/><circle cx="353.26" cy="212.52"/><circle cx="437.56" cy="339.9"/><circle cx="371.08" cy="373.08"/><circle cx="318.41" cy="300.65"/><circle cx="331.03" cy="361.53"/><circle cx="258.5" cy="244.31"/><circle cx="427.11" cy="420.02"/><circle cx="375.32" cy="164.5"/><circle cx="272.3" cy="286.09"/><circle cx="291.41" cy="247.87"/><circle cx="292.77" cy="367.13"/><circle cx="210.24" cy="183.88"/><circle cx="506.49" cy="151.51"/><circle cx="222.61" cy="272.54"/><circle cx="452.51" cy="305.96"/><circle cx="223.16" cy="289.36"/><circle cx="339.94" cy="164.76"/><circle cx="529.13" cy="226.85"/><circle cx="505.9" cy="302.22"/><circle cx="405.71" cy="269.22"/><circle cx="300.6" cy="374.06"/><circle cx="318.14" cy="337.51"/><circle cx="298.57" cy="283.19"/><circle cx="412.23" cy="409.05"/><circle cx="428.67" cy="358.02"/><circle cx="328.51" cy="321.77"/><circle cx="431.24" cy="344.11"/><circle cx="338.79" cy="201.39"/><circle cx="256.4" cy="251.49"/><circle cx="331.59" cy="271.44"/><circle cx="405.39" cy="281.88"/><circle cx="340.07" cy="221.74"/><circle cx="428.84" cy="427.92"/><circle cx="331.14" cy="234.56"/><circle cx="403.47" cy="246.9"/><circle cx="296.24" cy="368.72"/><circle cx="337.09" cy="349.04"/><circle cx="173.28" cy="232.34"/><circle cx="390.02" cy="298.92"/><circle cx="302.99" cy="286.31"/><circle cx="231.7" cy="223.93"/><circle cx="330.28" cy="168.76"/><circle cx="392.65" cy="298.45"/><circle cx="562.6" cy="209.33"/><circle cx="252.98" cy="185.67"/><circle cx="289.28" cy="228.79"/><circle cx="304.39" cy="270.86"/><circle cx="382.07" cy="232.2"/><circle cx="322.42" cy="381.95"/><circle cx="366.67" cy="338.35"/><circle cx="487.55" cy="169.62"/><circle cx="381.66" cy="218.19"/><circle cx="543.68" cy="206.79"/><circle cx="331.96" cy="270.72"/><circle cx="274.2" cy="185.45"/><circle cx="533.04" cy="240.38"/><circle cx="430.64" cy="167.17"/><circle cx="384.38" cy="325.23"/><circle cx="531.17" cy="293.7"/><circle cx="468.74" cy="276.62"/><circle cx="501.31" cy="281.07"/><circle cx="374.89" cy="211.15"/><circle cx="326.33" cy="163.49"/><circle cx="463.79" cy="340.03"/><circle cx="182.47" cy="218.53"/><circle cx="513.74" cy="213.91"/><circle cx="301.74" cy="341.44"/><circle cx="399.13" cy="375.73"/><circle cx="508.29" cy="206.06"/><circle cx="378.33" cy="407.42"/><circle cx="324.61" cy="273.07"/><circle cx="433.53" cy="385.48"/><circle cx="383.07" cy="340.89"/><circle cx="425.73" cy="186.56"/><circle cx="494.51" cy="261.31"/><circle cx="265.24" cy="287.27"/><circle cx="429.12" cy="352.36"/><circle cx="435.58" cy="177.15"/><circle cx="400.03" cy="240.42"/><circle cx="309.68" cy="269.34"/><circle cx="228.98" cy="175.47"/><circle cx="333.94" cy="171.73"/><circle cx="284.89" cy="345.68"/><circle cx="475.93" cy="233.85"/><circle cx="393.63" cy="444.92"/><circle cx="333.92" cy="239.37"/><circle cx="253.82" cy="334.05"/><circle cx="508.76" cy="247.06"/><circle cx="383.15" cy="409.25"/><circle cx="184.45" cy="211.71"/><circle cx="252.09" cy="297.42"/><circle cx="421.65" cy="375.48"/><circle cx="459.1" cy="250.35"/><circle cx="479.64" cy="300.62"/><circle cx="444.54" cy="395.85"/><circle cx="343.24" cy="358.12"/><circle cx="457.63" cy="347.21"/><circle cx="425.66" cy="202.76"/><circle cx="513.47" cy="278.68"/><circle cx="284.69" cy="226.85"/><circle cx="234.37" cy="279.02"/><circle cx="430.51" cy="169.49"/><circle cx="244.09" cy="216.03"/><circle cx="411.16" cy="329.9"/><circle cx="360.55" cy="277.18"/><circle cx="512.53" cy="318.31"/><circle cx="352.57" cy="244.39"/><circle cx="398.94" cy="290.55"/><circle cx="534.97" cy="156.42"/><circle cx="477.56" cy="191.12"/><circle cx="322.26" cy="360.41"/><circle cx="324.99" cy="170.15"/><circle cx="319.19" cy="319.92"/><circle cx="270.18" cy="257.18"/><circle cx="401.22" cy="389.28"/><circle cx="529.99" cy="222.09"/><circle cx="430.72" cy="361.84"/><circle cx="322.88" cy="170.97"/><circle cx="327.5" cy="323.1"/><circle cx="342.78" cy="239.02"/><circle cx="476.43" cy="371.92"/><circle cx="446.15" cy="206.3"/><circle cx="505.26" cy="266.08"/><circle cx="318.3" cy="342.19"/><circle cx="354.58" cy="379.86"/><circle cx="215.69" cy="276.61"/><circle cx="425.85" cy="475.1"/><circle cx="324.96" cy="364.87"/><circle cx="358.51" cy="261.64"/><circle cx="435.18" cy="249.41"/><circle cx="553.71" cy="170.9"/><circle cx="265.62" cy="306.12"/><circle cx="188.4" cy="250.56"/><circle cx="355.27" cy="400.05"/><circle cx="383.03" cy="345.14"/><circle cx="414.1" cy="162.59"/><circle cx="290.69" cy="289.16"/><circle cx="424.75" cy="229.37"/><circle cx="277.84" cy="183.21"/><circle cx="329.19" cy="343.21"/><circle cx="375.69" cy="239.1"/><circle cx="331.39" cy="183.12"/><circle cx="532.93" cy="237.35"/><circle cx="544.48" cy="215.98"/><circle cx="355.07" cy="277.35"/><circle cx="426.52" cy="284.65"/><circle cx="343.38" cy="183.13"/><circle cx="480.85" cy="361.62"/><circle cx="259.01" cy="282.13"/><circle cx="328.34" cy="307.12"/><circle cx="312.43" cy="261.25"/><circle cx="315.98" cy="227.85"/><circle cx="289.38" cy="242.76"/><circle cx="296.82" cy="314.44"/><circle cx="386.17" cy="333.75"/><circle cx="248.33" cy="330.81"/><circle cx="331.64" cy="186.8"/><circle cx="418.42" cy="258.05"/><circle cx="369.71" cy="198.59"/><circle cx="366.98" cy="176.38"/><circle cx="455.83" cy="238.6"/><circle cx="322.38" cy="193.56"/><circle cx="406.19" cy="375.45"/><circle cx="368.36" cy="166.4"/><circle cx="461.16" cy="281.38"/><circle cx="546.4" cy="201.62"/><circle cx="254.04" cy="306.5"/><circle cx="431.94" cy="219.62"/><circle cx="402.88" cy="258.09"/><circle cx="303.25" cy="187.05"/><circle cx="411.84" cy="213.78"/><circle cx="479.28" cy="279.09"/><circle cx="350.57" cy="216.61"/><circle cx="209.6" cy="217.16"/><circle cx="488.71" cy="277.84"/><circle cx="438.04" cy="194.2"/><circle cx="525.2" cy="278.61"/><circle cx="201.26" cy="248.97"/><circle cx="432.97" cy="347.5"/><circle cx="290.24" cy="208.95"/><circle cx="344.19" cy="223.89"/><circle cx="449.43" cy="377.71"/><circle cx="355.08" cy="404.67"/><circle cx="395.41" cy="356.91"/><circle cx="379.24" cy="243.65"/><circle cx="429.28" cy="303.6"/><circle cx="336.71" cy="240.15"/><circle cx="463.86" cy="355.33"/><circle cx="308.48" cy="294.41"/><circle cx="247.57" cy="191.58"/><circle cx="309.02" cy="390.05"/><circle cx="513.61" cy="204.03"/><circle cx="467.54" cy="179.94"/><circle cx="446.1" cy="212.98"/><circle cx="350.38" cy="375.49"/><circle cx="521.97" cy="288.87"/><circle cx="319.06" cy="357.48"/><circle cx="560.52" cy="217.69"/><circle cx="389.15" cy="350.63"/><circle cx="487.02" cy="159.64"/><circle cx="351.27" cy="340.54"/><circle cx="436.09" cy="306.43"/><circle cx="413.06" cy="291.12"/><circle cx="247.49" cy="317.73"/><circle cx="468.11" cy="241.45"/><circle cx="280.01" cy="333.7"/><circle cx="248.01" cy="254.77"/><circle cx="156.96" cy="192.1"/><circle cx="536.86" cy="243.21"/><circle cx="404.3" cy="267.22"/><circle cx="326.16" cy="294.79"/><circle cx="520.71" cy="180.73"/><circle cx="382.78" cy="329.94"/><circle cx="276.31" cy="329.52"/><circle cx="470.24" cy="365.47"/><circle cx="324.86" cy="220.6"/><circle cx="413.54" cy="218.2"/><circle cx="396.92" cy="354.24"/><circle cx="144.03" cy="194.47"/><circle cx="243.04" cy="301.77"/><circle cx="425.07" cy="452.08"/><circle cx="460" cy="302.4"/><circle cx="481.77" cy="369.08"/><circle cx="321.19" cy="385.1"/><circle cx="267.05" cy="199.27"/><circle cx="332.01" cy="383.6"/><circle cx="323.77" cy="335.17"/><circle cx="281.78" cy="191.62"/><circle cx="451.8" cy="251.37"/><circle cx="378.05" cy="211.36"/><circle cx="331.46" cy="276.43"/><circle cx="521.38" cy="165.43"/><circle cx="255.72" cy="326.22"/><circle cx="408.63" cy="279.99"/><circle cx="403.56" cy="240.82"/><circle cx="380.12" cy="179.22"/><circle cx="344.52" cy="259.73"/><circle cx="414.34" cy="378.98"/><circle cx="267.48" cy="191.55"/><circle cx="554.62" cy="208.74"/><circle cx="280.68" cy="343.19"/><circle cx="237.1" cy="177.64"/><circle cx="365.64" cy="181.44"/><circle cx="508.19" cy="277.65"/><circle cx="236.41" cy="308.4"/><circle cx="370.55" cy="360.81"/><circle cx="424.51" cy="440.23"/><circle cx="499.12" cy="299.46"/><circle cx="569.51" cy="155.66"/><circle cx="359.74" cy="308.62"/><circle cx="559.2" cy="204.66"/><circle cx="311.18" cy="311.7"/><circle cx="401.83" cy="252.67"/><circle cx="358.39" cy="361.04"/><circle cx="337.62" cy="214.32"/><circle cx="482.51" cy="186.55"/><circle cx="443.97" cy="389.34"/><circle cx="427.28" cy="220.42"/><circle cx="514.31" cy="252.28"/><circle cx="450.22" cy="187.02"/><circle cx="425.44" cy="257.96"/><circle cx="479.18" cy="337.99"/><circle cx="406.18" cy="334.74"/><circle cx="473.29" cy="285.04"/><circle cx="405.54" cy="265.77"/><circle cx="289.13" cy="254.6"/><circle cx="460.61" cy="376.9"/><circle cx="452.03" cy="294.02"/><circle cx="273.96" cy="288.61"/><circle cx="416.5" cy="163.14"/><circle cx="338.92" cy="310.76"/><circle cx="408.58" cy="260.52"/><circle cx="478.47" cy="164.43"/><circle cx="261.83" cy="222.19"/><circle cx="459.35" cy="378.95"/><circle cx="301.21" cy="362.64"/><circle cx="322.85" cy="284.12"/><circle cx="482.87" cy="264.55"/><circle cx="297.95" cy="243.62"/><circle cx="324.19" cy="293.71"/><circle cx="456.25" cy="175.88"/><circle cx="281.53" cy="300.18"/><circle cx="310.05" cy="279.99"/><circle cx="419.07" cy="428.57"/><circle cx="361.52" cy="224.43"/><circle cx="475.08" cy="318.36"/><circle cx="492.67" cy="271.62"/><circle cx="440.05" cy="221.46"/><circle cx="577.3" cy="165.22"/><circle cx="418.06" cy="389.86"/><circle cx="371.68" cy="219.33"/><circle cx="453.42" cy="427.11"/><circle cx="361.6" cy="252.06"/><circle cx="220.73" cy="249.04"/><circle cx="368.71" cy="368.42"/><circle cx="458.57" cy="189.92"/><circle cx="279.75" cy="239.7"/><circle cx="433.33" cy="288.83"/><circle cx="403.77" cy="349.28"/><circle cx="281.97" cy="233.43"/><circle cx="403.5" cy="176.98"/><circle cx="323.1" cy="236.16"/><circle cx="241.85" cy="248.53"/><circle cx="203.27" cy="281.96"/><circle cx="550.31" cy="167.57"/><circle cx="401.54" cy="303.7"/><circle cx="393.07" cy="231.97"/><circle cx="400.99" cy="347.47"/><circle cx="317.76" cy="328.52"/><circle cx="317.31" cy="350.45"/><circle cx="291.17" cy="210.94"/><circle cx="410.75" cy="234.66"/><circle cx="503.11" cy="296.42"/><circle cx="305.85" cy="343.79"/><circle cx="296.02" cy="307.25"/><circle cx="434.12" cy="180.98"/><circle cx="364.21" cy="353.75"/><circle cx="307.12" cy="179.24"/><circle cx="368.66" cy="277.44"/><circle cx="416.38" cy="359.76"/><circle cx="313.99" cy="269.02"/><circle cx="494.81" cy="219.03"/><circle cx="369.91" cy="408.26"/><circle cx="360.31" cy="392.8"/><circle cx="417.63" cy="234.59"/><circle cx="335.47" cy="403.64"/><circle cx="496.74" cy="277.48"/><circle cx="301.26" cy="331.17"/><circle cx="394.81" cy="288.5"/><circle cx="335.84" cy="214.7"/><circle cx="222.98" cy="211.56"/><circle cx="329.61" cy="327.37"/><circle cx="366.05" cy="231.23"/><circle cx="429.39" cy="445.53"/><circle cx="475.17" cy="359.37"/><circle cx="261.68" cy="294.39"/><circle cx="438.97" cy="226.24"/><circle cx="324.83" cy="168.76"/><circle cx="484.46" cy="284.89"/><circle cx="273.41" cy="276.99"/><circle cx="263.48" cy="226.52"/><circle cx="240.12" cy="267.76"/><circle cx="290.9" cy="363.12"/><circle cx="280.75" cy="185.94"/><circle cx="509.66" cy="228.41"/><circle cx="548.72" cy="215.7"/><circle cx="459.02" cy="179.04"/><circle cx="284.78" cy="277.79"/><circle cx="357.69" cy="309.17"/><circle cx="415.17" cy="378.23"/><circle cx="391.13" cy="437.24"/><circle cx="404.38" cy="282.42"/><circle cx="405.3" cy="360.52"/><circle cx="366.88" cy="269.79"/><circle cx="322.34" cy="200.57"/><circle cx="455.33" cy="377.72"/><circle cx="334.34" cy="395.46"/><circle cx="196.28" cy="213.68"/><circle cx="530.5" cy="302.64"/><circle cx="217.14" cy="253.83"/><circle cx="339.7" cy="309.29"/><circle cx="447.15" cy="191.87"/><circle cx="414.02" cy="275.25"/><circle cx="292.25" cy="322.05"/><circle cx="321.34" cy="187.78"/><circle cx="170.12" cy="231.62"/><circle cx="351.23" cy="280.69"/><circle cx="469.38" cy="397.81"/><circle cx="492.59" cy="241.07"/><circle cx="361.48" cy="261.11"/><circle cx="244.9" cy="224.93"/><circle cx="253.75" cy="232.31"/><circle cx="454.4" cy="155.45"/><circle cx="401.58" cy="389.23"/><circle cx="389.2" cy="405.15"/><circle cx="323.98" cy="169.9"/><circle cx="255.62" cy="224.98"/><circle cx="425.52" cy="456.69"/><circle cx="318.33" cy="328.68"/><circle cx="217.34" cy="286.05"/><circle cx="390.37" cy="255.13"/><circle cx="321.13" cy="345.43"/><circle cx="361.79" cy="322.55"/><circle cx="451.82" cy="162.35"/><circle cx="538.79" cy="267.85"/><circle cx="357.57" cy="323.17"/><circle cx="269.84" cy="267.11"/><circle cx="399.51" cy="296.93"/><circle cx="427.73" cy="360.14"/><circle cx="372.51" cy="313.88"/><circle cx="349.46" cy="257.58"/><circle cx="328.38" cy="272.26"/><circle cx="257.79" cy="231.66"/><circle cx="489.76" cy="248.59"/><circle cx="455.74" cy="199.6"/><circle cx="491.19" cy="236.25"/><circle cx="338.05" cy="291.46"/><circle cx="294.09" cy="321.95"/><circle cx="407.5" cy="339.87"/><circle cx="578.35" cy="150.81"/><circle cx="290.03" cy="214.97"/><circle cx="272.35" cy="351.59"/><circle cx="322.47" cy="171.71"/><circle cx="346.3" cy="309.69"/><circle cx="461.48" cy="193.43"/><circle cx="251.82" cy="223.68"/><circle cx="473.36" cy="284.77"/><circle cx="306.6" cy="191.11"/><circle cx="386.16" cy="256.83"/><circle cx="298.65" cy="235.43"/><circle cx="360.64" cy="221.94"/><circle cx="293.82" cy="247.15"/><circle cx="325.66" cy="345.57"/><circle cx="421.39" cy="153.72"/><circle cx="340.2" cy="261.59"/><circle cx="498.81" cy="311.04"/><circle cx="357.04" cy="286.76"/><circle cx="345.61" cy="194.66"/><circle cx="452.32" cy="197.82"/><circle cx="386.27" cy="302.62"/><circle cx="311.14" cy="384.83"/><circle cx="428.56" cy="245.99"/><circle cx="392.68" cy="413.87"/><circle cx="294.55" cy="314.67"/><circle cx="430.45" cy="261.88"/><circle cx="464.6" cy="309.64"/><circle cx="228.6" cy="208.45"/><circle cx="203.49" cy="270.05"/><circle cx="299.34" cy="230.41"/><circle cx="340.41" cy="227.08"/><circle cx="412.16" cy="204.91"/><circle cx="291.95" cy="345.28"/><circle cx="384.02" cy="181.57"/><circle cx="219.32" cy="190.27"/><circle cx="274.36" cy="333.78"/><circle cx="531.42" cy="173.82"/><circle cx="291.96" cy="319.64"/><circle cx="425.14" cy="177.34"/><circle cx="425.5" cy="242.71"/><circle cx="239.47" cy="261.28"/><circle cx="468.68" cy="314.49"/><circle cx="459.87" cy="227.24"/><circle cx="412.23" cy="169.51"/><circle cx="461.67" cy="390.29"/><circle cx="552.14" cy="233.66"/><circle cx="320.91" cy="183.85"/><circle cx="439.1" cy="192.01"/><circle cx="437.95" cy="434.96"/><circle cx="545.4" cy="248.82"/><circle cx="348.65" cy="401.75"/><circle cx="317.02" cy="285.13"/><circle cx="430.36" cy="311.66"/><circle cx="176.57" cy="228.23"/><circle cx="343.93" cy="349.3"/><circle cx="242.21" cy="224.79"/><circle cx="250.2" cy="329.63"/><circle cx="332.34" cy="286.94"/><circle cx="402.95" cy="352.86"/><circle cx="422.81" cy="224.95"/><circle cx="243.8" cy="211.68"/><circle cx="288.72" cy="285.82"/><circle cx="533.79" cy="276.02"/><circle cx="246.09" cy="178.16"/><circle cx="444.87" cy="215.28"/><circle cx="304.36" cy="290.2"/><circle cx="337.46" cy="383.24"/><circle cx="435.21" cy="160.44"/><circle cx="440.91" cy="292.89"/><circle cx="395.67" cy="337.04"/><circle cx="399.82" cy="407.75"/><circle cx="300.45" cy="302.23"/><circle cx="346.13" cy="217.47"/><circle cx="430.66" cy="368.66"/><circle cx="223.69" cy="204.1"/><circle cx="470.92" cy="180.92"/><circle cx="381.48" cy="363.54"/><circle cx="510.78" cy="257.95"/><circle cx="532.35" cy="153.67"/><circle cx="493.25" cy="205.78"/><circle cx="476.74" cy="262.85"/><circle cx="265.13" cy="315.33"/><circle cx="524.26" cy="183.4"/><circle cx="424.84" cy="246.78"/><circle cx="197.83" cy="219.32"/><circle cx="238.21" cy="309.52"/><circle cx="398.89" cy="372.02"/><circle cx="431.39" cy="215.53"/><circle cx="477.46" cy="196.6"/><circle cx="370.63" cy="166.83"/><circle cx="233" cy="244.23"/><circle cx="423.3" cy="328.03"/><circle cx="452.29" cy="326.43"/><circle cx="447.03" cy="258.22"/><circle cx="364.35" cy="262.69"/><circle cx="326.85" cy="254.52"/><circle cx="177.08" cy="187.35"/><circle cx="390.26" cy="219.61"/><circle cx="469.35" cy="158.87"/><circle cx="386.16" cy="277.29"/><circle cx="279.31" cy="313.42"/><circle cx="487.18" cy="333.28"/><circle cx="415.96" cy="250.9"/><circle cx="485.16" cy="276.59"/><circle cx="248.26" cy="325.41"/><circle cx="347.28" cy="412.87"/><circle cx="406.55" cy="181.06"/><circle cx="431.71" cy="316.99"/><circle cx="292.33" cy="373.22"/><circle cx="539.57" cy="269.42"/><circle cx="413.66" cy="455.58"/><circle cx="511.39" cy="260.34"/><circle cx="414.29" cy="283.61"/><circle cx="254.66" cy="207.52"/><circle cx="525.86" cy="180.63"/><circle cx="500.25" cy="298.31"/><circle cx="439.95" cy="218.05"/><circle cx="428.22" cy="364.66"/><circle cx="565.1" cy="183.32"/><circle cx="348.35" cy="213.27"/><circle cx="414.68" cy="295.16"/><circle cx="261.04" cy="185.31"/><circle cx="407.83" cy="260.8"/><circle cx="332.58" cy="387.76"/><circle cx="256.99" cy="185.24"/><circle cx="224.87" cy="255.39"/><circle cx="292.19" cy="168.92"/><circle cx="394.97" cy="230.96"/><circle cx="223.85" cy="211.28"/><circle cx="187.85" cy="198.71"/><circle cx="467.99" cy="237.94"/><circle cx="310.62" cy="167.25"/><circle cx="473.53" cy="228.73"/><circle cx="509.5" cy="282.04"/><circle cx="324.72" cy="243.55"/><circle cx="296.27" cy="170.22"/><circle cx="287.41" cy="352.92"/><circle cx="266.17" cy="330.79"/><circle cx="422.77" cy="188.77"/><circle cx="426.92" cy="307.8"/><circle cx="456.18" cy="253.39"/><circle cx="481.57" cy="219.56"/><circle cx="365.72" cy="172.24"/><circle cx="406.06" cy="357.96"/><circle cx="432.18" cy="336.39"/><circle cx="257.62" cy="274.55"/><circle cx="443.83" cy="305.76"/><circle cx="415.77" cy="287.49"/><circle cx="360.76" cy="428.57"/><circle cx="378.86" cy="366.09"/><circle cx="214.68" cy="277.43"/><circle cx="358.82" cy="347.98"/><circle cx="356.43" cy="266.72"/><circle cx="292.75" cy="294.85"/><circle cx="350.94" cy="200.93"/><circle cx="544.57" cy="154.85"/><circle cx="332.28" cy="266.01"/><circle cx="318.37" cy="326.74"/><circle cx="250.95" cy="296.59"/><circle cx="435.64" cy="279.19"/><circle cx="377.82" cy="413.83"/><circle cx="339.11" cy="279.06"/><circle cx="318.9" cy="164.72"/><circle cx="514.18" cy="198.83"/><circle cx="288.23" cy="286.94"/><circle cx="409.76" cy="262.15"/><circle cx="364.36" cy="363.89"/><circle cx="293.95" cy="342.21"/><circle cx="434.3" cy="420.34"/><circle cx="370.92" cy="419.32"/><circle cx="290.83" cy="281.46"/><circle cx="349.89" cy="176.67"/><circle cx="228.8" cy="305.32"/><circle cx="451.37" cy="359.7"/><circle cx="323.9" cy="209.95"/><circle cx="357.18" cy="361.52"/><circle cx="260.52" cy="203.53"/><circle cx="244.9" cy="322.78"/><circle cx="333.37" cy="402.22"/><circle cx="333.65" cy="338.59"/><circle cx="205.69" cy="278.47"/><circle cx="245.6" cy="240.92"/><circle cx="266.01" cy="219.35"/><circle cx="441.56" cy="262.94"/><circle cx="408.66" cy="460.47"/><circle cx="530.46" cy="289.09"/><circle cx="332.86" cy="384.17"/><circle cx="396.87" cy="191"/><circle cx="307.68" cy="349.18"/><circle cx="406.31" cy="285.67"/><circle cx="425.67" cy="260.75"/><circle cx="410.75" cy="199.05"/><circle cx="446.01" cy="293.16"/><circle cx="322.97" cy="290.55"/><circle cx="451.96" cy="175.17"/><circle cx="375.89" cy="406.74"/><circle cx="312.41" cy="168.69"/><circle cx="443.41" cy="319.02"/><circle cx="321.79" cy="272.86"/><circle cx="326.04" cy="315.78"/><circle cx="540.59" cy="270.72"/><circle cx="281.46" cy="214.27"/><circle cx="329.22" cy="224.63"/><circle cx="299.39" cy="316.83"/><circle cx="569.03" cy="182.02"/><circle cx="413.58" cy="155.7"/><circle cx="375.69" cy="426.38"/><circle cx="449.49" cy="155.92"/><circle cx="280.72" cy="244.2"/><circle cx="385.34" cy="361.44"/><circle cx="369.54" cy="176.46"/><circle cx="207.68" cy="205.16"/><circle cx="361.14" cy="236.66"/><circle cx="461.37" cy="187.15"/><circle cx="404.29" cy="365.18"/><circle cx="400.24" cy="244.07"/><circle cx="336.18" cy="210.49"/><circle cx="426.18" cy="316.21"/><circle cx="340.94" cy="341.74"/><circle cx="312.19" cy="391.49"/><circle cx="344.04" cy="227.86"/><circle cx="192.89" cy="225.57"/><circle cx="389.78" cy="256.14"/><circle cx="259.62" cy="270.25"/><circle cx="369.3" cy="409.77"/><circle cx="442.98" cy="357.59"/><circle cx="409.35" cy="348.54"/><circle cx="260.94" cy="202.23"/><circle cx="397.76" cy="245.25"/><circle cx="417.08" cy="311.3"/><circle cx="381.8" cy="322.83"/><circle cx="408.19" cy="399.11"/><circle cx="272.29" cy="316.38"/><circle cx="257.66" cy="332.69"/><circle cx="396.69" cy="333.69"/><circle cx="383.45" cy="318.52"/><circle cx="273.78" cy="326.81"/><circle cx="472.67" cy="367.39"/><circle cx="438.19" cy="177.99"/><circle cx="372.17" cy="327.97"/><circle cx="507.85" cy="332.95"/><circle cx="385.23" cy="277.8"/><circle cx="476.97" cy="360.26"/><circle cx="461.9" cy="245.14"/><circle cx="530.76" cy="222.92"/><circle cx="255.99" cy="293"/><circle cx="551.74" cy="201.46"/><circle cx="418.36" cy="218.57"/><circle cx="319.2" cy="284.23"/><circle cx="299.32" cy="273.92"/><circle cx="226.78" cy="299.7"/><circle cx="256.83" cy="183.29"/><circle cx="398.51" cy="208.95"/><circle cx="312.4" cy="334.03"/><circle cx="308.03" cy="228.4"/><circle cx="281.95" cy="284.7"/><circle cx="260.4" cy="309.73"/><circle cx="432.16" cy="294.81"/><circle cx="459.54" cy="177.27"/><circle cx="269.51" cy="207.04"/><circle cx="354.23" cy="384.84"/><circle cx="431.63" cy="161.18"/><circle cx="402.33" cy="415.15"/><circle cx="256.79" cy="207.84"/><circle cx="226.25" cy="285.65"/><circle cx="329.28" cy="315.26"/><circle cx="449.48" cy="246.46"/><circle cx="383.06" cy="188.49"/><circle cx="440.81" cy="398.7"/><circle cx="393.93" cy="195.8"/><circle cx="392.85" cy="434.24"/><circle cx="289.14" cy="218.72"/><circle cx="410.81" cy="183.97"/><circle cx="263.61" cy="195.65"/><circle cx="249.15" cy="280.67"/><circle cx="363.61" cy="179.69"/><circle cx="260.36" cy="241.2"/><circle cx="312.76" cy="294.65"/><circle cx="432.5" cy="306.15"/><circle cx="519.28" cy="304.22"/><circle cx="465.66" cy="205.88"/><circle cx="376.24" cy="171.37"/><circle cx="335.88" cy="255.66"/><circle cx="518.35" cy="270.39"/><circle cx="477.86" cy="365.82"/><circle cx="308.94" cy="320.17"/><circle cx="382.8" cy="164.94"/><circle cx="510.68" cy="251.05"/><circle cx="433.04" cy="352.68"/><circle cx="229.34" cy="290.48"/><circle cx="556.16" cy="151.86"/><circle cx="435.16" cy="331.97"/><circle cx="156.44" cy="190.96"/><circle cx="450.14" cy="419.05"/><circle cx="269.95" cy="323.13"/><circle cx="402.37" cy="338.98"/><circle cx="423.32" cy="179.16"/><circle cx="437.68" cy="221.23"/><circle cx="420.39" cy="343.33"/><circle cx="294.01" cy="269.11"/><circle cx="509.07" cy="259.94"/><circle cx="368.08" cy="307.87"/><circle cx="306.31" cy="323.34"/><circle cx="442.77" cy="293.55"/><circle cx="398.09" cy="251.75"/><circle cx="277.82" cy="325.02"/><circle cx="542.34" cy="253.13"/><circle cx="234.21" cy="288.28"/><circle cx="446.33" cy="415.32"/><circle cx="483.19" cy="272.2"/><circle cx="409.94" cy="452.74"/><circle cx="375.5" cy="334.39"/><circle cx="191.68" cy="217.55"/><circle cx="466.39" cy="348.81"/><circle cx="463.86" cy="225.04"/><circle cx="375.54" cy="214.18"/><circle cx="390.56" cy="290.93"/><circle cx="453.45" cy="417.43"/><circle cx="410.77" cy="343.07"/><circle cx="465.28" cy="366.03"/><circle cx="301.12" cy="235.17"/><circle cx="360.9" cy="275.87"/><circle cx="387.19" cy="391.98"/><circle cx="405.34" cy="246.61"/><circle cx="308.55" cy="348.92"/><circle cx="266.61" cy="285.84"/><circle cx="371.07" cy="245.08"/><circle cx="345.09" cy="202.33"/><circle cx="350.91" cy="296.25"/><circle cx="356.03" cy="237.53"/><circle cx="251.11" cy="233.07"/><circle cx="396.68" cy="334.42"/><circle cx="459.93" cy="227.34"/><circle cx="489.02" cy="236.34"/><circle cx="237.79" cy="235.65"/><circle cx="257.04" cy="213.48"/><circle cx="395.38" cy="379.08"/><circle cx="369.83" cy="412.88"/><circle cx="366.06" cy="398.67"/><circle cx="311.08" cy="314.62"/><circle cx="327.49" cy="261.41"/><circle cx="484.29" cy="275.85"/><circle cx="311.82" cy="333.9"/><circle cx="231.51" cy="296.28"/><circle cx="496.11" cy="206.22"/><circle cx="432.65" cy="291.36"/><circle cx="210.87" cy="255.99"/><circle cx="236.86" cy="318.78"/><circle cx="349.29" cy="190.25"/><circle cx="487.47" cy="170.99"/><circle cx="333.09" cy="258.38"/><circle cx="260.52" cy="257.9"/><circle cx="306.53" cy="225.4"/><circle cx="236.27" cy="297.61"/><circle cx="372.59" cy="344.77"/><circle cx="485.87" cy="214.95"/><circle cx="303.94" cy="299.33"/><circle cx="345.47" cy="265.74"/><circle cx="433.11" cy="302.56"/><circle cx="301.77" cy="317.9"/><circle cx="460.6" cy="383.56"/><circle cx="461.91" cy="302.1"/><circle cx="269.5" cy="340.88"/><circle cx="388.83" cy="300.71"/><circle cx="284.21" cy="169.18"/><circle cx="297.48" cy="291.5"/><circle cx="397.5" cy="271.16"/><circle cx="455.22" cy="224.56"/><circle cx="324.4" cy="278.44"/><circle cx="244.08" cy="257.98"/><circle cx="363.21" cy="361.6"/><circle cx="189.32" cy="201.99"/><circle cx="358.85" cy="198.65"/><circle cx="345.45" cy="381.09"/><circle cx="358.14" cy="258.75"/><circle cx="359.99" cy="376.62"/><circle cx="472.28" cy="202.23"/><circle cx="298.77" cy="300.91"/><circle cx="409.28" cy="407.5"/><circle cx="349.71" cy="224.22"/><circle cx="295.07" cy="300.43"/><circle cx="252.9" cy="331.56"/><circle cx="254.81" cy="211.23"/><circle cx="281.97" cy="330.59"/><circle cx="297.19" cy="207.7"/><circle cx="499.86" cy="312.2"/><circle cx="267.83" cy="322.54"/><circle cx="280.18" cy="243.56"/><circle cx="312.07" cy="348.32"/><circle cx="235.66" cy="318.7"/><circle cx="384.56" cy="334.24"/><circle cx="441.8" cy="355.16"/><circle cx="372.32" cy="351.44"/><circle cx="390.09" cy="255.01"/><circle cx="288.09" cy="225.85"/><circle cx="390.07" cy="332.11"/><circle cx="324.86" cy="240.94"/><circle cx="371.36" cy="295.68"/><circle cx="193.22" cy="246.59"/><circle cx="522.83" cy="273.75"/><circle cx="383.98" cy="374.31"/><circle cx="262.61" cy="277.03"/><circle cx="284.65" cy="313.25"/><circle cx="543.06" cy="223.41"/><circle cx="463.71" cy="189.03"/><circle cx="431.31" cy="370.84"/><circle cx="384.94" cy="324.66"/><circle cx="395.35" cy="236.58"/><circle cx="368.11" cy="176.7"/><circle cx="379.23" cy="318.98"/><circle cx="182.67" cy="191.29"/><circle cx="365.83" cy="199.28"/><circle cx="304.7" cy="206.63"/><circle cx="544.46" cy="168.45"/><circle cx="313.62" cy="330.86"/><circle cx="263.1" cy="254.32"/><circle cx="225.5" cy="259.83"/><circle cx="336.32" cy="201.56"/><circle cx="332.9" cy="268.66"/><circle cx="324.27" cy="217.04"/><circle cx="498.43" cy="266.13"/><circle cx="346.37" cy="252.17"/><circle cx="280.43" cy="239.65"/><circle cx="478.61" cy="215.21"/><circle cx="315.64" cy="187.46"/><circle cx="497.36" cy="221.03"/><circle cx="549.68" cy="212.31"/><circle cx="358.89" cy="332.6"/><circle cx="334.69" cy="312.19"/><circle cx="306.29" cy="222.86"/><circle cx="412.24" cy="251.59"/><circle cx="207.84" cy="277.41"/><circle cx="307.48" cy="320.34"/><circle cx="484.02" cy="321.06"/><circle cx="240.76" cy="187.52"/><circle cx="295.23" cy="322.58"/><circle cx="328.61" cy="208.24"/><circle cx="416.58" cy="331.81"/><circle cx="192.83" cy="196.11"/><circle cx="549.26" cy="177.39"/><circle cx="288.89" cy="298.62"/><circle cx="352.16" cy="382.54"/><circle cx="399.42" cy="385.83"/><circle cx="293.06" cy="326.9"/><circle cx="509.49" cy="207.9"/><circle cx="432.48" cy="274.98"/><circle cx="264.79" cy="219.08"/><circle cx="482.17" cy="169.87"/><circle cx="295.83" cy="228.36"/><circle cx="297.55" cy="354.46"/><circle cx="344.79" cy="287.17"/><circle cx="393.24" cy="401.44"/><circle cx="468.88" cy="203.7"/><circle cx="242.23" cy="241.4"/><circle cx="411.41" cy="223.75"/><circle cx="435.3" cy="323.4"/><circle cx="359.94" cy="162.7"/><circle cx="496.33" cy="276.1"/><circle cx="436.66" cy="196.26"/><circle cx="460.68" cy="247.02"/><circle cx="284.39" cy="283.04"/><circle cx="389.57" cy="213.41"/><circle cx="395.5" cy="297.32"/><circle cx="382.9" cy="293.08"/><circle cx="412.47" cy="171.3"/><circle cx="445.44" cy="304.07"/><circle cx="563.89" cy="214.49"/><circle cx="501.42" cy="180.46"/><circle cx="372.96" cy="424.93"/><circle cx="330.64" cy="249.96"/><circle cx="361.12" cy="229.92"/><circle cx="512.45" cy="312.77"/><circle cx="339.45" cy="382.99"/><circle cx="306.88" cy="176.94"/><circle cx="289.8" cy="237.36"/><circle cx="379.91" cy="285.73"/><circle cx="231.18" cy="224.27"/><circle cx="262.2" cy="330.1"/><circle cx="332.46" cy="405.58"/><circle cx="188.02" cy="232.29"/><circle cx="151.4" cy="202.03"/><circle cx="283.42" cy="184.03"/><circle cx="224.69" cy="235.71"/><circle cx="300.03" cy="247.43"/><circle cx="418" cy="364.85"/><circle cx="266.84" cy="220.35"/><circle cx="445.01" cy="276.88"/><circle cx="184.98" cy="230.58"/><circle cx="422.44" cy="194.46"/><circle cx="172.54" cy="184.19"/><circle cx="332.41" cy="325.62"/><circle cx="356.57" cy="384.28"/><circle cx="341.62" cy="203.33"/><circle cx="297.75" cy="280.95"/><circle cx="427.96" cy="407.19"/><circle cx="395.78" cy="213.15"/><circle cx="441.87" cy="152.15"/><circle cx="363.15" cy="196.71"/><circle cx="334.79" cy="212.27"/><circle cx="372.9" cy="352.33"/><circle cx="532.78" cy="269.51"/><circle cx="365.03" cy="412.53"/><circle cx="407.69" cy="437.55"/><circle cx="359.68" cy="258.24"/><circle cx="419.36" cy="275.26"/><circle cx="484.91" cy="247.2"/><circle cx="388.02" cy="385.02"/><circle cx="505.67" cy="187.42"/><circle cx="445.55" cy="344.43"/><circle cx="208.89" cy="205.87"/><circle cx="429.35" cy="199.4"/><circle cx="219.88" cy="194.82"/><circle cx="463.25" cy="231.8"/><circle cx="284.51" cy="314.87"/><circle cx="157.77" cy="208.51"/><circle cx="328.72" cy="337.32"/><circle cx="388.85" cy="217.71"/><circle cx="335.42" cy="395.45"/><circle cx="262.88" cy="176.47"/><circle cx="344.63" cy="256.45"/><circle cx="421.03" cy="407.19"/><circle cx="445.98" cy="292.85"/><circle cx="418.36" cy="232.88"/><circle cx="358.73" cy="412.67"/><circle cx="539.84" cy="154.72"/><circle cx="314.37" cy="394.04"/><circle cx="368.65" cy="372.03"/><circle cx="474.93" cy="226.29"/><circle cx="219.24" cy="292.48"/><circle cx="364.07" cy="244.72"/><circle cx="462.11" cy="300.42"/><circle cx="416.6" cy="323.62"/><circle cx="471.3" cy="360.49"/><circle cx="452.68" cy="235.94"/><circle cx="400.57" cy="220.12"/><circle cx="463.16" cy="408.26"/><circle cx="271.74" cy="214.64"/><circle cx="281.79" cy="235.88"/><circle cx="417.66" cy="265.04"/><circle cx="368.15" cy="322.91"/><circle cx="351.03" cy="267.78"/><circle cx="305.69" cy="353.93"/><circle cx="207.98" cy="219.92"/><circle cx="370.98" cy="404.73"/><circle cx="309.48" cy="339.21"/><circle cx="398.9" cy="206.13"/><circle cx="396.06" cy="374.46"/><circle cx="447.45" cy="228.08"/><circle cx="299.25" cy="185.52"/><circle cx="370.25" cy="260.39"/><circle cx="254.15" cy="315.09"/><circle cx="455.52" cy="362.29"/><circle cx="386.44" cy="250.3"/><circle cx="380.96" cy="331.58"/><circle cx="375.55" cy="294.23"/><circle cx="488.25" cy="162.48"/><circle cx="410.78" cy="196.78"/><circle cx="275.8" cy="288.29"/><circle cx="309.17" cy="187.23"/><circle cx="381.73" cy="292.96"/><circle cx="383.49" cy="400.84"/><circle cx="187.22" cy="215.58"/><circle cx="376.53" cy="210.01"/><circle cx="496.25" cy="166.98"/><circle cx="349.33" cy="366.18"/><circle cx="268.19" cy="212.91"/><circle cx="291.82" cy="356.61"/><circle cx="358.09" cy="380.45"/><circle cx="266.65" cy="257.77"/><circle cx="468.64" cy="241.07"/><circle cx="216.82" cy="190.57"/><circle cx="501.32" cy="266.66"/><circle cx="514.49" cy="202.51"/><circle cx="357.54" cy="354.38"/><circle cx="549.69" cy="225.76"/><circle cx="346.93" cy="205.2"/><circle cx="378.2" cy="323.9"/><circle cx="389.75" cy="333.29"/><circle cx="354.05" cy="399.46"/><circle cx="534.57" cy="160.48"/><circle cx="365.54" cy="372.83"/><circle cx="482.01" cy="279.49"/><circle cx="391.82" cy="215.83"/><circle cx="349.7" cy="396.17"/><circle cx="311.03" cy="322.05"/><circle cx="290.67" cy="367.56"/><circle cx="488.23" cy="336.9"/><circle cx="384.03" cy="371.03"/><circle cx="456.1" cy="201.01"/><circle cx="200.58" cy="199.84"/><circle cx="247.57" cy="272.18"/><circle cx="445.24" cy="367.2"/><circle cx="311.26" cy="225.97"/><circle cx="366.89" cy="216.34"/><circle cx="223.29" cy="248.68"/><circle cx="281.19" cy="309.85"/><circle cx="363.87" cy="283.62"/><circle cx="295.09" cy="311.9"/><circle cx="346.53" cy="328.69"/><circle cx="240.57" cy="282.77"/><circle cx="539.66" cy="189.6"/><circle cx="328.3" cy="183.35"/><circle cx="348.02" cy="171.11"/><circle cx="388.07" cy="219.12"/><circle cx="327.53" cy="263.48"/><circle cx="268.41" cy="240.71"/><circle cx="463.32" cy="226.9"/><circle cx="456.08" cy="155.01"/><circle cx="260.56" cy="208.22"/><circle cx="253.3" cy="288.48"/><circle cx="408.48" cy="182.47"/><circle cx="318.68" cy="348.64"/><circle cx="294.95" cy="278.25"/><circle cx="345.62" cy="389.13"/><circle cx="233.25" cy="299.44"/><circle cx="401.02" cy="189.7"/><circle cx="302.09" cy="333.68"/><circle cx="370.84" cy="409.62"/><circle cx="469" cy="211.68"/><circle cx="347.58" cy="264.29"/><circle cx="364.62" cy="299.52"/><circle cx="174.42" cy="216.74"/><circle cx="341.04" cy="266.41"/><circle cx="526.69" cy="307.32"/><circle cx="485.23" cy="321.04"/><circle cx="344.02" cy="162.78"/><circle cx="300.09" cy="293.48"/><circle cx="365.96" cy="214.78"/><circle cx="490.96" cy="340.84"/><circle cx="341.62" cy="274.37"/><circle cx="528.01" cy="304.2"/><circle cx="233.2" cy="258.47"/><circle cx="398.79" cy="338.89"/><circle cx="575.79" cy="177.79"/><circle cx="220.73" cy="266.59"/><circle cx="427.67" cy="374.35"/><circle cx="353.65" cy="349.22"/><circle cx="387.58" cy="184.46"/><circle cx="462.62" cy="360.09"/><circle cx="280.54" cy="175.68"/><circle cx="480.96" cy="314.57"/><circle cx="241.69" cy="268.6"/><circle cx="300.91" cy="264.63"/><circle cx="266.22" cy="285.05"/><circle cx="429.73" cy="162.18"/><circle cx="520.86" cy="228.45"/><circle cx="267.11" cy="228"/><circle cx="390.78" cy="344.81"/><circle cx="387.37" cy="294.56"/><circle cx="396.04" cy="384.68"/><circle cx="347.81" cy="296.58"/><circle cx="500.57" cy="283.32"/><circle cx="409.84" cy="263.08"/><circle cx="301.45" cy="284.95"/><circle cx="379.31" cy="351.04"/><circle cx="336.94" cy="365.99"/><circle cx="352.86" cy="419.68"/><circle cx="382.14" cy="230.23"/><circle cx="504.88" cy="294.04"/><circle cx="384.82" cy="406.2"/><circle cx="390.84" cy="250.75"/><circle cx="258.03" cy="213.17"/><circle cx="338.63" cy="385.32"/><circle cx="276.41" cy="195.23"/><circle cx="512.88" cy="293.97"/><circle cx="194.11" cy="214.53"/><circle cx="328.23" cy="353.7"/><circle cx="549.74" cy="233.71"/><circle cx="524.9" cy="252.73"/><circle cx="309.82" cy="364.32"/><circle cx="440.6" cy="356"/><circle cx="530.46" cy="195.64"/><circle cx="269.4" cy="170.66"/><circle cx="362.79" cy="299.13"/><circle cx="368.91" cy="380.94"/><circle cx="468.47" cy="274.15"/><circle cx="313.65" cy="311.23"/><circle cx="429.06" cy="279.46"/><circle cx="178.47" cy="216.71"/><circle cx="433.61" cy="170.83"/><circle cx="471.97" cy="362.74"/><circle cx="417.82" cy="235.44"/><circle cx="512.36" cy="222.13"/><circle cx="224.04" cy="227.99"/><circle cx="482.97" cy="262.67"/><circle cx="474.33" cy="200.67"/><circle cx="409.3" cy="282.25"/><circle cx="178" cy="217.88"/><circle cx="450.08" cy="304.88"/><circle cx="422.98" cy="462.28"/><circle cx="490.13" cy="323.91"/><circle cx="416.42" cy="338.68"/><circle cx="404.03" cy="442.78"/><circle cx="220.22" cy="245.76"/><circle cx="309.8" cy="336.07"/><circle cx="480.59" cy="214.36"/><circle cx="229.1" cy="202.73"/><circle cx="199.95" cy="266.05"/><circle cx="358.93" cy="165.41"/><circle cx="432.43" cy="273.24"/><circle cx="406.36" cy="439.62"/><circle cx="345.53" cy="278.72"/><circle cx="363.96" cy="389.99"/><circle cx="385.79" cy="193.06"/><circle cx="436.5" cy="303.61"/><circle cx="468.14" cy="322.05"/><circle cx="371.54" cy="393.07"/><circle cx="390.75" cy="171.81"/><circle cx="491.55" cy="317.18"/><circle cx="454.32" cy="399.2"/><circle cx="445.11" cy="355.24"/><circle cx="456.25" cy="202.79"/><circle cx="318.59" cy="328.23"/><circle cx="222.44" cy="181.45"/><circle cx="197.21" cy="225.54"/><circle cx="324.33" cy="280.09"/><circle cx="292.61" cy="316.6"/><circle cx="391.66" cy="309.55"/><circle cx="514.74" cy="235.76"/><circle cx="447.45" cy="268.21"/><circle cx="293.04" cy="355.3"/><circle cx="504.3" cy="234.36"/><circle cx="530.39" cy="248.87"/><circle cx="478.84" cy="330.57"/><circle cx="476.69" cy="337.6"/><circle cx="444.19" cy="244.82"/><circle cx="330.75" cy="305.94"/><circle cx="439.74" cy="232.15"/><circle cx="358.4" cy="315.03"/><circle cx="297.53" cy="242.5"/><circle cx="373.07" cy="199.19"/><circle cx="206.62" cy="215.53"/><circle cx="378.45" cy="435.17"/><circle cx="239.15" cy="202.39"/><circle cx="515.03" cy="207.18"/><circle cx="247.37" cy="266.46"/><circle cx="420.38" cy="455.91"/><circle cx="505.13" cy="308.67"/><circle cx="550.81" cy="209.96"/><circle cx="409.05" cy="287.12"/><circle cx="556.84" cy="218.99"/><circle cx="250.92" cy="308.85"/><circle cx="419.76" cy="285.09"/><circle cx="419.67" cy="400.14"/><circle cx="279.04" cy="229.31"/><circle cx="318.14" cy="204.33"/><circle cx="424.98" cy="222.52"/><circle cx="383" cy="332.52"/><circle cx="284.21" cy="340.97"/><circle cx="366.36" cy="194.08"/><circle cx="235.76" cy="282.89"/><circle cx="492.72" cy="279.26"/><circle cx="564.66" cy="178.98"/><circle cx="290.52" cy="255.99"/><circle cx="350.47" cy="281.86"/><circle cx="356.5" cy="267.42"/><circle cx="330.57" cy="379.29"/><circle cx="395.7" cy="325.02"/><circle cx="273.02" cy="269.95"/><circle cx="388.56" cy="445.25"/><circle cx="340.75" cy="215.68"/><circle cx="306.32" cy="355.63"/><circle cx="288.54" cy="274.36"/><circle cx="355.47" cy="305.98"/><circle cx="261.66" cy="345.61"/><circle cx="267.18" cy="337.98"/><circle cx="193.35" cy="232.55"/><circle cx="415.57" cy="439.82"/><circle cx="427.14" cy="324.68"/><circle cx="538.83" cy="187.18"/><circle cx="287.05" cy="287.19"/><circle cx="433.81" cy="170.93"/><circle cx="372.51" cy="181.47"/><circle cx="407.81" cy="193.86"/><circle cx="331.41" cy="353.37"/><circle cx="187.35" cy="249.39"/><circle cx="236.62" cy="217.37"/><circle cx="227.54" cy="212.53"/><circle cx="387.78" cy="260.58"/><circle cx="315.13" cy="232.41"/><circle cx="357.34" cy="411.69"/><circle cx="294.42" cy="319.9"/><circle cx="510" cy="190.24"/><circle cx="345.43" cy="270.03"/><circle cx="241.53" cy="279.77"/><circle cx="363.01" cy="367.42"/><circle cx="392.4" cy="385.05"/><circle cx="205.94" cy="255.11"/><circle cx="433.94" cy="385.29"/><circle cx="252.21" cy="296.56"/><circle cx="301.08" cy="220.1"/><circle cx="304.29" cy="332.2"/><circle cx="316.39" cy="222.95"/><circle cx="351.48" cy="230.93"/><circle cx="339.43" cy="354.37"/><circle cx="376.07" cy="320.68"/><circle cx="472.61" cy="250.01"/><circle cx="211.65" cy="205.29"/><circle cx="371.26" cy="393.62"/><circle cx="469.5" cy="247.4"/><circle cx="327.3" cy="187.47"/><circle cx="346.86" cy="417.36"/><circle cx="410.02" cy="375.01"/><circle cx="319.64" cy="321.37"/><circle cx="482.4" cy="228.65"/><circle cx="505.38" cy="224.52"/><circle cx="429.91" cy="358.83"/><circle cx="393.27" cy="332.74"/><circle cx="181.21" cy="242.48"/><circle cx="411.89" cy="171.05"/><circle cx="359.52" cy="272.91"/><circle cx="357.77" cy="420.5"/><circle cx="309.44" cy="166.81"/><circle cx="443.24" cy="297.18"/><circle cx="203.43" cy="233.34"/><circle cx="422.79" cy="273.64"/><circle cx="492.84" cy="307.94"/><circle cx="454.46" cy="184.55"/><circle cx="455.32" cy="268"/><circle cx="280.8" cy="238.42"/><circle cx="271.46" cy="303.41"/><circle cx="274.24" cy="326.19"/><circle cx="233.11" cy="224.09"/><circle cx="174.64" cy="227.29"/><circle cx="403.36" cy="255.08"/><circle cx="403.72" cy="180.91"/><circle cx="215.19" cy="179.82"/><circle cx="323.59" cy="271.41"/><circle cx="323.93" cy="349.07"/><circle cx="383.25" cy="428.81"/><circle cx="357.09" cy="303.18"/><circle cx="317.24" cy="326.94"/><circle cx="347.08" cy="232.09"/><circle cx="354.84" cy="236.83"/><circle cx="355.68" cy="280.12"/><circle cx="338.79" cy="203.84"/><circle cx="319.95" cy="254.97"/><circle cx="302.61" cy="220.18"/><circle cx="375.93" cy="173.86"/><circle cx="313.56" cy="294.91"/><circle cx="313.5" cy="333.44"/><circle cx="377.3" cy="274.38"/><circle cx="244.12" cy="246.26"/><circle cx="427.41" cy="386.96"/><circle cx="513.84" cy="219.73"/><circle cx="480.97" cy="281.32"/><circle cx="288.98" cy="311.29"/><circle cx="389.72" cy="358.83"/><circle cx="426.28" cy="365.06"/><circle cx="357.96" cy="347.14"/><circle cx="372.18" cy="358.49"/><circle cx="496.48" cy="323.46"/><circle cx="297.55" cy="237.96"/><circle cx="405.88" cy="221.37"/><circle cx="385.71" cy="213"/><circle cx="432.87" cy="430.43"/><circle cx="339.79" cy="398.91"/><circle cx="309.84" cy="322.67"/><circle cx="300.91" cy="280.84"/><circle cx="367.81" cy="178.11"/><circle cx="448.53" cy="378.07"/><circle cx="191.5" cy="224.62"/><circle cx="380.02" cy="234.31"/><circle cx="351.87" cy="409.15"/><circle cx="258.94" cy="300.59"/><circle cx="360.67" cy="411.99"/><circle cx="325.92" cy="177.45"/><circle cx="446.1" cy="164.69"/><circle cx="460.22" cy="270.45"/><circle cx="262.89" cy="236.03"/><circle cx="329.03" cy="222.29"/><circle cx="477.55" cy="315.69"/><circle cx="425.17" cy="410.5"/><circle cx="359.13" cy="417.29"/><circle cx="527.39" cy="259.76"/><circle cx="383.25" cy="239.18"/><circle cx="415.44" cy="438.17"/><circle cx="267.52" cy="312.64"/><circle cx="236.77" cy="266.5"/><circle cx="391.35" cy="260.57"/><circle cx="326.18" cy="200.9"/><circle cx="407" cy="156.75"/><circle cx="338.2" cy="357.85"/><circle cx="412.37" cy="373.99"/><circle cx="230.22" cy="276.84"/><circle cx="374.39" cy="422.09"/><circle cx="295.92" cy="253.26"/><circle cx="187.64" cy="214.67"/><circle cx="394.77" cy="233.88"/><circle cx="193.76" cy="248.59"/><circle cx="457.27" cy="240.89"/><circle cx="238.65" cy="219.41"/><circle cx="274.93" cy="254.66"/><circle cx="510.43" cy="290.6"/><circle cx="525.39" cy="198.67"/><circle cx="291.78" cy="286.31"/><circle cx="401.47" cy="327.71"/><circle cx="447.59" cy="417.19"/><circle cx="403.64" cy="254.71"/><circle cx="490.08" cy="252.64"/><circle cx="299.6" cy="339.06"/><circle cx="241.21" cy="309.76"/><circle cx="478.19" cy="201.7"/><circle cx="464.83" cy="286.91"/><circle cx="421.91" cy="290.84"/><circle cx="449.6" cy="328.35"/><circle cx="479.34" cy="204.53"/><circle cx="351.64" cy="222.89"/><circle cx="258.64" cy="320.38"/><circle cx="421" cy="324.38"/><circle cx="237.94" cy="214.44"/><circle cx="368.49" cy="228.71"/><circle cx="313.47" cy="205"/><circle cx="366.02" cy="237.91"/><circle cx="498.91" cy="329.51"/><circle cx="434.77" cy="263.66"/><circle cx="303.05" cy="249.92"/><circle cx="216.34" cy="232.8"/><circle cx="379.73" cy="404.09"/><circle cx="264.95" cy="217.57"/><circle cx="494.17" cy="185.77"/><circle cx="267.29" cy="210.35"/><circle cx="317.48" cy="315.27"/><circle cx="271.71" cy="292.36"/><circle cx="328.05" cy="254.46"/><circle cx="506.41" cy="338.8"/><circle cx="394.38" cy="319.2"/><circle cx="437.83" cy="160.17"/><circle cx="341.37" cy="255.41"/><circle cx="443.32" cy="156.02"/><circle cx="496.82" cy="264.83"/><circle cx="172.41" cy="191.47"/><circle cx="403.26" cy="303.4"/><circle cx="220.82" cy="195.11"/><circle cx="491.89" cy="352.57"/><circle cx="224.02" cy="272.53"/><circle cx="285.26" cy="190.9"/><circle cx="253.58" cy="194.22"/><circle cx="414" cy="364.06"/><circle cx="353.4" cy="243.77"/><circle cx="454.49" cy="314.08"/><circle cx="412" cy="353.5"/><circle cx="352.93" cy="288.39"/><circle cx="330.9" cy="235.61"/><circle cx="424.57" cy="433.22"/><circle cx="427.14" cy="376.51"/><circle cx="361.31" cy="184.38"/><circle cx="334.36" cy="393.02"/><circle cx="520.4" cy="280.1"/><circle cx="266.03" cy="266.87"/><circle cx="413.75" cy="353.09"/><circle cx="335.9" cy="258.51"/><circle cx="185.12" cy="185.62"/><circle cx="482.9" cy="178.78"/><circle cx="440.93" cy="291.01"/><circle cx="507.45" cy="189.48"/><circle cx="561.13" cy="209.06"/><circle cx="375.82" cy="304.47"/><circle cx="326.28" cy="180.58"/><circle cx="422.83" cy="362.9"/><circle cx="262.37" cy="179.39"/><circle cx="399.6" cy="185.41"/><circle cx="313.78" cy="208.03"/><circle cx="250.68" cy="173.42"/><circle cx="356.39" cy="395.61"/><circle cx="320.39" cy="171.73"/><circle cx="448.7" cy="211.46"/><circle cx="253.43" cy="280.98"/><circle cx="290.94" cy="329.83"/><circle cx="515.2" cy="278.03"/><circle cx="299.81" cy="219.89"/><circle cx="183.23" cy="232.57"/><circle cx="391.77" cy="398.93"/><circle cx="178.37" cy="206.02"/><circle cx="392.59" cy="401.45"/><circle cx="568.26" cy="165.59"/><circle cx="298.82" cy="324.99"/><circle cx="472.76" cy="312.77"/><circle cx="251.2" cy="283.23"/><circle cx="519.15" cy="241.19"/><circle cx="495.12" cy="237.85"/><circle cx="420.85" cy="279.58"/><circle cx="332.11" cy="357.01"/><circle cx="323.06" cy="251.6"/><circle cx="263.42" cy="270.46"/><circle cx="491.94" cy="350.07"/><circle cx="478.57" cy="172.46"/><circle cx="295.32" cy="280.4"/><circle cx="356.35" cy="314.95"/><circle cx="536.16" cy="219.36"/><circle cx="448.07" cy="290.31"/><circle cx="318.96" cy="325.42"/><circle cx="372.98" cy="351.5"/><circle cx="497.14" cy="201.46"/><circle cx="231.52" cy="316.19"/><circle cx="237.81" cy="281.33"/><circle cx="333.43" cy="269.63"/><circle cx="333.35" cy="340.66"/><circle cx="310.89" cy="188.74"/><circle cx="538.35" cy="257.61"/><circle cx="550.83" cy="148.66"/><circle cx="249.65" cy="276.48"/><circle cx="475.53" cy="380.76"/><circle cx="243.36" cy="265.03"/><circle cx="377.79" cy="261.07"/><circle cx="243.31" cy="249.15"/><circle cx="371.7" cy="292.64"/><circle cx="195.83" cy="207.67"/><circle cx="249.41" cy="289.76"/><circle cx="388.86" cy="408.13"/><circle cx="459.18" cy="178.97"/><circle cx="368.9" cy="317.89"/><circle cx="364.78" cy="168.93"/><circle cx="384.74" cy="267.6"/><circle cx="522.56" cy="155.16"/><circle cx="290.21" cy="176.46"/><circle cx="315.24" cy="259.77"/><circle cx="425.06" cy="324.87"/><circle cx="374.43" cy="273.23"/><circle cx="478.78" cy="380.44"/><circle cx="246.4" cy="316.46"/><circle cx="354.31" cy="375.34"/><circle cx="297.96" cy="223.01"/><circle cx="261.91" cy="283.04"/><circle cx="371.46" cy="160.28"/><circle cx="353.07" cy="350.3"/><circle cx="232.91" cy="215.2"/><circle cx="415.77" cy="456.27"/><circle cx="316.8" cy="297.14"/><circle cx="275.47" cy="231.15"/><circle cx="248.95" cy="326.47"/><circle cx="377.66" cy="405.11"/><circle cx="284.69" cy="292.96"/><circle cx="241.73" cy="212.39"/><circle cx="391.51" cy="189.17"/><circle cx="273.55" cy="250.95"/><circle cx="407.49" cy="329.91"/><circle cx="392.47" cy="352.38"/><circle cx="423.27" cy="309.15"/><circle cx="269.32" cy="341.27"/><circle cx="216.8" cy="223.28"/><circle cx="368.98" cy="243.86"/><circle cx="405.3" cy="335.94"/><circle cx="386.37" cy="315.53"/><circle cx="388.45" cy="384.55"/><circle cx="391.91" cy="322.97"/><circle cx="274.05" cy="187.43"/><circle cx="276.9" cy="290.55"/><circle cx="397.62" cy="387.17"/><circle cx="320.14" cy="182.25"/><circle cx="360.07" cy="350.99"/><circle cx="411.27" cy="230.51"/><circle cx="388.65" cy="448.94"/><circle cx="411.51" cy="345.11"/><circle cx="355.13" cy="356.05"/><circle cx="342.43" cy="185.5"/><circle cx="388.16" cy="259.2"/><circle cx="357.33" cy="219.46"/><circle cx="283.2" cy="300.32"/><circle cx="499.81" cy="286.83"/><circle cx="472.62" cy="373.3"/><circle cx="433.75" cy="171.11"/><circle cx="465.06" cy="386.77"/><circle cx="379.74" cy="195.53"/><circle cx="457.2" cy="215.75"/><circle cx="347.81" cy="285.43"/><circle cx="391.67" cy="245.39"/><circle cx="397.77" cy="418.82"/><circle cx="226.89" cy="272.51"/><circle cx="359.54" cy="334.73"/><circle cx="278.35" cy="184.39"/><circle cx="444.23" cy="434.55"/><circle cx="501.64" cy="181.74"/><circle cx="492.53" cy="178.81"/><circle cx="230.51" cy="191.74"/><circle cx="293.48" cy="248.04"/><circle cx="335.76" cy="247.84"/><circle cx="336.67" cy="232.58"/><circle cx="421.06" cy="173.24"/><circle cx="491.15" cy="195.3"/><circle cx="460.33" cy="251.41"/><circle cx="459.92" cy="193.52"/><circle cx="239.74" cy="255.74"/><circle cx="303.9" cy="262.36"/><circle cx="406.49" cy="383.77"/><circle cx="293.95" cy="279.89"/><circle cx="463.31" cy="323.92"/><circle cx="307.54" cy="274.61"/><circle cx="465.05" cy="241.62"/><circle cx="352.4" cy="294.85"/><circle cx="474.44" cy="371.14"/><circle cx="396.48" cy="439.67"/><circle cx="384.47" cy="296.4"/><circle cx="391.04" cy="228.45"/><circle cx="525.28" cy="188.44"/><circle cx="449.19" cy="341.67"/><circle cx="435.57" cy="210.25"/><circle cx="282.77" cy="220.67"/><circle cx="232.21" cy="321"/><circle cx="188.9" cy="217.67"/><circle cx="350.27" cy="357.17"/><circle cx="420.37" cy="211.89"/><circle cx="407.51" cy="229.09"/><circle cx="395.44" cy="399.87"/><circle cx="397.01" cy="366.93"/><circle cx="381.15" cy="350.92"/><circle cx="258.27" cy="322.68"/><circle cx="379.67" cy="315.83"/><circle cx="291.32" cy="289.75"/><circle cx="298.8" cy="303.93"/><circle cx="452.48" cy="436.48"/><circle cx="407.56" cy="200"/><circle cx="276.27" cy="354.44"/><circle cx="423.69" cy="466.8"/><circle cx="413.88" cy="313.37"/><circle cx="297.4" cy="343.53"/><circle cx="425.82" cy="325.88"/><circle cx="528.02" cy="294.95"/><circle cx="293.33" cy="325.96"/><circle cx="379.17" cy="304.68"/><circle cx="317.77" cy="372.57"/><circle cx="404.12" cy="294.88"/><circle cx="311.27" cy="341.74"/><circle cx="207.19" cy="215.83"/><circle cx="502.48" cy="319.04"/><circle cx="486.8" cy="199.35"/><circle cx="282.1" cy="236.05"/><circle cx="447.21" cy="295.16"/><circle cx="427.36" cy="321.78"/><circle cx="268.12" cy="228.46"/><circle cx="426.12" cy="184.79"/><circle cx="347.18" cy="361.64"/><circle cx="388.2" cy="181.15"/><circle cx="533.08" cy="286.16"/><circle cx="460.43" cy="373.15"/><circle cx="386.3" cy="376"/><circle cx="210.73" cy="183.42"/><circle cx="444.63" cy="328.51"/><circle cx="238.96" cy="246.94"/><circle cx="463.16" cy="294.75"/><circle cx="469.78" cy="218.58"/><circle cx="530.45" cy="278.69"/><circle cx="358.03" cy="251.03"/><circle cx="414.41" cy="288.71"/><circle cx="390.37" cy="241.93"/><circle cx="421.79" cy="295.81"/><circle cx="436.77" cy="416.75"/><circle cx="382.98" cy="313.68"/><circle cx="476.22" cy="232.39"/><circle cx="305.82" cy="371.08"/><circle cx="350.18" cy="310.49"/><circle cx="451.18" cy="218.13"/><circle cx="254.19" cy="243.53"/><circle cx="330.64" cy="175.28"/><circle cx="416.26" cy="189.1"/><circle cx="271.33" cy="189.54"/><circle cx="395.49" cy="231.32"/><circle cx="424.71" cy="357.67"/><circle cx="450.03" cy="283.24"/><circle cx="355.14" cy="190.57"/><circle cx="350.58" cy="383.05"/><circle cx="479.62" cy="306.68"/><circle cx="510.55" cy="202.22"/><circle cx="298.06" cy="284.82"/><circle cx="349.38" cy="313.92"/><circle cx="446.23" cy="271.45"/><circle cx="438.27" cy="456.52"/><circle cx="451.99" cy="316.19"/><circle cx="469.68" cy="226.39"/><circle cx="397.49" cy="339.13"/><circle cx="410.76" cy="387.14"/><circle cx="345.68" cy="344.09"/><circle cx="261.39" cy="323.52"/><circle cx="286.25" cy="182.09"/><circle cx="215.26" cy="182.37"/><circle cx="350.23" cy="307.31"/><circle cx="269.66" cy="249.58"/><circle cx="245.94" cy="244.75"/><circle cx="247.98" cy="299.49"/><circle cx="517.06" cy="299.14"/><circle cx="320.47" cy="291.98"/><circle cx="344.76" cy="243.97"/><circle cx="555.02" cy="211.29"/><circle cx="250.48" cy="272.55"/><circle cx="333.61" cy="226.97"/><circle cx="360.9" cy="197.47"/><circle cx="251.82" cy="252.48"/><circle cx="562.19" cy="213.33"/><circle cx="462.47" cy="231.08"/><circle cx="406.65" cy="365.92"/><circle cx="227.87" cy="304.38"/><circle cx="412.11" cy="167.19"/><circle cx="324.59" cy="332.91"/><circle cx="442.91" cy="199.52"/><circle cx="464" cy="417.04"/><circle cx="446.36" cy="240.45"/><circle cx="514.25" cy="256.18"/><circle cx="453.49" cy="411.31"/><circle cx="496.57" cy="199.29"/><circle cx="391.37" cy="235.39"/><circle cx="268.16" cy="173.81"/><circle cx="450.3" cy="404.29"/><circle cx="306.43" cy="328.99"/><circle cx="471.6" cy="226.31"/><circle cx="229.86" cy="211.62"/><circle cx="261.63" cy="222.61"/><circle cx="380.68" cy="319.04"/><circle cx="199.11" cy="187.27"/><circle cx="357.44" cy="423.69"/><circle cx="574.93" cy="150.56"/><circle cx="264.32" cy="334.11"/><circle cx="294.78" cy="186.82"/><circle cx="221.86" cy="281.2"/><circle cx="562.22" cy="198.96"/><circle cx="340.23" cy="195.49"/><circle cx="313.31" cy="260.3"/><circle cx="445.03" cy="198.93"/><circle cx="284.53" cy="173.42"/><circle cx="443.89" cy="385.41"/><circle cx="199.28" cy="186.86"/><circle cx="316.31" cy="177.82"/><circle cx="542.81" cy="220.24"/><circle cx="287.68" cy="177.18"/><circle cx="437.48" cy="438.83"/><circle cx="422.62" cy="347.45"/><circle cx="509.13" cy="261.71"/><circle cx="348.13" cy="334.87"/><circle cx="499.14" cy="335.43"/><circle cx="370.52" cy="219.93"/><circle cx="418.45" cy="306.3"/><circle cx="453.71" cy="179.64"/><circle cx="175.75" cy="235.83"/><circle cx="478.38" cy="261.11"/><circle cx="284.01" cy="351.02"/><circle cx="313.23" cy="330.7"/><circle cx="346.59" cy="223.15"/><circle cx="472.38" cy="158.65"/><circle cx="432.64" cy="467.96"/><circle cx="399.62" cy="274.81"/><circle cx="255.49" cy="279.19"/><circle cx="379.96" cy="234.22"/><circle cx="262.55" cy="346.34"/><circle cx="544.1" cy="183.22"/><circle cx="285.77" cy="284.87"/><circle cx="335.95" cy="319.51"/><circle cx="386.43" cy="363.98"/><circle cx="391.61" cy="274.07"/><circle cx="449.19" cy="352.74"/><circle cx="309.43" cy="280.05"/><circle cx="269.81" cy="301.84"/><circle cx="304.12" cy="191.62"/><circle cx="334.99" cy="267.3"/><circle cx="418.28" cy="232.94"/><circle cx="378.86" cy="337.51"/><circle cx="149.77" cy="197.63"/><circle cx="399.93" cy="254.24"/><circle cx="366.53" cy="299.41"/><circle cx="396.78" cy="453.21"/><circle cx="384.41" cy="230.37"/><circle cx="406.03" cy="167.26"/><circle cx="371.98" cy="261.74"/><circle cx="408.39" cy="181.18"/><circle cx="334.69" cy="367.67"/><circle cx="348.38" cy="271.08"/><circle cx="191.56" cy="200.75"/><circle cx="393.04" cy="316.53"/><circle cx="478.61" cy="217.34"/><circle cx="397.11" cy="189.45"/><circle cx="291.73" cy="309.95"/><circle cx="436.95" cy="215.58"/><circle cx="266.94" cy="292.81"/><circle cx="432.28" cy="288.71"/><circle cx="440.21" cy="337.57"/><circle cx="283.91" cy="351.81"/><circle cx="345.93" cy="287.47"/><circle cx="491.45" cy="250.33"/><circle cx="242.18" cy="280.59"/><circle cx="421.38" cy="421.52"/><circle cx="336.03" cy="338.2"/><circle cx="213.79" cy="202.44"/><circle cx="477.04" cy="370.25"/><circle cx="494.98" cy="295.33"/><circle cx="283.84" cy="176.14"/><circle cx="412.22" cy="409.52"/><circle cx="197.67" cy="244.41"/><circle cx="524.6" cy="221.9"/><circle cx="451.65" cy="321.89"/><circle cx="396.31" cy="170.06"/><circle cx="231.34" cy="201.16"/><circle cx="314.58" cy="197.02"/><circle cx="306.19" cy="382.49"/><circle cx="350.9" cy="278.68"/><circle cx="549.5" cy="244.26"/><circle cx="440.27" cy="286.51"/><circle cx="296.33" cy="329.24"/><circle cx="339.22" cy="295.84"/><circle cx="359.23" cy="291.77"/><circle cx="307.71" cy="186.01"/><circle cx="319.69" cy="183.7"/><circle cx="563.33" cy="168.44"/><circle cx="468.87" cy="228.94"/><circle cx="330.64" cy="210.11"/><circle cx="414.85" cy="446.42"/><circle cx="225.7" cy="269.93"/><circle cx="197.04" cy="261.56"/><circle cx="418.11" cy="310.7"/><circle cx="468.04" cy="155.9"/><circle cx="318.73" cy="380.69"/><circle cx="254.92" cy="261.96"/><circle cx="376.45" cy="430.84"/><circle cx="324.76" cy="348.45"/><circle cx="210.58" cy="207"/><circle cx="269.53" cy="183.52"/><circle cx="439.13" cy="261.46"/><circle cx="292.67" cy="319.44"/><circle cx="485.91" cy="311.47"/><circle cx="240.57" cy="276.56"/><circle cx="299.21" cy="368"/><circle cx="280.26" cy="204.22"/><circle cx="245.16" cy="206"/><circle cx="545.78" cy="171.8"/><circle cx="480.21" cy="245.42"/><circle cx="378.11" cy="357.29"/><circle cx="469.3" cy="203.92"/><circle cx="457.11" cy="176.55"/><circle cx="531.69" cy="165.93"/><circle cx="265.11" cy="347.6"/><circle cx="322.08" cy="196.67"/><circle cx="484.8" cy="273.44"/><circle cx="404.43" cy="171.27"/><circle cx="284.2" cy="350.85"/><circle cx="300.62" cy="376.12"/><circle cx="313.11" cy="207.21"/><circle cx="382.3" cy="381.33"/><circle cx="456.77" cy="414.15"/><circle cx="341.68" cy="204.5"/><circle cx="258.54" cy="310.35"/><circle cx="490.7" cy="219.89"/><circle cx="452.4" cy="246.36"/><circle cx="287.54" cy="333.5"/><circle cx="466.42" cy="280.38"/><circle cx="312.58" cy="260.15"/><circle cx="443.81" cy="431.01"/><circle cx="371.49" cy="278.96"/><circle cx="367.6" cy="304.54"/><circle cx="260.52" cy="282.39"/><circle cx="498.51" cy="230.79"/><circle cx="350.09" cy="209.64"/><circle cx="374.25" cy="427.19"/><circle cx="495" cy="318.53"/><circle cx="258.44" cy="319.15"/><circle cx="214.96" cy="242.99"/><circle cx="420.89" cy="247.71"/><circle cx="527.64" cy="281.38"/><circle cx="178.84" cy="190.96"/><circle cx="398.14" cy="263.23"/><circle cx="343.91" cy="398.38"/><circle cx="436.96" cy="353.36"/><circle cx="235.61" cy="254.81"/><circle cx="255.59" cy="235.32"/><circle cx="554.5" cy="233.23"/><circle cx="354.51" cy="385.11"/><circle cx="338.26" cy="309.26"/><circle cx="342.8" cy="225.36"/><circle cx="418.07" cy="281.98"/><circle cx="468.35" cy="245.67"/><circle cx="232.26" cy="189.06"/><circle cx="322.52" cy="386.73"/><circle cx="476.23" cy="265.58"/><circle cx="329.79" cy="322.99"/><circle cx="274.47" cy="325.97"/><circle cx="218.34" cy="277.62"/><circle cx="454.17" cy="371.62"/><circle cx="406.34" cy="264.7"/><circle cx="268.11" cy="200.14"/><circle cx="444.98" cy="249.9"/><circle cx="341.27" cy="401.94"/><circle cx="210.22" cy="203.29"/><circle cx="374.55" cy="344.83"/><circle cx="309.48" cy="227.49"/><circle cx="274.34" cy="349.41"/><circle cx="350.76" cy="241.61"/><circle cx="394.71" cy="209.28"/><circle cx="509.02" cy="158.7"/><circle cx="233.34" cy="202.49"/><circle cx="420.98" cy="156.71"/><circle cx="475.94" cy="325.07"/><circle cx="365.63" cy="397.39"/><circle cx="461.55" cy="392.55"/><circle cx="372.85" cy="381.86"/><circle cx="408.06" cy="267.56"/><circle cx="203.34" cy="179.27"/><circle cx="238.68" cy="308.72"/><circle cx="356.71" cy="179.48"/><circle cx="323.53" cy="364.17"/><circle cx="143.06" cy="189.33"/><circle cx="296.73" cy="354.46"/><circle cx="396.8" cy="230.59"/><circle cx="418.31" cy="412.32"/><circle cx="558.47" cy="190.79"/><circle cx="496.69" cy="181.77"/><circle cx="519.68" cy="228.44"/><circle cx="362.46" cy="368.09"/><circle cx="359.82" cy="407.14"/><circle cx="427.82" cy="305.7"/><circle cx="503.99" cy="210.57"/><circle cx="225.74" cy="233.11"/><circle cx="430.49" cy="406.22"/><circle cx="482.25" cy="171.17"/><circle cx="491.36" cy="272.95"/><circle cx="403.46" cy="330.86"/><circle cx="459.35" cy="388.4"/><circle cx="393" cy="207.5"/><circle cx="381.11" cy="314.06"/><circle cx="327.09" cy="276.78"/><circle cx="377.7" cy="333.5"/><circle cx="387.38" cy="188.48"/><circle cx="286.65" cy="219.52"/><circle cx="314.09" cy="358.85"/><circle cx="398.44" cy="274.61"/><circle cx="443.48" cy="416.5"/><circle cx="203.91" cy="266.38"/><circle cx="364.77" cy="419.79"/><circle cx="380.25" cy="184.75"/><circle cx="331.71" cy="219.05"/><circle cx="307.58" cy="327.76"/><circle cx="251.35" cy="274.91"/><circle cx="190.77" cy="252.59"/><circle cx="413.45" cy="163.82"/><circle cx="311.6" cy="231.43"/><circle cx="258.37" cy="177.19"/><circle cx="419.88" cy="233.18"/><circle cx="395.6" cy="224.43"/><circle cx="345.23" cy="384.59"/><circle cx="470.24" cy="158.83"/><circle cx="515.77" cy="238.73"/><circle cx="273.52" cy="179.15"/><circle cx="479.21" cy="294.16"/><circle cx="216.1" cy="212.06"/><circle cx="352.57" cy="188.84"/><circle cx="412.39" cy="424.15"/><circle cx="464.93" cy="190.66"/><circle cx="390.29" cy="345.01"/><circle cx="337.16" cy="253.71"/><circle cx="357.73" cy="180.61"/><circle cx="404.28" cy="241.27"/><circle cx="255.11" cy="228.15"/><circle cx="235.49" cy="287.9"/><circle cx="492.96" cy="232.41"/><circle cx="504.13" cy="334.66"/><circle cx="461.51" cy="220.06"/><circle cx="284.9" cy="236.97"/><circle cx="534.39" cy="151.04"/><circle cx="369.19" cy="358.8"/><circle cx="482.08" cy="316.66"/><circle cx="296.24" cy="214.08"/><circle cx="406.36" cy="347.94"/><circle cx="238.15" cy="295.31"/><circle cx="528.8" cy="184.6"/><circle cx="265.42" cy="220.32"/><circle cx="404.78" cy="412.46"/><circle cx="309.04" cy="347.48"/><circle cx="301.52" cy="241.81"/><circle cx="261.7" cy="329.25"/><circle cx="326.31" cy="331.09"/><circle cx="309.38" cy="209.56"/><circle cx="394.37" cy="389.87"/><circle cx="408.83" cy="275.78"/><circle cx="394.67" cy="348.13"/><circle cx="518.02" cy="181.48"/><circle cx="383.41" cy="268.83"/><circle cx="304.36" cy="224.89"/><circle cx="466.48" cy="159.44"/><circle cx="268.88" cy="266.26"/><circle cx="366.63" cy="357.39"/><circle cx="414.23" cy="266.12"/><circle cx="455.75" cy="176.41"/><circle cx="271.34" cy="176.82"/><circle cx="288.95" cy="284.35"/><circle cx="396.06" cy="439.14"/><circle cx="512.87" cy="230.64"/><circle cx="446.42" cy="236.86"/><circle cx="343.17" cy="183.59"/><circle cx="411.92" cy="314.3"/><circle cx="262.84" cy="200.5"/><circle cx="339.04" cy="284.97"/><circle cx="249.72" cy="180.87"/><circle cx="427.74" cy="184.64"/><circle cx="310.64" cy="356.81"/><circle cx="484.29" cy="250.1"/><circle cx="262.8" cy="214.26"/><circle cx="366.73" cy="216"/><circle cx="415.59" cy="454.59"/><circle cx="319.14" cy="396.97"/><circle cx="273.52" cy="172.32"/><circle cx="312.82" cy="320.26"/><circle cx="434.47" cy="200.32"/><circle cx="207.11" cy="226.94"/><circle cx="325.11" cy="260.99"/><circle cx="476.42" cy="211.52"/><circle cx="511.34" cy="214.34"/><circle cx="461.19" cy="281.57"/><circle cx="375.55" cy="206.08"/><circle cx="252.79" cy="215.68"/><circle cx="244.52" cy="244.15"/><circle cx="434.38" cy="385.61"/><circle cx="419.48" cy="420.6"/><circle cx="382.07" cy="379.73"/><circle cx="306.67" cy="382.92"/><circle cx="322.79" cy="334.66"/><circle cx="281.39" cy="225.29"/><circle cx="466.33" cy="208.52"/><circle cx="315.09" cy="173.6"/><circle cx="201.09" cy="267.06"/><circle cx="424.58" cy="210.05"/><circle cx="481.97" cy="353.96"/><circle cx="494.8" cy="242.59"/><circle cx="265.93" cy="329.45"/><circle cx="366.03" cy="354.81"/><circle cx="361.7" cy="370.07"/><circle cx="451.82" cy="247.82"/><circle cx="244.15" cy="288.3"/><circle cx="498.47" cy="276.54"/><circle cx="364.62" cy="378.72"/><circle cx="407.81" cy="336.76"/><circle cx="251.55" cy="197.9"/><circle cx="447.22" cy="287.92"/><circle cx="175.76" cy="198.95"/><circle cx="285.65" cy="303.16"/><circle cx="398.51" cy="317.03"/><circle cx="292.15" cy="303.12"/><circle cx="371.12" cy="384.41"/><circle cx="394.22" cy="294.43"/><circle cx="479.44" cy="220.5"/><circle cx="220.57" cy="268.83"/><circle cx="486.48" cy="246.71"/><circle cx="418.89" cy="195.76"/><circle cx="452.92" cy="310.19"/><circle cx="306.36" cy="294.51"/><circle cx="474.11" cy="370.73"/><circle cx="449.19" cy="285.68"/><circle cx="421.18" cy="366.32"/><circle cx="380.97" cy="268.43"/><circle cx="366.64" cy="348.88"/><circle cx="523.1" cy="290.3"/><circle cx="443.77" cy="281.47"/><circle cx="526.24" cy="214.67"/><circle cx="392.68" cy="243.71"/><circle cx="549.39" cy="200.63"/><circle cx="150.42" cy="194.19"/><circle cx="243.45" cy="238.87"/><circle cx="278.26" cy="283.19"/><circle cx="201.67" cy="250.29"/><circle cx="336.39" cy="248.21"/><circle cx="518.89" cy="280.23"/><circle cx="238.75" cy="188.14"/><circle cx="391.76" cy="377.58"/><circle cx="327.75" cy="219.47"/><circle cx="339.63" cy="392.48"/><circle cx="304.55" cy="163.92"/><circle cx="371.67" cy="201.55"/><circle cx="458.79" cy="299.23"/><circle cx="344.72" cy="342.41"/><circle cx="347.51" cy="374.01"/><circle cx="246.72" cy="206.77"/><circle cx="248.57" cy="332.81"/><circle cx="511.58" cy="297.58"/><circle cx="448.73" cy="153.21"/><circle cx="560.16" cy="184.76"/><circle cx="382.99" cy="316.18"/><circle cx="428.28" cy="372.81"/><circle cx="542.36" cy="154.96"/><circle cx="366.38" cy="337.46"/><circle cx="410.67" cy="258.21"/><circle cx="388.54" cy="156.22"/><circle cx="407.15" cy="202.86"/><circle cx="495" cy="160.48"/><circle cx="293.85" cy="368.09"/><circle cx="449.43" cy="159.04"/><circle cx="238.4" cy="208.13"/><circle cx="321.06" cy="289.24"/><circle cx="470.73" cy="341.31"/><circle cx="465.63" cy="260.23"/><circle cx="333.89" cy="341.88"/><circle cx="486.58" cy="262.21"/><circle cx="349.74" cy="262.95"/><circle cx="327.14" cy="304.93"/><circle cx="479.22" cy="335.31"/><circle cx="296.65" cy="324.34"/><circle cx="192.4" cy="245.22"/><circle cx="384.68" cy="343.3"/><circle cx="376.32" cy="408.87"/><circle cx="434.72" cy="289.56"/><circle cx="375.98" cy="167.14"/><circle cx="489.41" cy="197.75"/><circle cx="553.38" cy="183.74"/><circle cx="494.78" cy="299.77"/><circle cx="228.51" cy="248.33"/><circle cx="450.78" cy="264.75"/><circle cx="245.35" cy="225.1"/><circle cx="350.06" cy="250.28"/><circle cx="378.34" cy="436.34"/><circle cx="422.11" cy="241.04"/><circle cx="384.95" cy="225.44"/><circle cx="440.59" cy="190.36"/><circle cx="507.36" cy="308.21"/><circle cx="475.92" cy="262.58"/><circle cx="346.26" cy="262.72"/><circle cx="341.76" cy="379.82"/><circle cx="421.58" cy="427.61"/><circle cx="374.3" cy="179"/><circle cx="409.85" cy="434.81"/><circle cx="400.77" cy="216.69"/><circle cx="320.73" cy="231.35"/><circle cx="521.88" cy="312.54"/><circle cx="201.16" cy="192.03"/><circle cx="490.29" cy="260.71"/><circle cx="462.5" cy="158.12"/><circle cx="390.54" cy="192.94"/><circle cx="394.07" cy="376.84"/><circle cx="345.58" cy="180.25"/><circle cx="359.06" cy="377.58"/><circle cx="372.92" cy="424.99"/><circle cx="289.48" cy="215.57"/><circle cx="431.61" cy="221.14"/><circle cx="509" cy="315.07"/><circle cx="427.92" cy="204.85"/><circle cx="496.4" cy="290.7"/><circle cx="302.99" cy="304.23"/><circle cx="309.94" cy="170.81"/><circle cx="385.35" cy="223.38"/><circle cx="542.21" cy="254.22"/><circle cx="321.58" cy="340.98"/><circle cx="404.64" cy="371.56"/><circle cx="407.97" cy="428.88"/><circle cx="461.86" cy="234.3"/><circle cx="502.42" cy="210.52"/><circle cx="318.44" cy="352.21"/><circle cx="311.41" cy="209.69"/><circle cx="336.7" cy="217.71"/><circle cx="352.12" cy="382.69"/><circle cx="463.97" cy="379.91"/><circle cx="380.99" cy="327.59"/><circle cx="394.2" cy="228.12"/><circle cx="493.27" cy="262.28"/><circle cx="206.39" cy="181.96"/><circle cx="298.31" cy="282.13"/><circle cx="359.21" cy="207.75"/><circle cx="480.92" cy="280.54"/><circle cx="217.46" cy="240.63"/><circle cx="475.34" cy="164.81"/><circle cx="525.55" cy="283.34"/><circle cx="400.7" cy="178.75"/><circle cx="444.62" cy="384.52"/><circle cx="365.36" cy="246.46"/><circle cx="442.33" cy="163.92"/><circle cx="321.63" cy="300.53"/><circle cx="512.47" cy="297.57"/><circle cx="445.27" cy="205.37"/><circle cx="522.26" cy="310.44"/><circle cx="277.81" cy="361.44"/><circle cx="382.41" cy="355.78"/><circle cx="240.54" cy="319.37"/><circle cx="302.04" cy="327.88"/><circle cx="276.01" cy="291.23"/><circle cx="351.42" cy="163.65"/><circle cx="421.85" cy="211.66"/><circle cx="505.54" cy="332.78"/><circle cx="489.79" cy="351.73"/><circle cx="460.23" cy="155.93"/><circle cx="353.93" cy="216.7"/><circle cx="502.42" cy="151.17"/><circle cx="263.15" cy="288.82"/><circle cx="311.62" cy="389.29"/><circle cx="501.03" cy="249.31"/><circle cx="394.48" cy="223.51"/><circle cx="292.24" cy="309.38"/><circle cx="311.72" cy="302.52"/><circle cx="424.35" cy="237.52"/><circle cx="383.83" cy="243.99"/><circle cx="356.15" cy="249.86"/><circle cx="368.65" cy="321.66"/><circle cx="191.93" cy="252.16"/><circle cx="405.06" cy="422.94"/><circle cx="247.21" cy="207.93"/><circle cx="336.89" cy="264.43"/><circle cx="371.68" cy="272.69"/><circle cx="281.77" cy="304.67"/><circle cx="297.15" cy="349.44"/><circle cx="318.25" cy="271.49"/><circle cx="216.17" cy="183.04"/><circle cx="372.03" cy="317.05"/><circle cx="404.09" cy="343.93"/><circle cx="302.81" cy="303.53"/><circle cx="267.02" cy="255.36"/><circle cx="538.21" cy="217.43"/><circle cx="249.47" cy="301.12"/><circle cx="261.72" cy="309.48"/><circle cx="347.09" cy="378.05"/><circle cx="269.37" cy="190.65"/><circle cx="398.78" cy="262.59"/><circle cx="332.86" cy="161.18"/><circle cx="399.95" cy="359.59"/><circle cx="434.05" cy="373.11"/><circle cx="340.33" cy="274.17"/><circle cx="547.35" cy="189.09"/><circle cx="327.29" cy="181.03"/><circle cx="338.33" cy="382.77"/><circle cx="244.27" cy="228.85"/><circle cx="430.04" cy="207.86"/><circle cx="313.77" cy="226.37"/><circle cx="383.23" cy="352.46"/><circle cx="582.16" cy="162.3"/><circle cx="457.26" cy="171.1"/><circle cx="379.69" cy="269.08"/><circle cx="312.69" cy="199.74"/><circle cx="342.61" cy="398.16"/><circle cx="326.03" cy="249.13"/><circle cx="422.61" cy="374.52"/><circle cx="500.43" cy="263.67"/><circle cx="302.11" cy="293.98"/><circle cx="371.91" cy="280.55"/><circle cx="534.06" cy="263.85"/><circle cx="476.64" cy="342.3"/><circle cx="352.6" cy="372.95"/><circle cx="409.72" cy="255.09"/><circle cx="364.94" cy="237.72"/><circle cx="281.1" cy="225.02"/><circle cx="456.43" cy="331.52"/><circle cx="538.06" cy="278.76"/><circle cx="238.85" cy="301.35"/><circle cx="302.73" cy="369.02"/><circle cx="211.73" cy="192.27"/><circle cx="488.68" cy="335.03"/><circle cx="516.75" cy="273.51"/><circle cx="432.31" cy="397.08"/><circle cx="423.04" cy="463.87"/><circle cx="347.83" cy="240.25"/><circle cx="503.46" cy="307.97"/><circle cx="382.27" cy="182.62"/><circle cx="363.82" cy="214.85"/><circle cx="391.74" cy="448.52"/><circle cx="413.41" cy="419.85"/><circle cx="297.4" cy="375.01"/></g><text x="356" y="46" text-anchor="middle" font-family="Liberation Sans, sans-serif" font-size="12" textLength="163" lengthAdjust="spacingAndGlyphs">Samples at Iteration 40000</text><rect x="585.9" y="11.7" width="115.2" height="32.4" rx="2" ry="2" fill="#fff" fill-opacity="0.8" stroke="#ccc" stroke-width="0.8"/><circle cx="599.5" cy="21.4" style="r:2.6px" fill="#1f77b4" stroke="#1f77b4" fill-opacity="0.2" stroke-opacity="0.2" stroke-width="1.3"/><circle cx="599.5" cy="36.3" style="r:2.6px" fill="#ff7f0e" stroke="#ff7f0e" fill-opacity="0.2" stroke-opacity="0.2" stroke-width="1.3"/><g font-family="Liberation Sans, sans-serif" font-size="10.5"><text x="617.4" y="23.8" textLength="48" lengthAdjust="spacingAndGlyphs">Real Data</text><text x="617.4" y="38.8" textLength="78.5" lengthAdjust="spacingAndGlyphs">Generated Data</text></g></svg></body></html>
